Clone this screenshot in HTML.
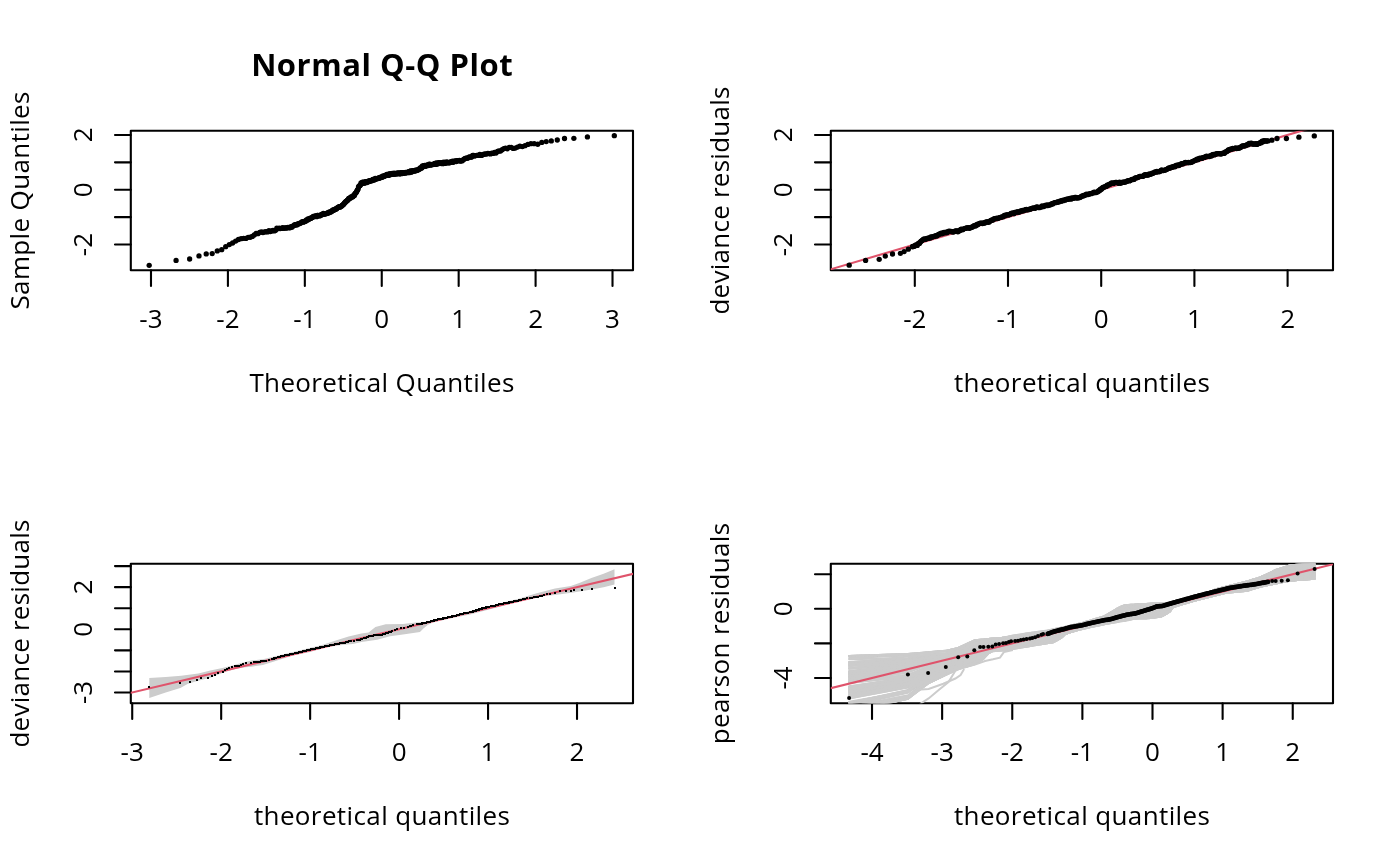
<!DOCTYPE html>
<html><head><meta charset="utf-8"><style>
html,body{margin:0;padding:0;background:#fff;}
svg{display:block;}
</style></head><body>
<svg width="1400" height="866" viewBox="0 0 1400 866" font-family="'Open Sans', 'Liberation Sans', sans-serif" font-size="26" fill="#000">
<rect width="1400" height="866" fill="#fff"/>
<defs><clipPath id="c1"><rect x="130.8" y="130.8" width="502.2" height="139.5"/></clipPath><clipPath id="c2"><rect x="830.8" y="130.8" width="502.2" height="139.5"/></clipPath><clipPath id="c3"><rect x="130.8" y="563.8" width="502.2" height="139.5"/></clipPath><clipPath id="c4"><rect x="830.8" y="563.8" width="502.2" height="139.5"/></clipPath></defs>
<rect x="130.8" y="130.8" width="502.2" height="139.5" fill="none" stroke="#000" stroke-width="2.1" stroke-linejoin="round"/>
<path d="M150.99 270.3V285.9M227.91 270.3V285.9M304.83 270.3V285.9M381.75 270.3V285.9M458.67 270.3V285.9M535.59 270.3V285.9M612.51 270.3V285.9M130.8 244.55H115M130.8 217.15H115M130.8 189.74H115M130.8 162.34H115M130.8 134.93H115" stroke="#000" stroke-width="2.1" stroke-linecap="round" fill="none"/>
<text x="150.99" y="327.5" text-anchor="middle">-3</text>
<text x="227.91" y="327.5" text-anchor="middle">-2</text>
<text x="304.83" y="327.5" text-anchor="middle">-1</text>
<text x="381.75" y="327.5" text-anchor="middle">0</text>
<text x="458.67" y="327.5" text-anchor="middle">1</text>
<text x="535.59" y="327.5" text-anchor="middle">2</text>
<text x="612.51" y="327.5" text-anchor="middle">3</text>
<text transform="translate(92 244.55) rotate(-90)" text-anchor="middle">-2</text>
<text transform="translate(92 189.74) rotate(-90)" text-anchor="middle">0</text>
<text transform="translate(92 134.93) rotate(-90)" text-anchor="middle">2</text>
<text x="381.9" y="391.8" text-anchor="middle" textLength="265" lengthAdjust="spacing">Theoretical Quantiles</text>
<text transform="translate(28.9 200.55) rotate(-90)" text-anchor="middle" textLength="218" lengthAdjust="spacing">Sample Quantiles</text>
<text x="381.9" y="76.4" text-anchor="middle" font-weight="bold" font-size="31" textLength="261.5" lengthAdjust="spacing">Normal Q-Q Plot</text>
<g clip-path="url(#c1)"><circle cx="149.19" cy="265.3" r="2.65"/><circle cx="176.08" cy="260.39" r="2.65"/><circle cx="189.63" cy="259.01" r="2.65"/><circle cx="198.99" cy="255.94" r="2.65"/><circle cx="206.23" cy="253.95" r="2.65"/><circle cx="212.19" cy="253.55" r="2.65"/><circle cx="217.28" cy="250.95" r="2.65"/><circle cx="221.73" cy="249.65" r="2.65"/><circle cx="225.71" cy="246.7" r="2.65"/><circle cx="229.31" cy="244.53" r="2.65"/><circle cx="232.6" cy="242.98" r="2.65"/><circle cx="235.64" cy="241.03" r="2.65"/><circle cx="238.47" cy="239.52" r="2.65"/><circle cx="241.11" cy="238.69" r="2.65"/><circle cx="243.6" cy="238.32" r="2.65"/><circle cx="245.96" cy="238.42" r="2.65"/><circle cx="248.19" cy="237.29" r="2.65"/><circle cx="250.31" cy="237.23" r="2.65"/><circle cx="252.34" cy="236.44" r="2.65"/><circle cx="254.29" cy="234.95" r="2.65"/><circle cx="256.15" cy="233.28" r="2.65"/><circle cx="257.94" cy="233.71" r="2.65"/><circle cx="259.67" cy="232.37" r="2.65"/><circle cx="261.34" cy="232.01" r="2.65"/><circle cx="262.96" cy="232.51" r="2.65"/><circle cx="264.52" cy="231.93" r="2.65"/><circle cx="266.04" cy="231.63" r="2.65"/><circle cx="267.51" cy="231.92" r="2.65"/><circle cx="268.94" cy="230.75" r="2.65"/><circle cx="270.34" cy="231.57" r="2.65"/><circle cx="271.7" cy="230.94" r="2.65"/><circle cx="273.02" cy="230.31" r="2.65"/><circle cx="274.31" cy="230.88" r="2.65"/><circle cx="275.58" cy="230.35" r="2.65"/><circle cx="276.81" cy="228.26" r="2.65"/><circle cx="278.02" cy="228.67" r="2.65"/><circle cx="279.21" cy="228.08" r="2.65"/><circle cx="280.37" cy="228.58" r="2.65"/><circle cx="281.51" cy="228.43" r="2.65"/><circle cx="282.62" cy="227.61" r="2.65"/><circle cx="283.72" cy="228.36" r="2.65"/><circle cx="284.79" cy="228" r="2.65"/><circle cx="285.85" cy="227.93" r="2.65"/><circle cx="286.89" cy="228.01" r="2.65"/><circle cx="287.91" cy="227.36" r="2.65"/><circle cx="288.92" cy="227.72" r="2.65"/><circle cx="289.91" cy="227.78" r="2.65"/><circle cx="290.89" cy="226.6" r="2.65"/><circle cx="291.85" cy="227.32" r="2.65"/><circle cx="292.8" cy="226.1" r="2.65"/><circle cx="293.73" cy="225.66" r="2.65"/><circle cx="294.65" cy="224.74" r="2.65"/><circle cx="295.56" cy="225.19" r="2.65"/><circle cx="296.46" cy="224.29" r="2.65"/><circle cx="297.34" cy="224.78" r="2.65"/><circle cx="298.22" cy="223.63" r="2.65"/><circle cx="299.08" cy="223.72" r="2.65"/><circle cx="299.94" cy="223.18" r="2.65"/><circle cx="300.78" cy="223.1" r="2.65"/><circle cx="301.61" cy="222.12" r="2.65"/><circle cx="302.44" cy="221.72" r="2.65"/><circle cx="303.25" cy="222.13" r="2.65"/><circle cx="304.06" cy="221.76" r="2.65"/><circle cx="304.86" cy="221.13" r="2.65"/><circle cx="305.65" cy="221.26" r="2.65"/><circle cx="306.43" cy="219.83" r="2.65"/><circle cx="307.21" cy="220.3" r="2.65"/><circle cx="307.97" cy="218.92" r="2.65"/><circle cx="308.73" cy="219.6" r="2.65"/><circle cx="309.49" cy="218.7" r="2.65"/><circle cx="310.23" cy="218.26" r="2.65"/><circle cx="310.97" cy="218.35" r="2.65"/><circle cx="311.71" cy="217.75" r="2.65"/><circle cx="312.43" cy="217.58" r="2.65"/><circle cx="313.15" cy="216.38" r="2.65"/><circle cx="313.87" cy="216.65" r="2.65"/><circle cx="314.58" cy="216.08" r="2.65"/><circle cx="315.28" cy="216.06" r="2.65"/><circle cx="315.98" cy="215.92" r="2.65"/><circle cx="316.67" cy="216.65" r="2.65"/><circle cx="317.36" cy="215.46" r="2.65"/><circle cx="318.04" cy="215.49" r="2.65"/><circle cx="318.71" cy="215.55" r="2.65"/><circle cx="319.39" cy="215.84" r="2.65"/><circle cx="320.05" cy="215.8" r="2.65"/><circle cx="320.72" cy="215.23" r="2.65"/><circle cx="321.37" cy="214.33" r="2.65"/><circle cx="322.03" cy="214.6" r="2.65"/><circle cx="322.68" cy="214.62" r="2.65"/><circle cx="323.32" cy="213.52" r="2.65"/><circle cx="323.96" cy="214.24" r="2.65"/><circle cx="324.6" cy="213.65" r="2.65"/><circle cx="325.23" cy="213.81" r="2.65"/><circle cx="325.86" cy="213.77" r="2.65"/><circle cx="326.49" cy="213.62" r="2.65"/><circle cx="327.11" cy="213.26" r="2.65"/><circle cx="327.73" cy="213.16" r="2.65"/><circle cx="328.35" cy="212.51" r="2.65"/><circle cx="328.96" cy="212.76" r="2.65"/><circle cx="329.57" cy="211.9" r="2.65"/><circle cx="330.17" cy="212.06" r="2.65"/><circle cx="330.77" cy="211.8" r="2.65"/><circle cx="331.37" cy="211.8" r="2.65"/><circle cx="331.97" cy="210.93" r="2.65"/><circle cx="332.56" cy="210.07" r="2.65"/><circle cx="333.15" cy="210.45" r="2.65"/><circle cx="333.74" cy="209.67" r="2.65"/><circle cx="334.32" cy="210.09" r="2.65"/><circle cx="334.9" cy="209.28" r="2.65"/><circle cx="335.48" cy="208.95" r="2.65"/><circle cx="336.06" cy="209.37" r="2.65"/><circle cx="336.63" cy="208.33" r="2.65"/><circle cx="337.2" cy="207.95" r="2.65"/><circle cx="337.77" cy="207.64" r="2.65"/><circle cx="338.34" cy="207.51" r="2.65"/><circle cx="338.9" cy="206.66" r="2.65"/><circle cx="339.46" cy="206.98" r="2.65"/><circle cx="340.02" cy="207.2" r="2.65"/><circle cx="340.58" cy="206.34" r="2.65"/><circle cx="341.14" cy="206.15" r="2.65"/><circle cx="341.69" cy="205.99" r="2.65"/><circle cx="342.24" cy="205.4" r="2.65"/><circle cx="342.79" cy="204.82" r="2.65"/><circle cx="343.34" cy="204.48" r="2.65"/><circle cx="343.88" cy="204.05" r="2.65"/><circle cx="344.42" cy="202.82" r="2.65"/><circle cx="344.97" cy="202.7" r="2.65"/><circle cx="345.51" cy="201.97" r="2.65"/><circle cx="346.04" cy="201.32" r="2.65"/><circle cx="346.58" cy="201.22" r="2.65"/><circle cx="347.11" cy="200.33" r="2.65"/><circle cx="347.65" cy="200.22" r="2.65"/><circle cx="348.18" cy="199.64" r="2.65"/><circle cx="348.71" cy="198.44" r="2.65"/><circle cx="349.23" cy="198.49" r="2.65"/><circle cx="349.76" cy="198.12" r="2.65"/><circle cx="350.29" cy="198.27" r="2.65"/><circle cx="350.81" cy="197.11" r="2.65"/><circle cx="351.33" cy="196.93" r="2.65"/><circle cx="351.85" cy="197.12" r="2.65"/><circle cx="352.37" cy="196.68" r="2.65"/><circle cx="352.89" cy="196.75" r="2.65"/><circle cx="353.4" cy="195.8" r="2.65"/><circle cx="353.92" cy="194.99" r="2.65"/><circle cx="354.43" cy="195.4" r="2.65"/><circle cx="354.95" cy="193.81" r="2.65"/><circle cx="355.46" cy="193.06" r="2.65"/><circle cx="355.97" cy="192.63" r="2.65"/><circle cx="356.48" cy="192.1" r="2.65"/><circle cx="356.99" cy="190.74" r="2.65"/><circle cx="357.49" cy="189.95" r="2.65"/><circle cx="358" cy="189.29" r="2.65"/><circle cx="358.5" cy="186.93" r="2.65"/><circle cx="359.01" cy="186.22" r="2.65"/><circle cx="359.51" cy="185.83" r="2.65"/><circle cx="360.01" cy="185.39" r="2.65"/><circle cx="360.52" cy="184.81" r="2.65"/><circle cx="361.02" cy="182.87" r="2.65"/><circle cx="361.51" cy="183.1" r="2.65"/><circle cx="362.01" cy="183.49" r="2.65"/><circle cx="362.51" cy="182.25" r="2.65"/><circle cx="363.01" cy="182.91" r="2.65"/><circle cx="363.5" cy="182.24" r="2.65"/><circle cx="364" cy="182.99" r="2.65"/><circle cx="364.49" cy="183.14" r="2.65"/><circle cx="364.99" cy="182.5" r="2.65"/><circle cx="365.48" cy="181.67" r="2.65"/><circle cx="365.97" cy="181.66" r="2.65"/><circle cx="366.47" cy="182.06" r="2.65"/><circle cx="366.96" cy="182.49" r="2.65"/><circle cx="367.45" cy="181.46" r="2.65"/><circle cx="367.94" cy="181.9" r="2.65"/><circle cx="368.43" cy="181.36" r="2.65"/><circle cx="368.92" cy="180.99" r="2.65"/><circle cx="369.41" cy="181.43" r="2.65"/><circle cx="369.89" cy="180.71" r="2.65"/><circle cx="370.38" cy="180.62" r="2.65"/><circle cx="370.87" cy="181" r="2.65"/><circle cx="371.35" cy="180.45" r="2.65"/><circle cx="371.84" cy="180.69" r="2.65"/><circle cx="372.33" cy="180.14" r="2.65"/><circle cx="372.81" cy="179.45" r="2.65"/><circle cx="373.3" cy="179.66" r="2.65"/><circle cx="373.78" cy="180.07" r="2.65"/><circle cx="374.27" cy="179.45" r="2.65"/><circle cx="374.75" cy="179.83" r="2.65"/><circle cx="375.23" cy="178.29" r="2.65"/><circle cx="375.72" cy="178.58" r="2.65"/><circle cx="376.2" cy="178.99" r="2.65"/><circle cx="376.69" cy="178.71" r="2.65"/><circle cx="377.17" cy="178.42" r="2.65"/><circle cx="377.65" cy="178.44" r="2.65"/><circle cx="378.13" cy="178.62" r="2.65"/><circle cx="378.62" cy="178.23" r="2.65"/><circle cx="379.1" cy="177.92" r="2.65"/><circle cx="379.58" cy="177.82" r="2.65"/><circle cx="380.06" cy="177.84" r="2.65"/><circle cx="380.54" cy="177.24" r="2.65"/><circle cx="381.03" cy="177.52" r="2.65"/><circle cx="381.51" cy="177.25" r="2.65"/><circle cx="381.99" cy="177.29" r="2.65"/><circle cx="382.47" cy="176.67" r="2.65"/><circle cx="382.96" cy="175.84" r="2.65"/><circle cx="383.44" cy="176.36" r="2.65"/><circle cx="383.92" cy="176.61" r="2.65"/><circle cx="384.4" cy="176.11" r="2.65"/><circle cx="384.88" cy="175.92" r="2.65"/><circle cx="385.37" cy="175.37" r="2.65"/><circle cx="385.85" cy="175.12" r="2.65"/><circle cx="386.33" cy="175.43" r="2.65"/><circle cx="386.81" cy="174.43" r="2.65"/><circle cx="387.3" cy="175.44" r="2.65"/><circle cx="387.78" cy="175.36" r="2.65"/><circle cx="388.27" cy="175.39" r="2.65"/><circle cx="388.75" cy="174.14" r="2.65"/><circle cx="389.23" cy="174.01" r="2.65"/><circle cx="389.72" cy="175.01" r="2.65"/><circle cx="390.2" cy="174.23" r="2.65"/><circle cx="390.69" cy="173.95" r="2.65"/><circle cx="391.17" cy="174.01" r="2.65"/><circle cx="391.66" cy="174.31" r="2.65"/><circle cx="392.15" cy="173.52" r="2.65"/><circle cx="392.63" cy="173.93" r="2.65"/><circle cx="393.12" cy="174.12" r="2.65"/><circle cx="393.61" cy="174.15" r="2.65"/><circle cx="394.09" cy="173.11" r="2.65"/><circle cx="394.58" cy="174.18" r="2.65"/><circle cx="395.07" cy="173.6" r="2.65"/><circle cx="395.56" cy="173.55" r="2.65"/><circle cx="396.05" cy="173.68" r="2.65"/><circle cx="396.54" cy="173.23" r="2.65"/><circle cx="397.03" cy="174.03" r="2.65"/><circle cx="397.53" cy="173.04" r="2.65"/><circle cx="398.02" cy="173.45" r="2.65"/><circle cx="398.51" cy="172.88" r="2.65"/><circle cx="399.01" cy="173.47" r="2.65"/><circle cx="399.5" cy="173.82" r="2.65"/><circle cx="400" cy="173.75" r="2.65"/><circle cx="400.49" cy="172.66" r="2.65"/><circle cx="400.99" cy="173.3" r="2.65"/><circle cx="401.49" cy="173.63" r="2.65"/><circle cx="401.99" cy="172.62" r="2.65"/><circle cx="402.48" cy="172.88" r="2.65"/><circle cx="402.98" cy="173.25" r="2.65"/><circle cx="403.49" cy="173.24" r="2.65"/><circle cx="403.99" cy="172.77" r="2.65"/><circle cx="404.49" cy="172.95" r="2.65"/><circle cx="405" cy="172.92" r="2.65"/><circle cx="405.5" cy="172.39" r="2.65"/><circle cx="406.01" cy="172.73" r="2.65"/><circle cx="406.51" cy="172.55" r="2.65"/><circle cx="407.02" cy="172.64" r="2.65"/><circle cx="407.53" cy="172.3" r="2.65"/><circle cx="408.04" cy="171.97" r="2.65"/><circle cx="408.55" cy="172.03" r="2.65"/><circle cx="409.07" cy="172.63" r="2.65"/><circle cx="409.58" cy="171.49" r="2.65"/><circle cx="410.1" cy="171.31" r="2.65"/><circle cx="410.61" cy="170.99" r="2.65"/><circle cx="411.13" cy="172.04" r="2.65"/><circle cx="411.65" cy="172.11" r="2.65"/><circle cx="412.17" cy="170.93" r="2.65"/><circle cx="412.69" cy="170.84" r="2.65"/><circle cx="413.21" cy="170.62" r="2.65"/><circle cx="413.74" cy="171.05" r="2.65"/><circle cx="414.27" cy="170.76" r="2.65"/><circle cx="414.79" cy="171.1" r="2.65"/><circle cx="415.32" cy="170.07" r="2.65"/><circle cx="415.85" cy="170.81" r="2.65"/><circle cx="416.39" cy="170.04" r="2.65"/><circle cx="416.92" cy="170.32" r="2.65"/><circle cx="417.46" cy="170.11" r="2.65"/><circle cx="417.99" cy="170.07" r="2.65"/><circle cx="418.53" cy="169.29" r="2.65"/><circle cx="419.08" cy="169.25" r="2.65"/><circle cx="419.62" cy="168.97" r="2.65"/><circle cx="420.16" cy="168" r="2.65"/><circle cx="420.71" cy="167.99" r="2.65"/><circle cx="421.26" cy="168.13" r="2.65"/><circle cx="421.81" cy="167.66" r="2.65"/><circle cx="422.36" cy="165.96" r="2.65"/><circle cx="422.92" cy="166.67" r="2.65"/><circle cx="423.48" cy="166.03" r="2.65"/><circle cx="424.04" cy="165.6" r="2.65"/><circle cx="424.6" cy="165.44" r="2.65"/><circle cx="425.16" cy="166.18" r="2.65"/><circle cx="425.73" cy="166.24" r="2.65"/><circle cx="426.3" cy="165.46" r="2.65"/><circle cx="426.87" cy="165.15" r="2.65"/><circle cx="427.44" cy="165.21" r="2.65"/><circle cx="428.02" cy="165.55" r="2.65"/><circle cx="428.6" cy="165.32" r="2.65"/><circle cx="429.18" cy="164.25" r="2.65"/><circle cx="429.76" cy="164.35" r="2.65"/><circle cx="430.35" cy="165.15" r="2.65"/><circle cx="430.94" cy="164.51" r="2.65"/><circle cx="431.53" cy="164.63" r="2.65"/><circle cx="432.13" cy="164.68" r="2.65"/><circle cx="432.73" cy="164.39" r="2.65"/><circle cx="433.33" cy="164.44" r="2.65"/><circle cx="433.93" cy="164.08" r="2.65"/><circle cx="434.54" cy="163.54" r="2.65"/><circle cx="435.15" cy="163.39" r="2.65"/><circle cx="435.77" cy="164.42" r="2.65"/><circle cx="436.39" cy="162.95" r="2.65"/><circle cx="437.01" cy="163.81" r="2.65"/><circle cx="437.64" cy="163.97" r="2.65"/><circle cx="438.27" cy="162.99" r="2.65"/><circle cx="438.9" cy="162.68" r="2.65"/><circle cx="439.54" cy="163.12" r="2.65"/><circle cx="440.18" cy="162.96" r="2.65"/><circle cx="440.82" cy="163.09" r="2.65"/><circle cx="441.47" cy="162.99" r="2.65"/><circle cx="442.13" cy="163.65" r="2.65"/><circle cx="442.78" cy="162.44" r="2.65"/><circle cx="443.45" cy="163.54" r="2.65"/><circle cx="444.11" cy="162.22" r="2.65"/><circle cx="444.79" cy="163.41" r="2.65"/><circle cx="445.46" cy="162.51" r="2.65"/><circle cx="446.14" cy="163.01" r="2.65"/><circle cx="446.83" cy="161.94" r="2.65"/><circle cx="447.52" cy="162.5" r="2.65"/><circle cx="448.22" cy="162.76" r="2.65"/><circle cx="448.92" cy="162.64" r="2.65"/><circle cx="449.63" cy="162.82" r="2.65"/><circle cx="450.35" cy="161.79" r="2.65"/><circle cx="451.07" cy="162.01" r="2.65"/><circle cx="451.79" cy="162.18" r="2.65"/><circle cx="452.53" cy="161.24" r="2.65"/><circle cx="453.27" cy="162.24" r="2.65"/><circle cx="454.01" cy="161.52" r="2.65"/><circle cx="454.77" cy="161.15" r="2.65"/><circle cx="455.53" cy="160.99" r="2.65"/><circle cx="456.29" cy="161.49" r="2.65"/><circle cx="457.07" cy="160.54" r="2.65"/><circle cx="457.85" cy="160.72" r="2.65"/><circle cx="458.64" cy="160.69" r="2.65"/><circle cx="459.44" cy="160.52" r="2.65"/><circle cx="460.25" cy="161.08" r="2.65"/><circle cx="461.06" cy="160.77" r="2.65"/><circle cx="461.89" cy="160.94" r="2.65"/><circle cx="462.72" cy="160.28" r="2.65"/><circle cx="463.56" cy="159.33" r="2.65"/><circle cx="464.42" cy="158.98" r="2.65"/><circle cx="465.28" cy="158.3" r="2.65"/><circle cx="466.16" cy="158.07" r="2.65"/><circle cx="467.04" cy="158.17" r="2.65"/><circle cx="467.94" cy="158.03" r="2.65"/><circle cx="468.85" cy="157.11" r="2.65"/><circle cx="469.77" cy="156.86" r="2.65"/><circle cx="470.7" cy="157.18" r="2.65"/><circle cx="471.65" cy="157.07" r="2.65"/><circle cx="472.61" cy="155.52" r="2.65"/><circle cx="473.59" cy="155.29" r="2.65"/><circle cx="474.58" cy="156.1" r="2.65"/><circle cx="475.59" cy="155.57" r="2.65"/><circle cx="476.61" cy="155.31" r="2.65"/><circle cx="477.65" cy="155.44" r="2.65"/><circle cx="478.71" cy="155.45" r="2.65"/><circle cx="479.78" cy="154.33" r="2.65"/><circle cx="480.88" cy="155.43" r="2.65"/><circle cx="481.99" cy="155.26" r="2.65"/><circle cx="483.13" cy="154.35" r="2.65"/><circle cx="484.29" cy="154.26" r="2.65"/><circle cx="485.48" cy="153.8" r="2.65"/><circle cx="486.69" cy="154.05" r="2.65"/><circle cx="487.92" cy="153.32" r="2.65"/><circle cx="489.19" cy="153.58" r="2.65"/><circle cx="490.48" cy="153.9" r="2.65"/><circle cx="491.8" cy="153.16" r="2.65"/><circle cx="493.16" cy="153.41" r="2.65"/><circle cx="494.56" cy="152.31" r="2.65"/><circle cx="495.99" cy="153.03" r="2.65"/><circle cx="497.46" cy="151.42" r="2.65"/><circle cx="498.98" cy="150.99" r="2.65"/><circle cx="500.54" cy="151.09" r="2.65"/><circle cx="502.16" cy="149.69" r="2.65"/><circle cx="503.83" cy="148.6" r="2.65"/><circle cx="505.56" cy="148.12" r="2.65"/><circle cx="507.35" cy="148.83" r="2.65"/><circle cx="509.21" cy="147.45" r="2.65"/><circle cx="511.16" cy="147.32" r="2.65"/><circle cx="513.19" cy="148.46" r="2.65"/><circle cx="515.31" cy="148.12" r="2.65"/><circle cx="517.54" cy="147.05" r="2.65"/><circle cx="519.9" cy="146.2" r="2.65"/><circle cx="522.39" cy="146.55" r="2.65"/><circle cx="525.03" cy="145.69" r="2.65"/><circle cx="527.86" cy="144.42" r="2.65"/><circle cx="530.9" cy="143.64" r="2.65"/><circle cx="534.19" cy="143.64" r="2.65"/><circle cx="537.79" cy="144.27" r="2.65"/><circle cx="541.77" cy="142.44" r="2.65"/><circle cx="546.22" cy="141.54" r="2.65"/><circle cx="551.31" cy="140.92" r="2.65"/><circle cx="557.27" cy="140.01" r="2.65"/><circle cx="564.51" cy="138.52" r="2.65"/><circle cx="573.87" cy="138.3" r="2.65"/><circle cx="587.42" cy="136.9" r="2.65"/><circle cx="614.31" cy="135.7" r="2.65"/></g>
<rect x="830.8" y="130.8" width="502.2" height="139.5" fill="none" stroke="#000" stroke-width="2.1" stroke-linejoin="round"/>
<path d="M914.8 270.3V285.9M1008 270.3V285.9M1101.2 270.3V285.9M1194.4 270.3V285.9M1287.6 270.3V285.9M830.8 244.55H815M830.8 217.15H815M830.8 189.74H815M830.8 162.34H815M830.8 134.93H815" stroke="#000" stroke-width="2.1" stroke-linecap="round" fill="none"/>
<text x="914.8" y="327.5" text-anchor="middle">-2</text>
<text x="1008" y="327.5" text-anchor="middle">-1</text>
<text x="1101.2" y="327.5" text-anchor="middle">0</text>
<text x="1194.4" y="327.5" text-anchor="middle">1</text>
<text x="1287.6" y="327.5" text-anchor="middle">2</text>
<text transform="translate(792 244.55) rotate(-90)" text-anchor="middle">-2</text>
<text transform="translate(792 189.74) rotate(-90)" text-anchor="middle">0</text>
<text transform="translate(792 134.93) rotate(-90)" text-anchor="middle">2</text>
<text x="1081.9" y="391.8" text-anchor="middle" textLength="256" lengthAdjust="spacing">theoretical quantiles</text>
<text transform="translate(728.9 200.55) rotate(-90)" text-anchor="middle" textLength="228" lengthAdjust="spacing">deviance residuals</text>
<g clip-path="url(#c2)"><line x1="728.4" y1="299.36" x2="1474" y2="80.12" stroke="#DF536B" stroke-width="2.1"/><circle cx="849.2" cy="265.2" r="2.65"/><circle cx="865.6" cy="260.4" r="2.65"/><circle cx="879.2" cy="259.3" r="2.65"/><circle cx="885.3" cy="256.1" r="2.65"/><circle cx="892.5" cy="254" r="2.65"/><circle cx="900.4" cy="253.4" r="2.65"/><circle cx="904.1" cy="251.6" r="2.65"/><circle cx="908.3" cy="249.2" r="2.65"/><circle cx="912.6" cy="246.8" r="2.65"/><circle cx="1271.9" cy="140.2" r="2.65"/><circle cx="1277" cy="138.5" r="2.65"/><circle cx="1286.4" cy="138.5" r="2.65"/><circle cx="1298.9" cy="137.2" r="2.65"/><circle cx="1314.3" cy="135.9" r="2.65"/><circle cx="912.6" cy="246.35" r="2.65"/><circle cx="913.53" cy="246.43" r="2.65"/><circle cx="914.46" cy="246.19" r="2.65"/><circle cx="915.39" cy="245.13" r="2.65"/><circle cx="916.32" cy="244.91" r="2.65"/><circle cx="917.25" cy="245.47" r="2.65"/><circle cx="918" cy="243.8" r="2.65"/><circle cx="918.71" cy="243.17" r="2.65"/><circle cx="919.43" cy="243.45" r="2.65"/><circle cx="920.14" cy="242.36" r="2.65"/><circle cx="920.86" cy="241.36" r="2.65"/><circle cx="921.57" cy="240.83" r="2.65"/><circle cx="922.28" cy="240.31" r="2.65"/><circle cx="923.22" cy="239.49" r="2.65"/><circle cx="924.15" cy="238.97" r="2.65"/><circle cx="925.09" cy="239.4" r="2.65"/><circle cx="926.03" cy="238.91" r="2.65"/><circle cx="926.96" cy="238.37" r="2.65"/><circle cx="927.92" cy="238.47" r="2.65"/><circle cx="928.89" cy="237.89" r="2.65"/><circle cx="929.86" cy="238.16" r="2.65"/><circle cx="930.83" cy="236.98" r="2.65"/><circle cx="931.8" cy="237.14" r="2.65"/><circle cx="932.76" cy="236.81" r="2.65"/><circle cx="933.73" cy="236.4" r="2.65"/><circle cx="934.69" cy="236.39" r="2.65"/><circle cx="935.61" cy="235.58" r="2.65"/><circle cx="936.54" cy="235.89" r="2.65"/><circle cx="937.46" cy="235.58" r="2.65"/><circle cx="938.39" cy="234.32" r="2.65"/><circle cx="939.31" cy="234.34" r="2.65"/><circle cx="940.24" cy="233.73" r="2.65"/><circle cx="941.16" cy="233.12" r="2.65"/><circle cx="942.11" cy="233.79" r="2.65"/><circle cx="943.08" cy="233.01" r="2.65"/><circle cx="944.06" cy="232.46" r="2.65"/><circle cx="945.04" cy="232.88" r="2.65"/><circle cx="946.01" cy="232.1" r="2.65"/><circle cx="946.99" cy="232.72" r="2.65"/><circle cx="947.97" cy="231.69" r="2.65"/><circle cx="948.94" cy="231.25" r="2.65"/><circle cx="949.94" cy="231.39" r="2.65"/><circle cx="950.94" cy="231.5" r="2.65"/><circle cx="951.94" cy="231.59" r="2.65"/><circle cx="952.94" cy="232.06" r="2.65"/><circle cx="953.93" cy="231.75" r="2.65"/><circle cx="954.93" cy="231.26" r="2.65"/><circle cx="955.93" cy="230.81" r="2.65"/><circle cx="956.93" cy="230.93" r="2.65"/><circle cx="957.9" cy="231.74" r="2.65"/><circle cx="958.83" cy="230.73" r="2.65"/><circle cx="959.76" cy="230.64" r="2.65"/><circle cx="960.69" cy="229.51" r="2.65"/><circle cx="961.62" cy="229.12" r="2.65"/><circle cx="962.55" cy="229.73" r="2.65"/><circle cx="963.48" cy="229.05" r="2.65"/><circle cx="964.46" cy="228.53" r="2.65"/><circle cx="965.45" cy="228.38" r="2.65"/><circle cx="966.44" cy="227.94" r="2.65"/><circle cx="967.42" cy="227.88" r="2.65"/><circle cx="968.41" cy="227.54" r="2.65"/><circle cx="969.4" cy="228.35" r="2.65"/><circle cx="970.38" cy="227.74" r="2.65"/><circle cx="971.33" cy="227.05" r="2.65"/><circle cx="972.23" cy="227.36" r="2.65"/><circle cx="973.14" cy="226.28" r="2.65"/><circle cx="974.04" cy="225.69" r="2.65"/><circle cx="974.95" cy="225.91" r="2.65"/><circle cx="975.85" cy="225.84" r="2.65"/><circle cx="976.76" cy="224.37" r="2.65"/><circle cx="977.66" cy="224.87" r="2.65"/><circle cx="978.6" cy="223.81" r="2.65"/><circle cx="979.57" cy="223.45" r="2.65"/><circle cx="980.54" cy="223.12" r="2.65"/><circle cx="981.51" cy="223.22" r="2.65"/><circle cx="982.48" cy="223.5" r="2.65"/><circle cx="983.45" cy="222.98" r="2.65"/><circle cx="984.43" cy="223.17" r="2.65"/><circle cx="985.4" cy="222.17" r="2.65"/><circle cx="986.37" cy="222.05" r="2.65"/><circle cx="987.34" cy="221.75" r="2.65"/><circle cx="988.29" cy="222.31" r="2.65"/><circle cx="989.21" cy="221.88" r="2.65"/><circle cx="990.14" cy="220.78" r="2.65"/><circle cx="991.06" cy="220.51" r="2.65"/><circle cx="991.98" cy="219.98" r="2.65"/><circle cx="992.91" cy="220.11" r="2.65"/><circle cx="993.83" cy="218.88" r="2.65"/><circle cx="994.77" cy="218.58" r="2.65"/><circle cx="995.72" cy="218.66" r="2.65"/><circle cx="996.67" cy="218.15" r="2.65"/><circle cx="997.61" cy="218.54" r="2.65"/><circle cx="998.56" cy="218.09" r="2.65"/><circle cx="999.5" cy="217.53" r="2.65"/><circle cx="1000.45" cy="217.35" r="2.65"/><circle cx="1001.39" cy="217.06" r="2.65"/><circle cx="1002.34" cy="216.84" r="2.65"/><circle cx="1003.29" cy="216.69" r="2.65"/><circle cx="1004.23" cy="215.44" r="2.65"/><circle cx="1005.18" cy="215.68" r="2.65"/><circle cx="1006.12" cy="214.78" r="2.65"/><circle cx="1007.07" cy="214.82" r="2.65"/><circle cx="1008.02" cy="214.91" r="2.65"/><circle cx="1008.99" cy="214.8" r="2.65"/><circle cx="1009.96" cy="214.4" r="2.65"/><circle cx="1010.93" cy="213.28" r="2.65"/><circle cx="1011.9" cy="213.43" r="2.65"/><circle cx="1012.87" cy="212.95" r="2.65"/><circle cx="1013.84" cy="213.71" r="2.65"/><circle cx="1014.81" cy="212.45" r="2.65"/><circle cx="1015.78" cy="212.32" r="2.65"/><circle cx="1016.75" cy="212.22" r="2.65"/><circle cx="1017.72" cy="211.62" r="2.65"/><circle cx="1018.69" cy="212.35" r="2.65"/><circle cx="1019.66" cy="211.82" r="2.65"/><circle cx="1020.63" cy="211.01" r="2.65"/><circle cx="1021.6" cy="211.17" r="2.65"/><circle cx="1022.57" cy="210.43" r="2.65"/><circle cx="1023.54" cy="210.83" r="2.65"/><circle cx="1024.51" cy="210.13" r="2.65"/><circle cx="1025.48" cy="209.66" r="2.65"/><circle cx="1026.45" cy="209.51" r="2.65"/><circle cx="1027.43" cy="209.8" r="2.65"/><circle cx="1028.4" cy="209.66" r="2.65"/><circle cx="1029.37" cy="209.04" r="2.65"/><circle cx="1030.34" cy="209.18" r="2.65"/><circle cx="1031.31" cy="208.59" r="2.65"/><circle cx="1032.28" cy="208.08" r="2.65"/><circle cx="1033.25" cy="208.07" r="2.65"/><circle cx="1034.23" cy="207.95" r="2.65"/><circle cx="1035.21" cy="208.37" r="2.65"/><circle cx="1036.19" cy="207.21" r="2.65"/><circle cx="1037.17" cy="206.98" r="2.65"/><circle cx="1038.15" cy="207.35" r="2.65"/><circle cx="1039.13" cy="207.63" r="2.65"/><circle cx="1040.11" cy="207.37" r="2.65"/><circle cx="1041.09" cy="206.92" r="2.65"/><circle cx="1042.07" cy="205.96" r="2.65"/><circle cx="1043.05" cy="206.65" r="2.65"/><circle cx="1044.03" cy="206.3" r="2.65"/><circle cx="1045.01" cy="205.46" r="2.65"/><circle cx="1045.99" cy="205.64" r="2.65"/><circle cx="1046.95" cy="204.89" r="2.65"/><circle cx="1047.91" cy="205.49" r="2.65"/><circle cx="1048.86" cy="205.1" r="2.65"/><circle cx="1049.82" cy="204.9" r="2.65"/><circle cx="1050.77" cy="204.55" r="2.65"/><circle cx="1051.73" cy="203.67" r="2.65"/><circle cx="1052.68" cy="204" r="2.65"/><circle cx="1053.64" cy="203.05" r="2.65"/><circle cx="1054.59" cy="202.62" r="2.65"/><circle cx="1055.55" cy="202.63" r="2.65"/><circle cx="1056.5" cy="202.46" r="2.65"/><circle cx="1057.46" cy="201.91" r="2.65"/><circle cx="1058.41" cy="202" r="2.65"/><circle cx="1059.37" cy="201.69" r="2.65"/><circle cx="1060.32" cy="200.96" r="2.65"/><circle cx="1061.28" cy="201.13" r="2.65"/><circle cx="1062.23" cy="200.51" r="2.65"/><circle cx="1063.19" cy="200.67" r="2.65"/><circle cx="1064.14" cy="199.84" r="2.65"/><circle cx="1065.1" cy="200.15" r="2.65"/><circle cx="1066.05" cy="199.39" r="2.65"/><circle cx="1067.01" cy="199.26" r="2.65"/><circle cx="1067.99" cy="199.26" r="2.65"/><circle cx="1068.98" cy="198.93" r="2.65"/><circle cx="1069.97" cy="198.47" r="2.65"/><circle cx="1070.96" cy="199.19" r="2.65"/><circle cx="1071.95" cy="197.99" r="2.65"/><circle cx="1072.94" cy="198.12" r="2.65"/><circle cx="1073.93" cy="198.24" r="2.65"/><circle cx="1074.92" cy="197.47" r="2.65"/><circle cx="1075.91" cy="197.48" r="2.65"/><circle cx="1076.9" cy="198.11" r="2.65"/><circle cx="1077.89" cy="197.94" r="2.65"/><circle cx="1078.86" cy="197.56" r="2.65"/><circle cx="1079.8" cy="197.53" r="2.65"/><circle cx="1080.73" cy="197" r="2.65"/><circle cx="1081.67" cy="196.1" r="2.65"/><circle cx="1082.61" cy="196.16" r="2.65"/><circle cx="1083.54" cy="195.44" r="2.65"/><circle cx="1084.48" cy="195.58" r="2.65"/><circle cx="1085.41" cy="194.79" r="2.65"/><circle cx="1086.35" cy="194.16" r="2.65"/><circle cx="1087.28" cy="194.67" r="2.65"/><circle cx="1088.25" cy="194.19" r="2.65"/><circle cx="1089.22" cy="194.03" r="2.65"/><circle cx="1090.2" cy="193.59" r="2.65"/><circle cx="1091.17" cy="193.65" r="2.65"/><circle cx="1092.15" cy="193.03" r="2.65"/><circle cx="1093.13" cy="192.95" r="2.65"/><circle cx="1094.1" cy="192.13" r="2.65"/><circle cx="1095.08" cy="192.5" r="2.65"/><circle cx="1096.05" cy="192.6" r="2.65"/><circle cx="1096.97" cy="192.1" r="2.65"/><circle cx="1097.8" cy="191.67" r="2.65"/><circle cx="1098.64" cy="190.75" r="2.65"/><circle cx="1099.47" cy="190.66" r="2.65"/><circle cx="1100.3" cy="189.18" r="2.65"/><circle cx="1101.14" cy="189.55" r="2.65"/><circle cx="1101.97" cy="188.39" r="2.65"/><circle cx="1102.8" cy="187.5" r="2.65"/><circle cx="1103.64" cy="187.58" r="2.65"/><circle cx="1104.48" cy="186.85" r="2.65"/><circle cx="1105.38" cy="186.37" r="2.65"/><circle cx="1106.27" cy="186.43" r="2.65"/><circle cx="1107.16" cy="185.12" r="2.65"/><circle cx="1108.05" cy="185.24" r="2.65"/><circle cx="1108.94" cy="184.54" r="2.65"/><circle cx="1109.84" cy="184.23" r="2.65"/><circle cx="1110.73" cy="183.74" r="2.65"/><circle cx="1111.62" cy="182.85" r="2.65"/><circle cx="1112.57" cy="183.08" r="2.65"/><circle cx="1113.57" cy="183.45" r="2.65"/><circle cx="1114.57" cy="182.57" r="2.65"/><circle cx="1115.57" cy="182.33" r="2.65"/><circle cx="1116.57" cy="182.34" r="2.65"/><circle cx="1117.57" cy="182.76" r="2.65"/><circle cx="1118.57" cy="183.33" r="2.65"/><circle cx="1119.56" cy="182.16" r="2.65"/><circle cx="1120.56" cy="183.25" r="2.65"/><circle cx="1121.56" cy="182.65" r="2.65"/><circle cx="1122.56" cy="182.1" r="2.65"/><circle cx="1123.56" cy="182.4" r="2.65"/><circle cx="1124.5" cy="181.83" r="2.65"/><circle cx="1125.45" cy="182.11" r="2.65"/><circle cx="1126.39" cy="181.57" r="2.65"/><circle cx="1127.33" cy="180.93" r="2.65"/><circle cx="1128.28" cy="180.56" r="2.65"/><circle cx="1129.22" cy="180.96" r="2.65"/><circle cx="1130.16" cy="180.51" r="2.65"/><circle cx="1131.11" cy="179.78" r="2.65"/><circle cx="1132.05" cy="179.42" r="2.65"/><circle cx="1133" cy="179.48" r="2.65"/><circle cx="1133.94" cy="179.43" r="2.65"/><circle cx="1134.88" cy="178.03" r="2.65"/><circle cx="1135.83" cy="177.79" r="2.65"/><circle cx="1136.77" cy="177.72" r="2.65"/><circle cx="1137.73" cy="177.61" r="2.65"/><circle cx="1138.69" cy="176.79" r="2.65"/><circle cx="1139.65" cy="176.48" r="2.65"/><circle cx="1140.6" cy="176.39" r="2.65"/><circle cx="1141.56" cy="176.3" r="2.65"/><circle cx="1142.52" cy="176.44" r="2.65"/><circle cx="1143.47" cy="175.99" r="2.65"/><circle cx="1144.43" cy="175.01" r="2.65"/><circle cx="1145.39" cy="174.74" r="2.65"/><circle cx="1146.35" cy="174.94" r="2.65"/><circle cx="1147.3" cy="175.15" r="2.65"/><circle cx="1148.26" cy="174.91" r="2.65"/><circle cx="1149.22" cy="173.96" r="2.65"/><circle cx="1150.18" cy="174.3" r="2.65"/><circle cx="1151.13" cy="174.07" r="2.65"/><circle cx="1152.09" cy="173.16" r="2.65"/><circle cx="1153.05" cy="173.28" r="2.65"/><circle cx="1154.01" cy="172.54" r="2.65"/><circle cx="1154.97" cy="172" r="2.65"/><circle cx="1155.93" cy="172.22" r="2.65"/><circle cx="1156.89" cy="171.35" r="2.65"/><circle cx="1157.85" cy="171.76" r="2.65"/><circle cx="1158.8" cy="171.65" r="2.65"/><circle cx="1159.76" cy="171.49" r="2.65"/><circle cx="1160.72" cy="170.65" r="2.65"/><circle cx="1161.68" cy="169.97" r="2.65"/><circle cx="1162.65" cy="170.67" r="2.65"/><circle cx="1163.63" cy="170.42" r="2.65"/><circle cx="1164.61" cy="170.34" r="2.65"/><circle cx="1165.59" cy="169.68" r="2.65"/><circle cx="1166.56" cy="169.55" r="2.65"/><circle cx="1167.49" cy="168.81" r="2.65"/><circle cx="1168.41" cy="168.21" r="2.65"/><circle cx="1169.34" cy="167.97" r="2.65"/><circle cx="1170.27" cy="168.12" r="2.65"/><circle cx="1171.2" cy="167.27" r="2.65"/><circle cx="1172.13" cy="167.34" r="2.65"/><circle cx="1173.06" cy="166.75" r="2.65"/><circle cx="1174.02" cy="166.41" r="2.65"/><circle cx="1174.98" cy="166.74" r="2.65"/><circle cx="1175.94" cy="165.5" r="2.65"/><circle cx="1176.9" cy="165.6" r="2.65"/><circle cx="1177.85" cy="164.92" r="2.65"/><circle cx="1178.81" cy="165.57" r="2.65"/><circle cx="1179.77" cy="164.74" r="2.65"/><circle cx="1180.72" cy="164.25" r="2.65"/><circle cx="1181.68" cy="163.76" r="2.65"/><circle cx="1182.63" cy="163.97" r="2.65"/><circle cx="1183.59" cy="163.44" r="2.65"/><circle cx="1184.54" cy="162.81" r="2.65"/><circle cx="1185.5" cy="162.4" r="2.65"/><circle cx="1186.47" cy="162.61" r="2.65"/><circle cx="1187.45" cy="162.64" r="2.65"/><circle cx="1188.43" cy="162.37" r="2.65"/><circle cx="1189.41" cy="162.63" r="2.65"/><circle cx="1190.39" cy="162.44" r="2.65"/><circle cx="1191.37" cy="162.27" r="2.65"/><circle cx="1192.34" cy="161.87" r="2.65"/><circle cx="1193.27" cy="161.12" r="2.65"/><circle cx="1194.21" cy="160.82" r="2.65"/><circle cx="1195.14" cy="160.31" r="2.65"/><circle cx="1196.07" cy="159.95" r="2.65"/><circle cx="1197.01" cy="159.16" r="2.65"/><circle cx="1197.94" cy="159.71" r="2.65"/><circle cx="1198.88" cy="158.71" r="2.65"/><circle cx="1199.83" cy="158.15" r="2.65"/><circle cx="1200.79" cy="158.38" r="2.65"/><circle cx="1201.74" cy="158.38" r="2.65"/><circle cx="1202.7" cy="157.74" r="2.65"/><circle cx="1203.65" cy="157.36" r="2.65"/><circle cx="1204.61" cy="157.41" r="2.65"/><circle cx="1205.57" cy="156.56" r="2.65"/><circle cx="1206.54" cy="156.15" r="2.65"/><circle cx="1207.52" cy="156.62" r="2.65"/><circle cx="1208.49" cy="156.32" r="2.65"/><circle cx="1209.47" cy="156.49" r="2.65"/><circle cx="1210.44" cy="155.72" r="2.65"/><circle cx="1211.41" cy="155.94" r="2.65"/><circle cx="1212.38" cy="154.77" r="2.65"/><circle cx="1213.35" cy="154.52" r="2.65"/><circle cx="1214.32" cy="154.96" r="2.65"/><circle cx="1215.28" cy="154.26" r="2.65"/><circle cx="1216.25" cy="153.81" r="2.65"/><circle cx="1217.22" cy="153.63" r="2.65"/><circle cx="1218.19" cy="153.72" r="2.65"/><circle cx="1219.19" cy="153.58" r="2.65"/><circle cx="1220.18" cy="153.76" r="2.65"/><circle cx="1221.18" cy="154.06" r="2.65"/><circle cx="1222.18" cy="153.34" r="2.65"/><circle cx="1223.17" cy="153.03" r="2.65"/><circle cx="1224.17" cy="153.41" r="2.65"/><circle cx="1225.01" cy="152.2" r="2.65"/><circle cx="1225.83" cy="152.09" r="2.65"/><circle cx="1226.64" cy="151.43" r="2.65"/><circle cx="1227.46" cy="150.94" r="2.65"/><circle cx="1228.28" cy="149.96" r="2.65"/><circle cx="1229.1" cy="149.99" r="2.65"/><circle cx="1229.92" cy="149.5" r="2.65"/><circle cx="1230.74" cy="149.09" r="2.65"/><circle cx="1231.74" cy="149.24" r="2.65"/><circle cx="1232.73" cy="148.4" r="2.65"/><circle cx="1233.72" cy="148.66" r="2.65"/><circle cx="1234.72" cy="148.29" r="2.65"/><circle cx="1235.71" cy="147.91" r="2.65"/><circle cx="1236.71" cy="148.61" r="2.65"/><circle cx="1237.68" cy="148.23" r="2.65"/><circle cx="1238.64" cy="148.18" r="2.65"/><circle cx="1239.6" cy="147.76" r="2.65"/><circle cx="1240.56" cy="147.59" r="2.65"/><circle cx="1241.52" cy="146.36" r="2.65"/><circle cx="1242.48" cy="145.95" r="2.65"/><circle cx="1243.44" cy="145.89" r="2.65"/><circle cx="1244.37" cy="145.78" r="2.65"/><circle cx="1245.3" cy="145.74" r="2.65"/><circle cx="1246.22" cy="145.06" r="2.65"/><circle cx="1247.15" cy="144.77" r="2.65"/><circle cx="1248.08" cy="144.69" r="2.65"/><circle cx="1249" cy="143.49" r="2.65"/><circle cx="1249.93" cy="143.84" r="2.65"/><circle cx="1250.92" cy="143.14" r="2.65"/><circle cx="1251.92" cy="143.47" r="2.65"/><circle cx="1252.91" cy="144.13" r="2.65"/><circle cx="1253.91" cy="144.17" r="2.65"/><circle cx="1254.91" cy="143.89" r="2.65"/><circle cx="1255.91" cy="143.75" r="2.65"/><circle cx="1256.91" cy="144.39" r="2.65"/><circle cx="1257.91" cy="143.73" r="2.65"/><circle cx="1258.91" cy="143.44" r="2.65"/><circle cx="1259.73" cy="143.16" r="2.65"/><circle cx="1260.53" cy="142.29" r="2.65"/><circle cx="1261.33" cy="142.64" r="2.65"/><circle cx="1262.14" cy="141.22" r="2.65"/><circle cx="1262.95" cy="141.67" r="2.65"/><circle cx="1263.95" cy="140.76" r="2.65"/><circle cx="1264.95" cy="140.87" r="2.65"/><circle cx="1265.95" cy="141.2" r="2.65"/><circle cx="1266.95" cy="140.87" r="2.65"/><circle cx="1267.95" cy="140.96" r="2.65"/></g>
<rect x="130.8" y="563.8" width="502.2" height="139.5" fill="none" stroke="#000" stroke-width="2.1" stroke-linejoin="round"/>
<path d="M132.22 703.3V718.9M221.18 703.3V718.9M310.14 703.3V718.9M399.1 703.3V718.9M488.06 703.3V718.9M577.02 703.3V718.9M130.8 692.51H115M130.8 671.44H115M130.8 650.37H115M130.8 629.3H115M130.8 608.23H115M130.8 587.16H115M130.8 566.09H115" stroke="#000" stroke-width="2.1" stroke-linecap="round" fill="none"/>
<text x="132.22" y="760.5" text-anchor="middle">-3</text>
<text x="221.18" y="760.5" text-anchor="middle">-2</text>
<text x="310.14" y="760.5" text-anchor="middle">-1</text>
<text x="399.1" y="760.5" text-anchor="middle">0</text>
<text x="488.06" y="760.5" text-anchor="middle">1</text>
<text x="577.02" y="760.5" text-anchor="middle">2</text>
<text transform="translate(92 692.51) rotate(-90)" text-anchor="middle">-3</text>
<text transform="translate(92 629.3) rotate(-90)" text-anchor="middle">0</text>
<text transform="translate(92 587.16) rotate(-90)" text-anchor="middle">2</text>
<text x="381.9" y="824.8" text-anchor="middle" textLength="256" lengthAdjust="spacing">theoretical quantiles</text>
<text transform="translate(28.9 633.55) rotate(-90)" text-anchor="middle" textLength="228" lengthAdjust="spacing">deviance residuals</text>
<g clip-path="url(#c3)"><polygon points="149.3,678 165.7,677 181.1,675.8 198.3,673.6 210.3,670.4 222.3,667.9 234.3,664.9 242.9,662.5 251.4,660.4 262.9,659.3 292.9,652 322.9,644.7 335.7,640.4 348.6,636.6 361.4,633.6 368.6,632.4 375.4,626.9 385.7,624.3 402.9,623.9 415.7,622.4 424.3,622.1 430,621 450,616.5 470,610.9 518.6,598.7 536.8,593.3 555,588.4 570.8,586 579.3,582.9 591.4,578.1 603.6,573.8 614.5,569.3 614.5,584.4 603.6,587.2 591.4,589.6 573.2,592.6 555,595.1 542.9,596.3 518.6,601.8 470,614.5 450,618.5 432.9,622.6 427.7,625.1 423.4,628.6 420,632 402.9,634.6 390,636.3 377.1,639.7 361.4,642.1 352.9,643.9 344.3,644.7 327.1,646.9 310,652 292.9,655.4 262.9,665 251.4,666.7 242.9,667.4 234.3,669.2 225.7,671.7 217.1,675.1 210.3,677.7 200,680.3 188,683.7 180.3,688 165.7,692.5 149.3,697.9" fill="#CCCCCC"/><line x1="43.26" y1="713.58" x2="754.94" y2="545.02" stroke="#DF536B" stroke-width="2.1"/><rect x="148" y="686" width="2" height="2"/><rect x="179" y="682" width="2" height="2"/><rect x="189" y="681" width="2" height="2"/><rect x="196" y="679" width="2" height="2"/><rect x="200" y="677" width="2" height="2"/><rect x="207" y="677" width="2" height="2"/><rect x="211" y="675" width="2" height="2"/><rect x="214" y="674" width="2" height="2"/><rect x="217" y="672" width="2" height="2"/><rect x="222" y="671" width="2" height="2"/><rect x="224" y="669" width="2" height="2"/><rect x="226" y="668" width="2" height="2"/><rect x="228" y="667" width="2" height="2"/><rect x="231" y="666" width="2" height="2"/><rect x="234" y="665" width="2" height="2"/><rect x="235" y="665" width="2" height="2"/><rect x="236" y="665" width="2" height="2"/><rect x="238" y="665" width="2" height="2"/><rect x="240" y="664" width="2" height="2"/><rect x="242" y="663" width="2" height="2"/><rect x="245" y="662" width="2" height="2"/><rect x="250" y="662" width="2" height="2"/><rect x="253" y="661" width="2" height="2"/><rect x="255" y="661" width="2" height="2"/><rect x="257" y="661" width="2" height="2"/><rect x="258" y="661" width="2" height="2"/><rect x="259" y="661" width="2" height="2"/><rect x="260" y="660" width="2" height="2"/><rect x="261" y="660" width="2" height="2"/><rect x="262" y="660" width="2" height="2"/><rect x="264" y="660" width="2" height="2"/><rect x="265" y="660" width="2" height="2"/><rect x="268" y="659" width="2" height="2"/><rect x="271" y="658" width="2" height="2"/><rect x="272" y="658" width="2" height="2"/><rect x="273" y="658" width="2" height="2"/><rect x="273" y="657" width="2" height="2"/><rect x="274" y="657" width="2" height="2"/><rect x="275" y="657" width="2" height="2"/><rect x="277" y="656" width="2" height="2"/><rect x="278" y="656" width="2" height="2"/><rect x="279" y="656" width="2" height="2"/><rect x="280" y="655" width="2" height="2"/><rect x="281" y="655" width="2" height="2"/><rect x="282" y="655" width="2" height="2"/><rect x="283" y="655" width="2" height="2"/><rect x="284" y="654" width="2" height="2"/><rect x="285" y="654" width="2" height="2"/><rect x="286" y="654" width="2" height="2"/><rect x="288" y="654" width="2" height="2"/><rect x="289" y="653" width="2" height="2"/><rect x="291" y="653" width="2" height="2"/><rect x="292" y="653" width="2" height="2"/><rect x="294" y="652" width="2" height="2"/><rect x="295" y="652" width="2" height="2"/><rect x="297" y="652" width="2" height="2"/><rect x="298" y="651" width="2" height="2"/><rect x="299" y="651" width="2" height="2"/><rect x="301" y="651" width="2" height="2"/><rect x="302" y="650" width="2" height="2"/><rect x="303" y="650" width="2" height="2"/><rect x="304" y="650" width="2" height="2"/><rect x="305" y="650" width="2" height="2"/><rect x="306" y="649" width="2" height="2"/><rect x="307" y="649" width="2" height="2"/><rect x="308" y="649" width="2" height="2"/><rect x="309" y="649" width="2" height="2"/><rect x="310" y="648" width="2" height="2"/><rect x="311" y="648" width="2" height="2"/><rect x="312" y="648" width="2" height="2"/><rect x="313" y="648" width="2" height="2"/><rect x="314" y="648" width="2" height="2"/><rect x="315" y="647" width="2" height="2"/><rect x="316" y="647" width="2" height="2"/><rect x="317" y="647" width="2" height="2"/><rect x="318" y="647" width="2" height="2"/><rect x="319" y="647" width="2" height="2"/><rect x="319" y="646" width="2" height="2"/><rect x="320" y="646" width="2" height="2"/><rect x="321" y="646" width="2" height="2"/><rect x="323" y="646" width="2" height="2"/><rect x="324" y="645" width="2" height="2"/><rect x="325" y="645" width="2" height="2"/><rect x="327" y="645" width="2" height="2"/><rect x="328" y="645" width="2" height="2"/><rect x="329" y="644" width="2" height="2"/><rect x="330" y="644" width="2" height="2"/><rect x="332" y="644" width="2" height="2"/><rect x="333" y="644" width="2" height="2"/><rect x="334" y="643" width="2" height="2"/><rect x="335" y="643" width="2" height="2"/><rect x="336" y="643" width="2" height="2"/><rect x="338" y="643" width="2" height="2"/><rect x="339" y="642" width="2" height="2"/><rect x="340" y="642" width="2" height="2"/><rect x="341" y="642" width="2" height="2"/><rect x="343" y="642" width="2" height="2"/><rect x="344" y="642" width="2" height="2"/><rect x="345" y="641" width="2" height="2"/><rect x="346" y="641" width="2" height="2"/><rect x="347" y="641" width="2" height="2"/><rect x="348" y="640" width="2" height="2"/><rect x="350" y="640" width="2" height="2"/><rect x="353" y="640" width="2" height="2"/><rect x="356" y="639" width="2" height="2"/><rect x="358" y="639" width="2" height="2"/><rect x="359" y="639" width="2" height="2"/><rect x="360" y="638" width="2" height="2"/><rect x="361" y="638" width="2" height="2"/><rect x="363" y="637" width="2" height="2"/><rect x="364" y="637" width="2" height="2"/><rect x="365" y="637" width="2" height="2"/><rect x="366" y="636" width="2" height="2"/><rect x="367" y="636" width="2" height="2"/><rect x="368" y="635" width="2" height="2"/><rect x="369" y="635" width="2" height="2"/><rect x="370" y="635" width="2" height="2"/><rect x="372" y="635" width="2" height="2"/><rect x="373" y="634" width="2" height="2"/><rect x="375" y="634" width="2" height="2"/><rect x="377" y="634" width="2" height="2"/><rect x="379" y="634" width="2" height="2"/><rect x="381" y="634" width="2" height="2"/><rect x="382" y="633" width="2" height="2"/><rect x="384" y="633" width="2" height="2"/><rect x="385" y="632" width="2" height="2"/><rect x="387" y="632" width="2" height="2"/><rect x="388" y="631" width="2" height="2"/><rect x="390" y="631" width="2" height="2"/><rect x="391" y="630" width="2" height="2"/><rect x="394" y="629" width="2" height="2"/><rect x="396" y="628" width="2" height="2"/><rect x="400" y="627" width="2" height="2"/><rect x="403" y="627" width="2" height="2"/><rect x="407" y="626" width="2" height="2"/><rect x="409" y="625" width="2" height="2"/><rect x="410" y="625" width="2" height="2"/><rect x="412" y="624" width="2" height="2"/><rect x="416" y="623" width="2" height="2"/><rect x="417" y="623" width="2" height="2"/><rect x="418" y="623" width="2" height="2"/><rect x="419" y="623" width="2" height="2"/><rect x="420" y="623" width="2" height="2"/><rect x="421" y="623" width="2" height="2"/><rect x="421" y="622" width="2" height="2"/><rect x="422" y="622" width="2" height="2"/><rect x="423" y="622" width="2" height="2"/><rect x="424" y="622" width="2" height="2"/><rect x="425" y="622" width="2" height="2"/><rect x="426" y="621" width="2" height="2"/><rect x="427" y="621" width="2" height="2"/><rect x="428" y="621" width="2" height="2"/><rect x="429" y="621" width="2" height="2"/><rect x="430" y="620" width="2" height="2"/><rect x="431" y="620" width="2" height="2"/><rect x="432" y="620" width="2" height="2"/><rect x="433" y="620" width="2" height="2"/><rect x="433" y="619" width="2" height="2"/><rect x="434" y="619" width="2" height="2"/><rect x="435" y="619" width="2" height="2"/><rect x="436" y="619" width="2" height="2"/><rect x="437" y="618" width="2" height="2"/><rect x="438" y="618" width="2" height="2"/><rect x="439" y="618" width="2" height="2"/><rect x="440" y="618" width="2" height="2"/><rect x="441" y="618" width="2" height="2"/><rect x="442" y="618" width="2" height="2"/><rect x="442" y="617" width="2" height="2"/><rect x="443" y="617" width="2" height="2"/><rect x="444" y="617" width="2" height="2"/><rect x="445" y="617" width="2" height="2"/><rect x="446" y="617" width="2" height="2"/><rect x="447" y="616" width="2" height="2"/><rect x="448" y="616" width="2" height="2"/><rect x="449" y="616" width="2" height="2"/><rect x="450" y="616" width="2" height="2"/><rect x="451" y="616" width="2" height="2"/><rect x="451" y="615" width="2" height="2"/><rect x="452" y="615" width="2" height="2"/><rect x="453" y="615" width="2" height="2"/><rect x="454" y="615" width="2" height="2"/><rect x="455" y="615" width="2" height="2"/><rect x="456" y="614" width="2" height="2"/><rect x="457" y="614" width="2" height="2"/><rect x="458" y="614" width="2" height="2"/><rect x="459" y="613" width="2" height="2"/><rect x="460" y="613" width="2" height="2"/><rect x="461" y="613" width="2" height="2"/><rect x="462" y="613" width="2" height="2"/><rect x="463" y="612" width="2" height="2"/><rect x="464" y="612" width="2" height="2"/><rect x="465" y="612" width="2" height="2"/><rect x="467" y="612" width="2" height="2"/><rect x="469" y="611" width="2" height="2"/><rect x="470" y="611" width="2" height="2"/><rect x="472" y="611" width="2" height="2"/><rect x="472" y="610" width="2" height="2"/><rect x="473" y="610" width="2" height="2"/><rect x="474" y="610" width="2" height="2"/><rect x="475" y="610" width="2" height="2"/><rect x="475" y="609" width="2" height="2"/><rect x="476" y="609" width="2" height="2"/><rect x="477" y="609" width="2" height="2"/><rect x="478" y="609" width="2" height="2"/><rect x="478" y="608" width="2" height="2"/><rect x="479" y="608" width="2" height="2"/><rect x="480" y="608" width="2" height="2"/><rect x="481" y="608" width="2" height="2"/><rect x="481" y="607" width="2" height="2"/><rect x="482" y="607" width="2" height="2"/><rect x="483" y="607" width="2" height="2"/><rect x="484" y="607" width="2" height="2"/><rect x="485" y="607" width="2" height="2"/><rect x="485" y="606" width="2" height="2"/><rect x="486" y="606" width="2" height="2"/><rect x="487" y="606" width="2" height="2"/><rect x="488" y="606" width="2" height="2"/><rect x="490" y="605" width="2" height="2"/><rect x="491" y="605" width="2" height="2"/><rect x="492" y="605" width="2" height="2"/><rect x="494" y="605" width="2" height="2"/><rect x="495" y="604" width="2" height="2"/><rect x="496" y="604" width="2" height="2"/><rect x="497" y="604" width="2" height="2"/><rect x="498" y="603" width="2" height="2"/><rect x="499" y="603" width="2" height="2"/><rect x="501" y="603" width="2" height="2"/><rect x="502" y="603" width="2" height="2"/><rect x="503" y="602" width="2" height="2"/><rect x="504" y="602" width="2" height="2"/><rect x="505" y="602" width="2" height="2"/><rect x="506" y="602" width="2" height="2"/><rect x="507" y="602" width="2" height="2"/><rect x="508" y="602" width="2" height="2"/><rect x="508" y="601" width="2" height="2"/><rect x="509" y="601" width="2" height="2"/><rect x="510" y="601" width="2" height="2"/><rect x="511" y="601" width="2" height="2"/><rect x="512" y="601" width="2" height="2"/><rect x="513" y="600" width="2" height="2"/><rect x="514" y="600" width="2" height="2"/><rect x="515" y="600" width="2" height="2"/><rect x="516" y="600" width="2" height="2"/><rect x="517" y="600" width="2" height="2"/><rect x="518" y="599" width="2" height="2"/><rect x="520" y="599" width="2" height="2"/><rect x="522" y="598" width="2" height="2"/><rect x="524" y="598" width="2" height="2"/><rect x="526" y="597" width="2" height="2"/><rect x="529" y="597" width="2" height="2"/><rect x="531" y="597" width="2" height="2"/><rect x="533" y="596" width="2" height="2"/><rect x="534" y="596" width="2" height="2"/><rect x="535" y="596" width="2" height="2"/><rect x="537" y="596" width="2" height="2"/><rect x="539" y="595" width="2" height="2"/><rect x="541" y="595" width="2" height="2"/><rect x="543" y="594" width="2" height="2"/><rect x="546" y="593" width="2" height="2"/><rect x="549" y="593" width="2" height="2"/><rect x="554" y="592" width="2" height="2"/><rect x="559" y="590" width="2" height="2"/><rect x="565" y="590" width="2" height="2"/><rect x="570" y="590" width="2" height="2"/><rect x="573" y="589" width="2" height="2"/><rect x="581" y="589" width="2" height="2"/><rect x="591" y="588" width="2" height="2"/><rect x="614" y="587" width="2" height="2"/></g>
<rect x="830.8" y="563.8" width="502.2" height="139.5" fill="none" stroke="#000" stroke-width="2.1" stroke-linejoin="round"/>
<path d="M872.02 703.3V718.9M942.14 703.3V718.9M1012.26 703.3V718.9M1082.38 703.3V718.9M1152.5 703.3V718.9M1222.62 703.3V718.9M1292.74 703.3V718.9M830.8 677.99H815M830.8 643.39H815M830.8 608.79H815M830.8 574.19H815" stroke="#000" stroke-width="2.1" stroke-linecap="round" fill="none"/>
<text x="872.02" y="760.5" text-anchor="middle">-4</text>
<text x="942.14" y="760.5" text-anchor="middle">-3</text>
<text x="1012.26" y="760.5" text-anchor="middle">-2</text>
<text x="1082.38" y="760.5" text-anchor="middle">-1</text>
<text x="1152.5" y="760.5" text-anchor="middle">0</text>
<text x="1222.62" y="760.5" text-anchor="middle">1</text>
<text x="1292.74" y="760.5" text-anchor="middle">2</text>
<text transform="translate(792 677.99) rotate(-90)" text-anchor="middle">-4</text>
<text transform="translate(792 608.79) rotate(-90)" text-anchor="middle">0</text>
<text x="1081.9" y="824.8" text-anchor="middle" textLength="256" lengthAdjust="spacing">theoretical quantiles</text>
<text transform="translate(728.9 633.55) rotate(-90)" text-anchor="middle" textLength="221.4" lengthAdjust="spacing">pearson residuals</text>
<g clip-path="url(#c4)"><polyline points="849.1,673.97 907.9,668.07 928.1,661.29 945.8,657.58 958.2,653.39 967.3,649.49 974.3,647.28 980.1,645.72 983.5,644.49 988.3,642.95 992.5,642.23 995.7,642.05 998.7,641.56 1002,641.12 1005,640.84 1008,639.88 1011,639.17 1014,638 1017,637.08 1020,635.98 1023,635.41 1026,634.5 1029,634.1 1032,633.71 1035,633.24 1038,632.02 1041,631.44 1044,631.02 1047,630.65 1050,630.01 1053,629.4 1056,628.79 1059,628.18 1062,627.57 1065,626.94 1068,626.23 1071,625.53 1074,624.83 1077,624.13 1080,623.43 1083,622.62 1086,621.73 1089,620.84 1092,619.95 1095,619.06 1098,618.17 1101,617.28 1104,616.39 1107,614.67 1110,612.85 1113,611.03 1116,609.25 1119,607.75 1122,606.25 1125,605.3 1128,605.08 1131,604.86 1134,604.86 1137,604.42 1140,604.29 1143,604.06 1146,603.89 1149,603.73 1152,603.56 1155,603.4 1158,603.23 1161,603.23 1164,603.23 1167,603 1170,602.25 1173,601.5 1176,600.77 1179,600.1 1182,599.42 1185,598.74 1188,598.06 1191,597.38 1194,596.7 1197,596.02 1200,594.99 1203,593.94 1206,592.9 1209,591.85 1212,590.83 1215,589.81 1218,588.8 1221,588 1224,587.24 1227,586.49 1230,585.73 1233,584.97 1236,584.21 1239,583.45 1242,582.69 1245,581.93 1248,581.13 1251,580.23 1254,579.33 1257,578.42 1260,577.52 1265.7,574.97 1272.1,571.79 1275.7,570 1281.7,568.09 1287.9,566.11 1297.6,564.46 1314.6,563" fill="none" stroke="#CCCCCC" stroke-width="2" stroke-linejoin="round" stroke-linecap="round"/><polyline points="849.1,668.67 907.9,664.93 928.1,660.2 945.8,656.39 958.2,652.82 967.3,648.87 974.3,645.2 980.1,644.26 983.5,643.07 988.3,642.05 992.5,641.39 995.7,641.21 998.7,640.83 1002,640.36 1005,639.2 1008,638.28 1011,637.82 1014,636.58 1017,636.37 1020,635.3 1023,635.05 1026,634.28 1029,634.05 1032,633.65 1035,632.74 1038,632.74 1041,632.74 1044,632.35 1047,631.86 1050,631.22 1053,630.31 1056,629.96 1059,629.1 1062,628.36 1065,627.39 1068,626.56 1071,625.63 1074,625.13 1077,624.39 1080,623.84 1083,623.05 1086,622.06 1089,621.12 1092,620.14 1095,619.26 1098,618.31 1101,617.37 1104,616.39 1107,614.67 1110,612.85 1113,611.03 1116,609.25 1119,607.75 1122,606.25 1125,605.3 1128,605.08 1131,604.86 1134,604.64 1137,604.42 1140,604.22 1143,604.06 1146,603.89 1149,603.73 1152,603.56 1155,603.4 1158,603.23 1161,603.23 1164,603.23 1167,603 1170,602.25 1173,601.5 1176,600.77 1179,600.1 1182,599.42 1185,598.74 1188,598.06 1191,597.38 1194,596.7 1197,596.02 1200,594.99 1203,593.94 1206,592.9 1209,591.85 1212,590.83 1215,589.81 1218,588.8 1221,588 1224,587.24 1227,586.49 1230,585.73 1233,584.97 1236,584.21 1239,583.45 1242,582.69 1245,582.13 1248,581.77 1251,581.21 1254,580.05 1257,578.75 1260,578.04 1265.7,575.29 1272.1,572.16 1275.7,570.69 1281.7,568.23 1287.9,566.11 1297.6,564.46 1314.6,563" fill="none" stroke="#CCCCCC" stroke-width="2" stroke-linejoin="round" stroke-linecap="round"/><polyline points="849.1,672.63 907.9,666.34 928.1,659.6 945.8,656.45 958.2,652.4 967.3,647.45 974.3,644.66 980.1,643.6 983.5,643.08 988.3,641.35 992.5,640.5 995.7,639.99 998.7,639.53 1002,639.15 1005,638.35 1008,637.9 1011,637.44 1014,637.44 1017,636.61 1020,636.41 1023,635.89 1026,635.39 1029,634.42 1032,633.83 1035,633.66 1038,633.21 1041,632.83 1044,632.32 1047,632.28 1050,631.69 1053,630.39 1056,629.5 1059,628.29 1062,627.57 1065,626.94 1068,626.23 1071,625.53 1074,624.83 1077,624.13 1080,623.43 1083,622.62 1086,621.73 1089,620.84 1092,619.95 1095,619.06 1098,618.17 1101,617.28 1104,616.39 1107,614.67 1110,612.85 1113,611.03 1116,609.25 1119,607.75 1122,606.25 1125,605.3 1128,605.08 1131,604.86 1134,604.64 1137,604.42 1140,604.22 1143,604.06 1146,603.89 1149,603.73 1152,603.56 1155,603.4 1158,603.23 1161,603.23 1164,603.23 1167,603 1170,602.25 1173,601.5 1176,600.77 1179,600.1 1182,599.42 1185,598.74 1188,598.06 1191,597.38 1194,596.73 1197,596.07 1200,595.06 1203,593.99 1206,592.92 1209,591.88 1212,591.07 1215,590.15 1218,589.14 1221,588.25 1224,587.4 1227,586.9 1230,586.26 1233,585.55 1236,584.76 1239,583.81 1242,583.05 1245,582.51 1248,581.63 1251,580.68 1254,579.73 1257,578.85 1260,577.58 1265.7,574.97 1272.1,571.79 1275.7,570.01 1281.7,568.09 1287.9,566.11 1297.6,565 1314.6,563.41" fill="none" stroke="#CCCCCC" stroke-width="2" stroke-linejoin="round" stroke-linecap="round"/><polyline points="849.1,657.89 907.9,655.54 928.1,652.44 945.8,651.35 958.2,649.45 967.3,645.08 974.3,641.76 980.1,640.48 983.5,640.23 988.3,639.11 992.5,638.61 995.7,638.61 998.7,638.27 1002,638.05 1005,637.97 1008,637.48 1011,637.09 1014,637.09 1017,636.63 1020,635.94 1023,635 1026,634.53 1029,634.52 1032,634.39 1035,633.67 1038,632.98 1041,632.4 1044,632.09 1047,631.62 1050,631.1 1053,630.59 1056,629.8 1059,629.1 1062,628.42 1065,627.56 1068,626.92 1071,626.5 1074,625.85 1077,625.13 1080,624.17 1083,623.44 1086,622.26 1089,621.15 1092,620.41 1095,619.67 1098,618.77 1101,617.58 1104,616.62 1107,614.78 1110,613.14 1113,612.03 1116,610.43 1119,608.74 1122,606.87 1125,605.92 1128,605.62 1131,604.96 1134,604.78 1137,604.42 1140,604.35 1143,604.35 1146,604.35 1149,604.35 1152,604.35 1155,604.24 1158,603.92 1161,603.87 1164,603.56 1167,603 1170,602.25 1173,601.5 1176,600.77 1179,600.19 1182,599.42 1185,598.74 1188,598.06 1191,597.38 1194,596.7 1197,596.02 1200,594.99 1203,593.94 1206,592.9 1209,591.85 1212,590.83 1215,589.81 1218,588.8 1221,588 1224,587.27 1227,586.49 1230,585.73 1233,584.97 1236,584.39 1239,583.6 1242,583.19 1245,582.31 1248,581.56 1251,580.27 1254,579.33 1257,578.6 1260,577.52 1265.7,575.12 1272.1,572.08 1275.7,570 1281.7,568.09 1287.9,566.11 1297.6,564.46 1314.6,563" fill="none" stroke="#CCCCCC" stroke-width="2" stroke-linejoin="round" stroke-linecap="round"/><polyline points="849.1,680.51 907.9,672.45 928.1,664.04 945.8,659.93 958.2,656.47 967.3,651.9 974.3,649 980.1,647.18 983.5,645.63 988.3,643.93 992.5,642.82 995.7,642.82 998.7,642.61 1002,642.32 1005,641.77 1008,641.02 1011,640.66 1014,640.07 1017,639.77 1020,639.26 1023,638.41 1026,637.88 1029,637.4 1032,637.25 1035,636.52 1038,636.07 1041,635.08 1044,634.87 1047,634.11 1050,632.97 1053,632.37 1056,631.87 1059,630.59 1062,629.41 1065,628.19 1068,627.24 1071,626.56 1074,625.68 1077,624.85 1080,624.24 1083,623.33 1086,622.53 1089,621.5 1092,620.42 1095,619.22 1098,618.68 1101,617.75 1104,616.92 1107,615.27 1110,613.59 1113,611.88 1116,610.81 1119,609.06 1122,607.07 1125,605.76 1128,605.08 1131,605.08 1134,605.08 1137,604.58 1140,604.22 1143,604.06 1146,603.92 1149,603.73 1152,603.56 1155,603.4 1158,603.23 1161,603.23 1164,603.23 1167,603 1170,602.25 1173,601.5 1176,600.77 1179,600.1 1182,599.42 1185,598.74 1188,598.06 1191,597.38 1194,596.7 1197,596.02 1200,594.99 1203,593.94 1206,592.9 1209,591.85 1212,590.83 1215,589.81 1218,588.8 1221,588 1224,587.24 1227,586.49 1230,585.73 1233,584.97 1236,584.21 1239,583.45 1242,582.69 1245,581.93 1248,581.13 1251,580.23 1254,579.33 1257,578.42 1260,577.52 1265.7,574.97 1272.1,571.79 1275.7,570 1281.7,568.09 1287.9,566.11 1297.6,564.46 1314.6,563" fill="none" stroke="#CCCCCC" stroke-width="2" stroke-linejoin="round" stroke-linecap="round"/><polyline points="849.1,665.77 907.9,661.65 928.1,657.16 945.8,654.46 958.2,650.63 967.3,646.34 974.3,642.86 980.1,642.08 983.5,640.93 988.3,640.17 992.5,639.73 995.7,639.49 998.7,639.18 1002,638.91 1005,637.81 1008,637.39 1011,636.9 1014,636.44 1017,636.08 1020,635.37 1023,634.79 1026,634.51 1029,634.16 1032,633.79 1035,632.88 1038,632.65 1041,632.61 1044,632.52 1047,632.19 1050,631.11 1053,630.81 1056,630.05 1059,628.64 1062,628.06 1065,627.04 1068,626.23 1071,625.53 1074,624.83 1077,624.13 1080,623.43 1083,622.87 1086,622.24 1089,621.35 1092,620.43 1095,619.34 1098,618.33 1101,617.52 1104,616.72 1107,615.07 1110,613.58 1113,611.62 1116,609.89 1119,608.69 1122,607.48 1125,606.98 1128,606.89 1131,606.52 1134,606.4 1137,605.78 1140,605 1143,605 1146,604.88 1149,604.81 1152,604.02 1155,603.72 1158,603.34 1161,603.31 1164,603.31 1167,603 1170,602.25 1173,601.5 1176,600.77 1179,600.1 1182,599.42 1185,598.74 1188,598.06 1191,597.38 1194,596.7 1197,596.02 1200,594.99 1203,593.94 1206,592.9 1209,591.96 1212,590.87 1215,589.85 1218,588.98 1221,588.47 1224,587.69 1227,586.95 1230,586.26 1233,585.78 1236,585.06 1239,584.65 1242,583.75 1245,583 1248,582.19 1251,581.47 1254,580.81 1257,579.56 1260,578.44 1265.7,576.11 1272.1,572.93 1275.7,570.72 1281.7,569.22 1287.9,567.49 1297.6,566.08 1314.6,564.44" fill="none" stroke="#CCCCCC" stroke-width="2" stroke-linejoin="round" stroke-linecap="round"/><polyline points="849.1,655.98 907.9,655.13 928.1,652.22 945.8,650.85 958.2,647.94 967.3,643.6 974.3,640.33 980.1,639.76 983.5,639.43 988.3,638.96 992.5,638.61 995.7,638.44 998.7,638.27 1002,637.81 1005,637.23 1008,637.23 1011,637.23 1014,636.79 1017,636.37 1020,636.37 1023,635.84 1026,635.03 1029,634.58 1032,634.28 1035,633.6 1038,632.65 1041,631.78 1044,631.59 1047,630.94 1050,630.3 1053,629.76 1056,629.31 1059,628.56 1062,628.02 1065,627.12 1068,626.35 1071,625.53 1074,624.95 1077,624.24 1080,623.43 1083,622.62 1086,621.73 1089,620.86 1092,619.95 1095,619.06 1098,618.17 1101,617.28 1104,616.51 1107,614.78 1110,613.16 1113,611.99 1116,610.24 1119,608.68 1122,607.7 1125,606.99 1128,606.99 1131,606.55 1134,606.55 1137,606.55 1140,606.55 1143,606.55 1146,606.55 1149,606.55 1152,606.35 1155,606.29 1158,606.29 1161,606.16 1164,605.48 1167,604.87 1170,603.74 1173,602.36 1176,601.53 1179,600.78 1182,599.78 1185,599.23 1188,598.56 1191,597.98 1194,597.47 1197,596.78 1200,595.6 1203,594.5 1206,593.34 1209,592.26 1212,591.26 1215,589.99 1218,589.03 1221,588 1224,587.29 1227,586.52 1230,585.73 1233,584.97 1236,584.21 1239,583.45 1242,582.69 1245,581.93 1248,581.13 1251,580.41 1254,579.82 1257,579.08 1260,578.02 1265.7,575.92 1272.1,572.89 1275.7,571.18 1281.7,569.22 1287.9,567.34 1297.6,565.57 1314.6,564.07" fill="none" stroke="#CCCCCC" stroke-width="2" stroke-linejoin="round" stroke-linecap="round"/><polyline points="849.1,667.96 907.9,666.13 928.1,660.57 945.8,657.16 958.2,653.83 967.3,650.33 974.3,646.7 980.1,645.35 983.5,644.9 988.3,643.17 992.5,642.36 995.7,642.36 998.7,642.21 1002,641.82 1005,641.16 1008,641.13 1011,639.93 1014,639.18 1017,638.51 1020,638.23 1023,637.93 1026,637.9 1029,636.88 1032,636.67 1035,636.14 1038,635.49 1041,635.23 1044,634.52 1047,633.45 1050,632.76 1053,631.7 1056,630.72 1059,630.05 1062,629.28 1065,628.51 1068,627.71 1071,626.69 1074,625.82 1077,624.95 1080,624.06 1083,623.34 1086,622.36 1089,621.16 1092,620.4 1095,619.5 1098,618.7 1101,617.85 1104,617.1 1107,615.5 1110,614.12 1113,612.59 1116,611.1 1119,609.89 1122,607.99 1125,607.03 1128,606.68 1131,606.51 1134,605.76 1137,605.76 1140,605.76 1143,605.38 1146,604.58 1149,604.3 1152,604.1 1155,603.67 1158,603.53 1161,603.39 1164,603.39 1167,603.02 1170,602.25 1173,601.64 1176,601.26 1179,600.43 1182,599.68 1185,598.89 1188,598.29 1191,597.48 1194,596.74 1197,596.06 1200,594.99 1203,593.94 1206,592.9 1209,591.85 1212,590.83 1215,589.81 1218,588.8 1221,588 1224,587.24 1227,586.49 1230,585.73 1233,584.97 1236,584.21 1239,583.45 1242,582.69 1245,581.93 1248,581.13 1251,580.23 1254,579.33 1257,578.42 1260,577.52 1265.7,574.97 1272.1,571.79 1275.7,570 1281.7,568.09 1287.9,566.11 1297.6,564.46 1314.6,563" fill="none" stroke="#CCCCCC" stroke-width="2" stroke-linejoin="round" stroke-linecap="round"/><polyline points="849.1,655.98 907.9,654.01 928.1,652.15 945.8,650.85 958.2,647.94 967.3,643.6 974.3,640.33 980.1,639.76 983.5,639.43 988.3,638.96 992.5,638.61 995.7,638.44 998.7,638.27 1002,637.81 1005,637.23 1008,636.65 1011,636.07 1014,635.52 1017,635.03 1020,634.54 1023,634.05 1026,633.55 1029,633.06 1032,632.63 1035,632.23 1038,631.82 1041,631.42 1044,631.02 1047,630.61 1050,630.01 1053,629.4 1056,628.79 1059,628.18 1062,627.57 1065,626.94 1068,626.23 1071,625.53 1074,625.15 1077,624.4 1080,623.82 1083,623.04 1086,622.18 1089,621.56 1092,620.46 1095,619.78 1098,618.91 1101,618.32 1104,617.5 1107,615.79 1110,614.21 1113,612.78 1116,611.2 1119,610.01 1122,608.48 1125,606.77 1128,606.77 1131,606.77 1134,606.68 1137,606.44 1140,606.44 1143,606.34 1146,605.92 1149,605.65 1152,605.65 1155,605.18 1158,605.18 1161,605.18 1164,604.79 1167,604.49 1170,603.56 1173,602.11 1176,601.32 1179,600.74 1182,600.18 1185,599.42 1188,598.75 1191,598.12 1194,597.34 1197,596.68 1200,595.69 1203,594.63 1206,593.57 1209,592.57 1212,591.59 1215,590.54 1218,589.5 1221,588.87 1224,588.14 1227,587.56 1230,587.08 1233,586.52 1236,586.29 1239,585.49 1242,585.01 1245,584.3 1248,584.02 1251,583.51 1254,582.15 1257,581.03 1260,580.28 1265.7,578.31 1272.1,575.98 1275.7,574.53 1281.7,573.01 1287.9,571.53 1297.6,570.06 1314.6,569.03" fill="none" stroke="#CCCCCC" stroke-width="2" stroke-linejoin="round" stroke-linecap="round"/><polyline points="849.1,667.93 907.9,662.39 928.1,658.77 945.8,655.78 958.2,651.84 967.3,648.01 974.3,644.4 980.1,642.91 983.5,641.51 988.3,640.51 992.5,640.14 995.7,640.14 998.7,640.04 1002,639.93 1005,639.4 1008,638.83 1011,638.45 1014,638.26 1017,637.65 1020,637.07 1023,636.53 1026,636.06 1029,635.27 1032,635.16 1035,634.61 1038,634.33 1041,633.64 1044,633.35 1047,633.06 1050,632.35 1053,632.35 1056,631.69 1059,631.33 1062,630.56 1065,629.06 1068,628.21 1071,627.49 1074,626.71 1077,625.97 1080,625.23 1083,624.17 1086,623.29 1089,622.08 1092,621.28 1095,620.32 1098,619.34 1101,618.45 1104,617.66 1107,615.8 1110,613.69 1113,611.66 1116,609.28 1119,607.75 1122,606.52 1125,605.3 1128,605.2 1131,604.86 1134,604.64 1137,604.42 1140,604.22 1143,604.06 1146,604.06 1149,604.06 1152,604.06 1155,603.58 1158,603.58 1161,603.58 1164,603.58 1167,603.43 1170,603.03 1173,601.7 1176,600.93 1179,600.35 1182,599.62 1185,598.84 1188,598.13 1191,597.38 1194,596.7 1197,596.2 1200,595.3 1203,594.15 1206,593.01 1209,591.92 1212,591.04 1215,589.92 1218,588.81 1221,588.13 1224,587.51 1227,586.71 1230,585.78 1233,584.97 1236,584.21 1239,583.45 1242,582.69 1245,581.93 1248,581.13 1251,580.23 1254,579.33 1257,578.42 1260,577.52 1265.7,575.05 1272.1,571.79 1275.7,570 1281.7,568.09 1287.9,566.11 1297.6,564.46 1314.6,563" fill="none" stroke="#CCCCCC" stroke-width="2" stroke-linejoin="round" stroke-linecap="round"/><polyline points="849.1,662.11 907.9,658.65 928.1,655.53 945.8,653.6 958.2,650.27 967.3,646.75 974.3,642.35 980.1,641.57 983.5,640.71 988.3,639.97 992.5,639.57 995.7,639.1 998.7,638.73 1002,638.52 1005,638.07 1008,637.28 1011,637.28 1014,637.28 1017,636.62 1020,636.22 1023,636.22 1026,636.22 1029,635.9 1032,635.38 1035,634.78 1038,634.29 1041,633.69 1044,633.51 1047,632.97 1050,632.26 1053,631.28 1056,630.51 1059,629.52 1062,628.69 1065,627.97 1068,627.29 1071,626.63 1074,625.93 1077,625.21 1080,624.49 1083,623.66 1086,622.92 1089,621.89 1092,621.26 1095,620.42 1098,619.44 1101,618.51 1104,617.53 1107,616.01 1110,614.2 1113,612.89 1116,611.05 1119,608.89 1122,607.2 1125,605.5 1128,605.26 1131,605.26 1134,605.26 1137,604.72 1140,604.25 1143,604.25 1146,604.25 1149,604.25 1152,604.25 1155,604.25 1158,604.25 1161,604.25 1164,604.25 1167,604.25 1170,603.96 1173,602.39 1176,601.65 1179,600.81 1182,600.09 1185,599.4 1188,598.95 1191,598.14 1194,597.41 1197,596.7 1200,595.76 1203,594.89 1206,593.85 1209,592.75 1212,591.55 1215,590.44 1218,589.54 1221,588.75 1224,587.84 1227,587.05 1230,586.34 1233,585.71 1236,584.88 1239,584.11 1242,583 1245,582 1248,581.57 1251,580.23 1254,579.33 1257,578.42 1260,577.52 1265.7,574.97 1272.1,571.79 1275.7,570 1281.7,568.09 1287.9,566.11 1297.6,564.46 1314.6,563" fill="none" stroke="#CCCCCC" stroke-width="2" stroke-linejoin="round" stroke-linecap="round"/><polyline points="849.1,655.98 907.9,654.01 928.1,652.51 945.8,650.85 958.2,648.41 967.3,644.78 974.3,642.25 980.1,642.22 983.5,641.57 988.3,640.5 992.5,640.24 995.7,639.61 998.7,639.5 1002,638.89 1005,638.21 1008,637.08 1011,636.2 1014,635.65 1017,635.45 1020,635.29 1023,634.77 1026,634.21 1029,633.45 1032,633.14 1035,632.66 1038,632.44 1041,632.44 1044,632.18 1047,631.29 1050,630.42 1053,629.4 1056,628.79 1059,628.18 1062,627.61 1065,626.94 1068,626.23 1071,625.63 1074,624.86 1077,624.13 1080,623.43 1083,622.62 1086,621.75 1089,621.06 1092,620.38 1095,619.72 1098,619.11 1101,618.38 1104,617.22 1107,615.6 1110,613.99 1113,612.21 1116,610.85 1119,609.34 1122,607.61 1125,607.26 1128,607.26 1131,607.08 1134,607.08 1137,607.08 1140,607.08 1143,606.2 1146,605.79 1149,605.43 1152,604.88 1155,604.76 1158,604.76 1161,604.76 1164,604.47 1167,604.41 1170,603.4 1173,602.03 1176,601.32 1179,600.67 1182,599.88 1185,599.28 1188,598.52 1191,597.72 1194,597.04 1197,596.43 1200,595.36 1203,594.38 1206,593.35 1209,592.7 1212,591.62 1215,590.85 1218,589.88 1221,589.06 1224,588.42 1227,587.84 1230,587.4 1233,586.81 1236,586.05 1239,585.29 1242,584.74 1245,584.22 1248,583.82 1251,583.02 1254,582.36 1257,581.81 1260,580.95 1265.7,578.48 1272.1,575.57 1275.7,573.62 1281.7,572.46 1287.9,570.39 1297.6,569.39 1314.6,568.18" fill="none" stroke="#CCCCCC" stroke-width="2" stroke-linejoin="round" stroke-linecap="round"/><polyline points="849.1,665.73 907.9,661.68 928.1,657.36 945.8,654.89 958.2,651.62 967.3,647.25 974.3,644.13 980.1,644.02 983.5,642.44 988.3,641.32 992.5,640.4 995.7,640.26 998.7,640.26 1002,639.89 1005,639.6 1008,638.54 1011,638.33 1014,637.59 1017,637.3 1020,636.87 1023,635.52 1026,634.78 1029,634.36 1032,634.36 1035,634.1 1038,633.77 1041,632.9 1044,632.9 1047,632.9 1050,632.54 1053,631.89 1056,630.6 1059,630.09 1062,629.89 1065,628.81 1068,628.25 1071,627.55 1074,626.6 1077,626.06 1080,625.17 1083,624.36 1086,623.57 1089,622.88 1092,622.12 1095,621.38 1098,620.44 1101,619.39 1104,618.59 1107,617.04 1110,615.22 1113,613.33 1116,611.63 1119,609.66 1122,607.79 1125,606.25 1128,606.09 1131,606 1134,606 1137,605.7 1140,605.26 1143,605.26 1146,605.21 1149,604.9 1152,604.9 1155,604.9 1158,604.42 1161,604.02 1164,604.02 1167,603.71 1170,602.57 1173,601.56 1176,600.9 1179,600.29 1182,599.53 1185,598.92 1188,598.29 1191,597.41 1194,596.7 1197,596.06 1200,594.99 1203,593.94 1206,592.9 1209,591.85 1212,590.83 1215,589.81 1218,588.83 1221,588 1224,587.24 1227,586.68 1230,586.1 1233,585.4 1236,584.44 1239,583.82 1242,582.93 1245,581.93 1248,581.46 1251,580.72 1254,580.24 1257,579.13 1260,578.57 1265.7,576.58 1272.1,574.18 1275.7,572.59 1281.7,570.38 1287.9,568.46 1297.6,566.04 1314.6,563.91" fill="none" stroke="#CCCCCC" stroke-width="2" stroke-linejoin="round" stroke-linecap="round"/><polyline points="849.1,662.22 907.9,658.81 928.1,655.42 945.8,654.51 958.2,651.88 967.3,647.81 974.3,645.46 980.1,643.93 983.5,643.02 988.3,641.99 992.5,640.88 995.7,640.59 998.7,639.99 1002,639.59 1005,639.57 1008,638.79 1011,638.29 1014,637.45 1017,636.58 1020,635.68 1023,635.67 1026,635.67 1029,635.62 1032,634.93 1035,634.74 1038,634.21 1041,634.04 1044,633.72 1047,633.4 1050,633.02 1053,632.26 1056,631.31 1059,630.02 1062,629.07 1065,627.81 1068,627.05 1071,626.15 1074,625.44 1077,624.79 1080,623.87 1083,622.95 1086,621.91 1089,621.15 1092,620.56 1095,619.85 1098,618.92 1101,618.34 1104,617.19 1107,615.93 1110,614.12 1113,611.65 1116,610.8 1119,609.97 1122,608.24 1125,607.42 1128,607.08 1131,606.86 1134,606.06 1137,605.56 1140,605.54 1143,605.48 1146,605.48 1149,605.48 1152,605.48 1155,605.48 1158,605.48 1161,605.01 1164,604.59 1167,604.34 1170,603.22 1173,602.17 1176,601.41 1179,600.57 1182,599.83 1185,599.07 1188,598.32 1191,597.71 1194,597.08 1197,596.34 1200,595.23 1203,594.23 1206,593.19 1209,592.3 1212,591.66 1215,590.81 1218,589.84 1221,589.02 1224,588.14 1227,587.27 1230,586.4 1233,585.62 1236,584.82 1239,584.24 1242,583.44 1245,582.67 1248,581.61 1251,581.09 1254,580.31 1257,579.82 1260,579.11 1265.7,577.17 1272.1,574.31 1275.7,572.99 1281.7,572.19 1287.9,569.97 1297.6,568.93 1314.6,568.15" fill="none" stroke="#CCCCCC" stroke-width="2" stroke-linejoin="round" stroke-linecap="round"/><polyline points="849.1,659.3 907.9,658.09 928.1,654.48 945.8,652.88 958.2,649.27 967.3,644.64 974.3,641.04 980.1,640.32 983.5,640 988.3,639.55 992.5,638.68 995.7,638.68 998.7,638.68 1002,638.68 1005,638.45 1008,637.86 1011,637.47 1014,637.07 1017,636.01 1020,635.76 1023,635.76 1026,635.14 1029,634.98 1032,634.66 1035,634.2 1038,634.2 1041,633.43 1044,633.07 1047,633.07 1050,632.5 1053,631.77 1056,631.02 1059,630.1 1062,629.63 1065,628.32 1068,627.72 1071,626.74 1074,626.09 1077,625.34 1080,624.23 1083,623.44 1086,622.39 1089,621.45 1092,620.84 1095,619.78 1098,618.72 1101,618.13 1104,617.3 1107,616.08 1110,614.55 1113,612.68 1116,611.05 1119,610.13 1122,609.16 1125,608.31 1128,608.05 1131,607.73 1134,607.24 1137,607.24 1140,607.24 1143,606.98 1146,606.63 1149,606.63 1152,606.63 1155,606.44 1158,605.98 1161,605.97 1164,605.3 1167,604.28 1170,603.57 1173,602.24 1176,601.54 1179,600.99 1182,600.36 1185,599.64 1188,599.17 1191,598.51 1194,597.74 1197,597.11 1200,596.2 1203,595.14 1206,594.18 1209,593.19 1212,591.96 1215,590.98 1218,589.98 1221,589.12 1224,588.11 1227,587.32 1230,586.62 1233,585.94 1236,585.02 1239,584.44 1242,583.47 1245,582.7 1248,582.23 1251,581.16 1254,580.14 1257,579.49 1260,578.5 1265.7,576 1272.1,573.08 1275.7,571.77 1281.7,569.14 1287.9,566.9 1297.6,564.88 1314.6,563" fill="none" stroke="#CCCCCC" stroke-width="2" stroke-linejoin="round" stroke-linecap="round"/><polyline points="849.1,672.34 907.9,667.42 928.1,660.82 945.8,657.57 958.2,654.12 967.3,649.82 974.3,646.91 980.1,646.55 983.5,645.69 988.3,643.44 992.5,642.53 995.7,642.01 998.7,641.9 1002,641.75 1005,640.99 1008,640.4 1011,640.22 1014,639.52 1017,639.08 1020,638.24 1023,637.47 1026,636.8 1029,636.8 1032,636.43 1035,635.83 1038,635.21 1041,634.73 1044,634.52 1047,634.17 1050,634.17 1053,633.77 1056,633.26 1059,632.36 1062,631.37 1065,629.54 1068,628.71 1071,627.89 1074,627.04 1077,625.95 1080,625.38 1083,624.55 1086,623.65 1089,622.78 1092,621.9 1095,621.16 1098,620.11 1101,619.12 1104,618.36 1107,616.96 1110,615.38 1113,613.7 1116,611.94 1119,610.62 1122,609.77 1125,608.52 1128,608.52 1131,608.52 1134,608.39 1137,608.39 1140,607.66 1143,606.94 1146,606.29 1149,605.94 1152,605.62 1155,605.24 1158,605.07 1161,604.38 1164,604.38 1167,603.59 1170,602.62 1173,601.67 1176,600.78 1179,600.1 1182,599.42 1185,598.74 1188,598.06 1191,597.38 1194,596.7 1197,596.02 1200,594.99 1203,593.94 1206,592.9 1209,591.85 1212,590.83 1215,589.81 1218,588.8 1221,588 1224,587.24 1227,586.49 1230,585.73 1233,584.97 1236,584.21 1239,583.45 1242,582.95 1245,582.24 1248,581.47 1251,580.35 1254,579.39 1257,578.66 1260,577.52 1265.7,575.06 1272.1,572.01 1275.7,570.34 1281.7,568.09 1287.9,566.11 1297.6,564.46 1314.6,563" fill="none" stroke="#CCCCCC" stroke-width="2" stroke-linejoin="round" stroke-linecap="round"/><polyline points="849.1,664.61 907.9,661.65 928.1,656.98 945.8,655.07 958.2,650.71 967.3,646.97 974.3,643.71 980.1,643.22 983.5,642.1 988.3,640.74 992.5,640.74 995.7,640.43 998.7,640.03 1002,639.5 1005,638.62 1008,638.46 1011,638.45 1014,637.68 1017,636.62 1020,636.51 1023,636.38 1026,636.16 1029,636.04 1032,635.31 1035,634.83 1038,633.96 1041,633.09 1044,632.99 1047,632.37 1050,632.37 1053,631.96 1056,630.96 1059,630.39 1062,629.94 1065,628.81 1068,627.82 1071,627.11 1074,626.55 1077,625.73 1080,624.91 1083,624.29 1086,623.47 1089,622.45 1092,621.54 1095,620.58 1098,619.8 1101,619 1104,618.4 1107,617.14 1110,615.27 1113,613.87 1116,612.69 1119,611.61 1122,610.77 1125,609.75 1128,609.09 1131,609.09 1134,608.46 1137,607.39 1140,607.39 1143,607.21 1146,606.93 1149,606.2 1152,605.52 1155,604.92 1158,604.6 1161,604.6 1164,604.05 1167,603.72 1170,602.62 1173,601.58 1176,600.94 1179,600.24 1182,599.42 1185,598.91 1188,598.13 1191,597.47 1194,596.81 1197,596.27 1200,595.2 1203,594.29 1206,593.17 1209,592.29 1212,591.19 1215,590.14 1218,589.43 1221,588.68 1224,587.94 1227,587.56 1230,586.94 1233,586.12 1236,585.57 1239,584.65 1242,584.2 1245,583.79 1248,582.92 1251,581.87 1254,581.01 1257,580.11 1260,578.98 1265.7,576.78 1272.1,573.29 1275.7,571.49 1281.7,569.51 1287.9,567.5 1297.6,566.03 1314.6,564.08" fill="none" stroke="#CCCCCC" stroke-width="2" stroke-linejoin="round" stroke-linecap="round"/><polyline points="849.1,655.98 907.9,654.01 928.1,652.15 945.8,650.85 958.2,647.94 967.3,643.6 974.3,640.33 980.1,639.76 983.5,639.43 988.3,638.96 992.5,638.61 995.7,638.44 998.7,638.27 1002,637.81 1005,637.23 1008,636.65 1011,636.07 1014,635.52 1017,635.03 1020,634.67 1023,634.31 1026,633.89 1029,633.48 1032,633.36 1035,632.79 1038,632.79 1041,632.49 1044,632.4 1047,631.96 1050,631.3 1053,631.3 1056,630.5 1059,629.4 1062,628.47 1065,627.56 1068,627.2 1071,626.49 1074,625.9 1077,625.01 1080,624.36 1083,623.68 1086,623.12 1089,622.15 1092,621.4 1095,620.62 1098,619.6 1101,618.76 1104,617.87 1107,615.84 1110,614.35 1113,612.88 1116,611.15 1119,609.33 1122,608.5 1125,607.72 1128,607.72 1131,607.72 1134,607.63 1137,607.63 1140,607.37 1143,607.25 1146,607.05 1149,606.83 1152,606.83 1155,606.83 1158,606.55 1161,606.41 1164,606.3 1167,605.27 1170,604.15 1173,602.65 1176,601.81 1179,601.08 1182,600.28 1185,599.8 1188,599.22 1191,598.54 1194,597.79 1197,597.31 1200,596.41 1203,595.45 1206,594.54 1209,593.63 1212,592.9 1215,591.99 1218,591.39 1221,590.48 1224,589.83 1227,589 1230,588.73 1233,588.12 1236,587.54 1239,587.17 1242,586.88 1245,586.09 1248,585.36 1251,584.13 1254,583.26 1257,582.33 1260,581.35 1265.7,579.15 1272.1,576.61 1275.7,574.98 1281.7,573.52 1287.9,572.38 1297.6,570.23 1314.6,568.75" fill="none" stroke="#CCCCCC" stroke-width="2" stroke-linejoin="round" stroke-linecap="round"/><polyline points="849.1,672.48 907.9,666.12 928.1,660.51 945.8,656.63 958.2,653.44 967.3,649.57 974.3,646.47 980.1,645.46 983.5,644.44 988.3,642.16 992.5,641.62 995.7,641.5 998.7,641.26 1002,641.14 1005,641.03 1008,640.15 1011,639.33 1014,639.31 1017,639.28 1020,638.54 1023,637.66 1026,636.95 1029,636.29 1032,635.32 1035,634.91 1038,634.07 1041,633.26 1044,633.14 1047,632.52 1050,631.91 1053,631.53 1056,631 1059,630.12 1062,629.27 1065,628.07 1068,627.62 1071,626.97 1074,626.03 1077,625.3 1080,624.7 1083,624 1086,623.45 1089,622.84 1092,621.91 1095,621.08 1098,620.03 1101,619.26 1104,618.47 1107,617.68 1110,616.32 1113,614.32 1116,612.67 1119,611.47 1122,609.77 1125,608.59 1128,608.17 1131,608.02 1134,607.69 1137,607.09 1140,607.09 1143,606.88 1146,606.53 1149,605.82 1152,605.34 1155,605.34 1158,604.61 1161,604.61 1164,604.61 1167,604.1 1170,603.28 1173,601.97 1176,601.41 1179,600.85 1182,600.17 1185,599.25 1188,598.43 1191,597.84 1194,597.31 1197,596.65 1200,595.79 1203,594.73 1206,593.71 1209,592.72 1212,591.8 1215,590.62 1218,589.78 1221,589.19 1224,588.26 1227,587.32 1230,586.69 1233,585.88 1236,584.72 1239,584.16 1242,583.47 1245,582.64 1248,582.35 1251,581.48 1254,580.41 1257,579.53 1260,578.38 1265.7,575.75 1272.1,572.83 1275.7,570.95 1281.7,568.92 1287.9,567.62 1297.6,566.36 1314.6,565.22" fill="none" stroke="#CCCCCC" stroke-width="2" stroke-linejoin="round" stroke-linecap="round"/><polyline points="849.1,662.64 907.9,660.96 928.1,657 945.8,655.67 958.2,651.72 967.3,647.51 974.3,643.6 980.1,642.5 983.5,642.14 988.3,641.53 992.5,640.66 995.7,640.46 998.7,640.16 1002,639.49 1005,638.57 1008,638.03 1011,636.88 1014,636.37 1017,635.89 1020,635.18 1023,634.36 1026,633.55 1029,633.53 1032,632.66 1035,632.66 1038,632.54 1041,632.02 1044,631.25 1047,631.17 1050,631.13 1053,630.23 1056,629.47 1059,629.09 1062,628.44 1065,627.96 1068,627.11 1071,626.46 1074,625.52 1077,625.13 1080,624.31 1083,623.18 1086,622.28 1089,621.39 1092,620.84 1095,619.92 1098,619.06 1101,618.32 1104,617.79 1107,616.26 1110,614.94 1113,613.54 1116,611.93 1119,610.66 1122,609.38 1125,608.17 1128,608.17 1131,607.56 1134,607.56 1137,607.56 1140,607.56 1143,607.19 1146,606.94 1149,606.9 1152,606.9 1155,606.82 1158,606.82 1161,606.69 1164,606.52 1167,605.28 1170,604.45 1173,602.86 1176,602.04 1179,601.46 1182,600.81 1185,599.73 1188,599.01 1191,598.13 1194,597.52 1197,597.08 1200,596.07 1203,595.1 1206,594.1 1209,593.17 1212,592.31 1215,591.56 1218,590.48 1221,589.93 1224,589.03 1227,588.38 1230,587.95 1233,587.47 1236,586.69 1239,585.94 1242,585.22 1245,584.58 1248,584.13 1251,582.93 1254,582.14 1257,581.38 1260,580.61 1265.7,578.6 1272.1,576.56 1275.7,575.35 1281.7,574.02 1287.9,572.56 1297.6,571.86 1314.6,569.69" fill="none" stroke="#CCCCCC" stroke-width="2" stroke-linejoin="round" stroke-linecap="round"/><polyline points="849.1,683.28 907.9,675.49 928.1,666.43 945.8,660.67 958.2,656.45 967.3,652.36 974.3,649.77 980.1,647.43 983.5,647.02 988.3,644.77 992.5,643.64 995.7,643.18 998.7,642.72 1002,641.96 1005,641.29 1008,640.78 1011,640.17 1014,639.16 1017,638.58 1020,637.79 1023,637.35 1026,637.35 1029,637.18 1032,636.62 1035,635.66 1038,634.77 1041,633.8 1044,633.62 1047,632.97 1050,632.41 1053,631.63 1056,630.88 1059,630.48 1062,629.42 1065,628.26 1068,627.37 1071,626.76 1074,625.84 1077,624.94 1080,624.02 1083,623.01 1086,622.21 1089,621.76 1092,620.73 1095,620.03 1098,619.23 1101,618.17 1104,617.25 1107,615.61 1110,613.74 1113,612.61 1116,610.37 1119,609.09 1122,607.81 1125,606.69 1128,606.5 1131,606.5 1134,606.38 1137,606.28 1140,606.28 1143,605.47 1146,605.47 1149,605.47 1152,605.47 1155,605.47 1158,605.47 1161,605.47 1164,605.47 1167,604.71 1170,603.99 1173,602.45 1176,601.68 1179,600.71 1182,599.99 1185,599.3 1188,598.51 1191,597.73 1194,597.23 1197,596.42 1200,595.3 1203,594.18 1206,593.3 1209,592.55 1212,591.61 1215,590.53 1218,589.49 1221,588.85 1224,587.96 1227,587.46 1230,587.01 1233,586.35 1236,585.8 1239,585.29 1242,584.96 1245,584.08 1248,583.63 1251,582.64 1254,581.56 1257,580.68 1260,579.73 1265.7,577.22 1272.1,573.95 1275.7,572.03 1281.7,570.74 1287.9,569.64 1297.6,568.38 1314.6,567.4" fill="none" stroke="#CCCCCC" stroke-width="2" stroke-linejoin="round" stroke-linecap="round"/><polyline points="849.1,674.59 907.9,669.19 928.1,661.92 945.8,657.74 958.2,654.11 967.3,650.05 974.3,646.43 980.1,645.43 983.5,644.41 988.3,643.07 992.5,642.23 995.7,641.92 998.7,641.76 1002,641.28 1005,640.56 1008,639.9 1011,639.59 1014,639.27 1017,639.19 1020,638.14 1023,637.52 1026,636.88 1029,636.44 1032,635.84 1035,635.25 1038,635.07 1041,634.7 1044,633.91 1047,633.91 1050,633.68 1053,632.92 1056,632.29 1059,631.19 1062,630.47 1065,629.08 1068,628.15 1071,627.31 1074,626.41 1077,625.69 1080,625.02 1083,624.25 1086,623.32 1089,621.86 1092,621.02 1095,619.83 1098,619.02 1101,618.37 1104,617.58 1107,615.95 1110,614.27 1113,612.59 1116,610.79 1119,609.2 1122,607.46 1125,607.01 1128,606.75 1131,606.75 1134,606.51 1137,606.28 1140,606.03 1143,606.03 1146,606.03 1149,606.03 1152,605.65 1155,605.17 1158,605.17 1161,605.17 1164,605.17 1167,604.96 1170,604.24 1173,602.79 1176,601.97 1179,601.55 1182,600.85 1185,600.18 1188,599.41 1191,598.52 1194,597.64 1197,596.99 1200,596.06 1203,595.07 1206,593.95 1209,592.78 1212,591.76 1215,590.59 1218,589.75 1221,589.12 1224,588.8 1227,588.23 1230,587.5 1233,586.71 1236,585.4 1239,584.59 1242,583.86 1245,583.37 1248,582.76 1251,582 1254,581.15 1257,580.4 1260,579.83 1265.7,577.32 1272.1,574.42 1275.7,572.39 1281.7,571.18 1287.9,569.85 1297.6,568.64 1314.6,566.72" fill="none" stroke="#CCCCCC" stroke-width="2" stroke-linejoin="round" stroke-linecap="round"/><polyline points="849.1,672.72 907.9,667.47 928.1,661.42 945.8,658.26 958.2,654.31 967.3,650.94 974.3,648.14 980.1,646.6 983.5,645.53 988.3,643.39 992.5,642.76 995.7,642.46 998.7,642.34 1002,641.8 1005,640.83 1008,640.61 1011,639.7 1014,639.39 1017,639.03 1020,637.99 1023,637.18 1026,636.52 1029,635.76 1032,634.92 1035,634.74 1038,634.24 1041,633.94 1044,633.39 1047,633.07 1050,632.26 1053,631.66 1056,631.06 1059,630.27 1062,629.29 1065,628.04 1068,627.32 1071,626.63 1074,625.83 1077,624.99 1080,624.37 1083,623.97 1086,623.07 1089,622.28 1092,621.5 1095,620.21 1098,619.38 1101,618.4 1104,617.83 1107,616.27 1110,614.48 1113,612.8 1116,611.26 1119,609.72 1122,608.34 1125,606.93 1128,606.59 1131,606.59 1134,606.59 1137,606.59 1140,606.59 1143,606.59 1146,606.59 1149,606.59 1152,606.59 1155,606.59 1158,606.59 1161,606.59 1164,606.59 1167,606.46 1170,605.15 1173,602.97 1176,602.11 1179,601.11 1182,600.4 1185,599.68 1188,598.77 1191,598.13 1194,597.5 1197,596.82 1200,596.02 1203,595.26 1206,594.15 1209,593.32 1212,592.43 1215,591.56 1218,590.77 1221,589.87 1224,589.03 1227,588.2 1230,587.44 1233,586.78 1236,585.86 1239,584.99 1242,584.44 1245,583.75 1248,583.1 1251,581.76 1254,580.68 1257,579.65 1260,578.75 1265.7,576.21 1272.1,573.55 1275.7,571.9 1281.7,570.09 1287.9,568.22 1297.6,566.93 1314.6,565.29" fill="none" stroke="#CCCCCC" stroke-width="2" stroke-linejoin="round" stroke-linecap="round"/><polyline points="849.1,662.53 907.9,660.49 928.1,657.05 945.8,654.69 958.2,651.37 967.3,647.59 974.3,645.11 980.1,644.54 983.5,643.91 988.3,642.65 992.5,641.89 995.7,641.89 998.7,641.87 1002,640.79 1005,640.71 1008,640.22 1011,639.27 1014,638.67 1017,637.88 1020,637.88 1023,637.75 1026,636.74 1029,636.42 1032,635.84 1035,635.84 1038,635.26 1041,634.11 1044,633.72 1047,633.2 1050,632.49 1053,631.21 1056,630.59 1059,630.3 1062,628.96 1065,628.2 1068,627.34 1071,626.98 1074,626.29 1077,625.52 1080,624.99 1083,624.29 1086,623.36 1089,622.63 1092,621.71 1095,620.56 1098,620.11 1101,619.23 1104,618.29 1107,616.93 1110,615.02 1113,613.08 1116,611.35 1119,609.83 1122,608.51 1125,608.06 1128,607.61 1131,607.53 1134,607.49 1137,606.82 1140,606.71 1143,606.25 1146,606.25 1149,606.25 1152,606.23 1155,605.55 1158,605.38 1161,605.13 1164,605.13 1167,604.56 1170,603.45 1173,602.36 1176,601.71 1179,600.91 1182,600.34 1185,599.59 1188,598.84 1191,598.13 1194,597.34 1197,596.6 1200,595.59 1203,594.77 1206,593.96 1209,592.94 1212,592.2 1215,591.25 1218,590.36 1221,589.7 1224,588.99 1227,588.68 1230,588.12 1233,587.31 1236,586.94 1239,586.26 1242,585.59 1245,584.31 1248,583.82 1251,583.11 1254,582.4 1257,581.72 1260,581.21 1265.7,579.16 1272.1,577.04 1275.7,575.45 1281.7,573.69 1287.9,572.39 1297.6,571.15 1314.6,569.19" fill="none" stroke="#CCCCCC" stroke-width="2" stroke-linejoin="round" stroke-linecap="round"/><polyline points="849.1,665.05 907.9,660.33 928.1,656.91 945.8,654.26 958.2,650.13 967.3,645.32 974.3,643.18 980.1,641.51 983.5,641.1 988.3,640.44 992.5,640.12 995.7,639.54 998.7,639.26 1002,638.86 1005,638.56 1008,637.79 1011,636.83 1014,636.62 1017,636.49 1020,636.12 1023,635.42 1026,635.07 1029,634.61 1032,634.44 1035,633.62 1038,633.24 1041,632.77 1044,632.01 1047,631.67 1050,631.1 1053,630.36 1056,629.8 1059,628.72 1062,628.02 1065,627.36 1068,626.69 1071,626.15 1074,625.23 1077,624.28 1080,623.62 1083,622.89 1086,622.35 1089,621.58 1092,620.56 1095,619.83 1098,618.82 1101,617.67 1104,617.31 1107,615.8 1110,614.33 1113,612.87 1116,611.88 1119,610.68 1122,609.84 1125,608.61 1128,607.8 1131,607.8 1134,607.8 1137,607.8 1140,607.8 1143,607.8 1146,607.67 1149,607.67 1152,607.67 1155,607.67 1158,607.67 1161,607.67 1164,607.67 1167,607.02 1170,605.56 1173,603.58 1176,603.09 1179,602.25 1182,601.46 1185,600.8 1188,600.13 1191,599.42 1194,598.48 1197,597.81 1200,596.78 1203,595.76 1206,594.9 1209,593.94 1212,593.14 1215,592.69 1218,591.93 1221,591.27 1224,590.38 1227,589.63 1230,588.92 1233,588.28 1236,587.52 1239,586.82 1242,586.2 1245,585.41 1248,584.39 1251,583.18 1254,582.38 1257,581.49 1260,580.83 1265.7,579.01 1272.1,576.46 1275.7,575.3 1281.7,573.15 1287.9,572.28 1297.6,571.35 1314.6,569.83" fill="none" stroke="#CCCCCC" stroke-width="2" stroke-linejoin="round" stroke-linecap="round"/><polyline points="849.1,681.74 907.9,672.49 928.1,664.47 945.8,660.74 958.2,656.76 967.3,652.8 974.3,650.51 980.1,648.32 983.5,647.27 988.3,644.68 992.5,643.37 995.7,643.28 998.7,642.76 1002,642.76 1005,642.29 1008,642.29 1011,641.54 1014,641.21 1017,640.32 1020,639.38 1023,638.93 1026,638.66 1029,637.74 1032,637.67 1035,636.97 1038,636.57 1041,636.25 1044,636.01 1047,635.02 1050,635 1053,634.62 1056,633.49 1059,632.21 1062,630.68 1065,629.04 1068,628.34 1071,627.49 1074,626.52 1077,625.7 1080,625.24 1083,624.41 1086,623.48 1089,622.87 1092,622.12 1095,621.31 1098,620.4 1101,619.3 1104,618.25 1107,616.7 1110,615.11 1113,613.68 1116,612.37 1119,611.18 1122,610.01 1125,608.79 1128,607.68 1131,607.22 1134,606.61 1137,606.11 1140,605.82 1143,605.23 1146,604.66 1149,604.44 1152,604.31 1155,603.9 1158,603.89 1161,603.88 1164,603.65 1167,603.19 1170,602.85 1173,601.77 1176,601.19 1179,600.67 1182,600.16 1185,599.35 1188,598.87 1191,598.16 1194,597.42 1197,596.7 1200,595.78 1203,594.8 1206,593.79 1209,592.96 1212,591.9 1215,590.79 1218,589.94 1221,589.25 1224,588.67 1227,587.79 1230,587.31 1233,586.75 1236,586.43 1239,585.55 1242,584.96 1245,584.25 1248,583.16 1251,582.09 1254,581.45 1257,580.44 1260,579.37 1265.7,577.3 1272.1,574.86 1275.7,573.67 1281.7,571.67 1287.9,569.85 1297.6,568.75 1314.6,567.05" fill="none" stroke="#CCCCCC" stroke-width="2" stroke-linejoin="round" stroke-linecap="round"/><polyline points="849.1,682.63 907.9,677.03 928.1,667.36 945.8,660.94 958.2,656.13 967.3,651.82 974.3,648.84 980.1,647.71 983.5,646.51 988.3,644.03 992.5,643.12 995.7,642.59 998.7,642.37 1002,641.75 1005,641.75 1008,641.75 1011,641.07 1014,640.2 1017,639.56 1020,638.52 1023,637.79 1026,637.05 1029,636.84 1032,636.25 1035,635.56 1038,634.7 1041,633.9 1044,633.46 1047,632.98 1050,632.77 1053,631.99 1056,631.5 1059,630.74 1062,629.8 1065,628.26 1068,627.28 1071,626.65 1074,626.12 1077,625.42 1080,624.83 1083,623.99 1086,623.08 1089,622.12 1092,621.44 1095,620.66 1098,619.79 1101,618.9 1104,618.18 1107,616.8 1110,615.07 1113,614.04 1116,612.66 1119,611.43 1122,610.74 1125,610.33 1128,609.99 1131,609.88 1134,609.18 1137,608.64 1140,607.63 1143,607.63 1146,607.13 1149,607.13 1152,606.63 1155,606.07 1158,605.79 1161,605.79 1164,605.79 1167,605.6 1170,604.64 1173,603.08 1176,602.22 1179,601.58 1182,600.86 1185,600.06 1188,599.31 1191,598.56 1194,597.84 1197,597.18 1200,596.18 1203,595.13 1206,594.25 1209,593.07 1212,592.02 1215,591.29 1218,589.94 1221,589.04 1224,588.4 1227,587.42 1230,587.17 1233,586.04 1236,585.62 1239,585.26 1242,584.8 1245,584.1 1248,583.45 1251,582.34 1254,581.63 1257,580.47 1260,579.5 1265.7,577.48 1272.1,574.42 1275.7,572.73 1281.7,571.02 1287.9,568.69 1297.6,567.6 1314.6,566.28" fill="none" stroke="#CCCCCC" stroke-width="2" stroke-linejoin="round" stroke-linecap="round"/><polyline points="849.1,672 907.9,665.94 928.1,659.98 945.8,656.89 958.2,652.93 967.3,649.51 974.3,646.09 980.1,645.44 983.5,644.52 988.3,643.1 992.5,642.08 995.7,641.71 998.7,641.15 1002,640.9 1005,640.69 1008,640.69 1011,640.69 1014,640.28 1017,639.71 1020,639.35 1023,638.84 1026,638.82 1029,638.64 1032,637.9 1035,637.23 1038,637.22 1041,636.87 1044,636.38 1047,636.33 1050,635.68 1053,635.03 1056,633.86 1059,632.29 1062,631.37 1065,629.58 1068,628.67 1071,627.74 1074,627.06 1077,626.29 1080,625.59 1083,624.56 1086,623.71 1089,622.63 1092,621.85 1095,621.09 1098,620.28 1101,619.86 1104,619.17 1107,618.01 1110,616.71 1113,615.32 1116,614.31 1119,613.58 1122,612 1125,611.64 1128,611.51 1131,611.51 1134,611.36 1137,610.57 1140,609.96 1143,609.96 1146,609.96 1149,609.72 1152,609.58 1155,609.18 1158,608.27 1161,607.41 1164,606.62 1167,605.85 1170,604.77 1173,603 1176,602.26 1179,601.6 1182,600.6 1185,599.83 1188,599.01 1191,598.15 1194,597.38 1197,596.67 1200,595.66 1203,594.49 1206,593.42 1209,592.67 1212,591.55 1215,590.33 1218,589.38 1221,588.67 1224,587.99 1227,587.08 1230,586.54 1233,585.69 1236,584.76 1239,583.91 1242,583.15 1245,582.58 1248,581.94 1251,581.03 1254,580.35 1257,579.46 1260,578.77 1265.7,576.02 1272.1,572.54 1275.7,571.08 1281.7,568.73 1287.9,566.67 1297.6,565 1314.6,563.35" fill="none" stroke="#CCCCCC" stroke-width="2" stroke-linejoin="round" stroke-linecap="round"/><polyline points="849.1,662.55 907.9,656.43 928.1,654.53 945.8,654.05 958.2,650.79 967.3,646.66 974.3,643.96 980.1,643.96 983.5,642.66 988.3,641.42 992.5,640.72 995.7,640.7 998.7,640.56 1002,640.33 1005,639.67 1008,639.14 1011,638.36 1014,637.6 1017,637.06 1020,636.52 1023,635.64 1026,635.64 1029,635.12 1032,634.22 1035,634.17 1038,633.51 1041,633.25 1044,632.83 1047,632.5 1050,631.98 1053,631.2 1056,630.47 1059,630.28 1062,628.87 1065,627.93 1068,627.26 1071,626.34 1074,625.38 1077,625 1080,624.24 1083,623.78 1086,623.01 1089,622.17 1092,621.4 1095,620.68 1098,620.07 1101,619.33 1104,618.55 1107,617.19 1110,616.09 1113,614.92 1116,613.23 1119,611.81 1122,610.72 1125,609.67 1128,609.23 1131,608.57 1134,608.19 1137,608.06 1140,608.06 1143,608.06 1146,608.06 1149,608.06 1152,608.06 1155,608.06 1158,608.06 1161,608.06 1164,607.7 1167,606.68 1170,605.56 1173,603.78 1176,602.8 1179,602.29 1182,601.48 1185,600.8 1188,599.74 1191,598.99 1194,598.2 1197,597.56 1200,596.64 1203,595.58 1206,594.76 1209,593.92 1212,593.09 1215,592.33 1218,591.6 1221,590.82 1224,589.86 1227,588.98 1230,588.63 1233,588.19 1236,587.65 1239,587.01 1242,586.45 1245,585.9 1248,585.15 1251,584.09 1254,583.69 1257,582.84 1260,581.8 1265.7,579.49 1272.1,576.91 1275.7,575.81 1281.7,574.47 1287.9,572.73 1297.6,571.37 1314.6,569.81" fill="none" stroke="#CCCCCC" stroke-width="2" stroke-linejoin="round" stroke-linecap="round"/><polyline points="849.1,655.98 907.9,654.01 928.1,652.93 945.8,650.99 958.2,647.99 967.3,644.16 974.3,640.78 980.1,639.76 983.5,639.43 988.3,638.96 992.5,638.61 995.7,638.44 998.7,638.27 1002,638.05 1005,637.58 1008,637.01 1011,636.35 1014,635.98 1017,635.79 1020,635.32 1023,634.98 1026,634.38 1029,633.42 1032,632.66 1035,632.51 1038,632.24 1041,632.24 1044,631.95 1047,631.82 1050,631.66 1053,631.39 1056,630.44 1059,629.65 1062,628.88 1065,627.75 1068,627.09 1071,626.53 1074,625.7 1077,625.28 1080,624.54 1083,623.72 1086,622.83 1089,621.85 1092,621.06 1095,620.21 1098,619.68 1101,618.96 1104,618.24 1107,616.74 1110,614.85 1113,613.26 1116,611.44 1119,610.44 1122,609.12 1125,608.91 1128,608.9 1131,608.9 1134,608.72 1137,608.5 1140,608.5 1143,608.5 1146,608.39 1149,608.32 1152,608.32 1155,608.32 1158,608.32 1161,608.03 1164,607.21 1167,606.6 1170,605.46 1173,603.5 1176,602.96 1179,602.52 1182,601.63 1185,600.97 1188,600.26 1191,599.52 1194,598.78 1197,598.06 1200,597.34 1203,596.53 1206,595.7 1209,594.99 1212,594.26 1215,593.48 1218,592.69 1221,592.19 1224,591.51 1227,590.89 1230,590.3 1233,589.79 1236,589.13 1239,588.68 1242,588.27 1245,587.35 1248,586.74 1251,585.99 1254,585.13 1257,584 1260,583.4 1265.7,581.47 1272.1,579.09 1275.7,577.57 1281.7,576.04 1287.9,574.84 1297.6,573.99 1314.6,572.66" fill="none" stroke="#CCCCCC" stroke-width="2" stroke-linejoin="round" stroke-linecap="round"/><polyline points="849.1,678.94 907.9,671.34 928.1,664.14 945.8,658.97 958.2,655.21 967.3,651.79 974.3,648.79 980.1,647.59 983.5,646.02 988.3,643.39 992.5,642.31 995.7,642.31 998.7,642.31 1002,642.01 1005,641.91 1008,641.3 1011,641.25 1014,640.88 1017,640.23 1020,639.99 1023,639.24 1026,638.44 1029,637.46 1032,637.09 1035,636.63 1038,636.17 1041,635.6 1044,635.6 1047,635.08 1050,634.31 1053,634.14 1056,633.6 1059,632.69 1062,631.09 1065,629.48 1068,628.78 1071,627.97 1074,627.41 1077,626.42 1080,625.83 1083,624.97 1086,624.36 1089,623.54 1092,622.9 1095,622.01 1098,620.98 1101,619.98 1104,619.07 1107,617.51 1110,616.42 1113,615.44 1116,614.22 1119,612.74 1122,611.55 1125,610.5 1128,610.5 1131,610.5 1134,610.4 1137,609.92 1140,609.01 1143,608.66 1146,608.08 1149,607.98 1152,607.78 1155,607.25 1158,606.88 1161,606.88 1164,606.75 1167,605.66 1170,604.56 1173,602.81 1176,601.98 1179,601.32 1182,600.81 1185,599.86 1188,599.13 1191,598.4 1194,597.66 1197,596.94 1200,595.94 1203,595.08 1206,594.05 1209,593.05 1212,592.09 1215,591.16 1218,590.19 1221,589.54 1224,588.79 1227,588.11 1230,587.47 1233,586.65 1236,585.83 1239,584.96 1242,584.32 1245,583.49 1248,582.49 1251,581.64 1254,580.86 1257,579.55 1260,579.04 1265.7,576.71 1272.1,573.81 1275.7,572.56 1281.7,570.81 1287.9,568.74 1297.6,568.06 1314.6,566.18" fill="none" stroke="#CCCCCC" stroke-width="2" stroke-linejoin="round" stroke-linecap="round"/><polyline points="849.1,668.86 907.9,663.1 928.1,658.43 945.8,655.89 958.2,653.69 967.3,649.27 974.3,646.23 980.1,645.4 983.5,644.54 988.3,642.37 992.5,641.74 995.7,641.56 998.7,641.5 1002,641.43 1005,641.26 1008,640.88 1011,640.43 1014,639.53 1017,638.99 1020,638.57 1023,637.94 1026,637.47 1029,636.71 1032,636.71 1035,636.71 1038,636.45 1041,636.13 1044,635.64 1047,635.62 1050,635.22 1053,634.69 1056,633.61 1059,632.64 1062,631.23 1065,629.81 1068,628.87 1071,628.14 1074,627.34 1077,626.74 1080,626.04 1083,625.44 1086,624.49 1089,623.78 1092,622.94 1095,622.2 1098,621.44 1101,620.86 1104,619.7 1107,618.55 1110,616.89 1113,615.94 1116,614.04 1119,612.55 1122,610.76 1125,610.59 1128,609.79 1131,609.52 1134,609.02 1137,608.07 1140,607.76 1143,607.76 1146,607.68 1149,607.68 1152,607.43 1155,607.19 1158,606.83 1161,606.83 1164,606.83 1167,606.36 1170,605.28 1173,603.26 1176,602.38 1179,601.82 1182,600.93 1185,600.08 1188,599.33 1191,598.54 1194,598.01 1197,597.06 1200,596.14 1203,595.26 1206,594.16 1209,593.11 1212,592.21 1215,591.5 1218,590.43 1221,589.4 1224,588.8 1227,588.33 1230,587.65 1233,586.63 1236,586.25 1239,585.57 1242,585.16 1245,584.52 1248,583.73 1251,582.72 1254,582.16 1257,581.59 1260,580.19 1265.7,577.76 1272.1,575.64 1275.7,574.07 1281.7,571.88 1287.9,570.09 1297.6,568.56 1314.6,567.07" fill="none" stroke="#CCCCCC" stroke-width="2" stroke-linejoin="round" stroke-linecap="round"/><polyline points="849.1,676.96 907.9,670.25 928.1,663.78 945.8,659.27 958.2,655.26 967.3,651.39 974.3,649.25 980.1,647.94 983.5,646.74 988.3,644.65 992.5,643.75 995.7,643.75 998.7,643.75 1002,643.75 1005,643.75 1008,643.47 1011,642.79 1014,642.55 1017,642.22 1020,641.69 1023,640.71 1026,639.61 1029,639.22 1032,639.01 1035,638.81 1038,637.94 1041,637.82 1044,637.22 1047,636.92 1050,636.53 1053,635.72 1056,634.46 1059,632.82 1062,631.4 1065,629.5 1068,628.76 1071,627.96 1074,627.3 1077,626.59 1080,625.79 1083,625.08 1086,624.2 1089,623.48 1092,622.72 1095,621.76 1098,620.98 1101,620.21 1104,619.36 1107,618.3 1110,617.45 1113,616.1 1116,614.74 1119,612.87 1122,611.69 1125,610.74 1128,609.6 1131,609.4 1134,609.32 1137,608.75 1140,608.42 1143,607.99 1146,607.99 1149,607.32 1152,606.98 1155,606.98 1158,606.98 1161,606.98 1164,606.95 1167,605.76 1170,604.7 1173,603.05 1176,602.14 1179,601.45 1182,600.86 1185,600.25 1188,599.32 1191,598.48 1194,597.58 1197,596.99 1200,596.09 1203,595.2 1206,594.13 1209,593.01 1212,592.06 1215,591.12 1218,590.04 1221,589.27 1224,588.61 1227,587.94 1230,587.11 1233,586.07 1236,585.33 1239,584.67 1242,583.92 1245,583.13 1248,582.2 1251,581.47 1254,580.55 1257,579.68 1260,578.55 1265.7,575.98 1272.1,573.03 1275.7,571.01 1281.7,568.7 1287.9,566.63 1297.6,565.47 1314.6,564.09" fill="none" stroke="#CCCCCC" stroke-width="2" stroke-linejoin="round" stroke-linecap="round"/><polyline points="849.1,676.65 907.9,670.16 928.1,662.36 945.8,658.33 958.2,655.34 967.3,651.75 974.3,649.28 980.1,648.15 983.5,646.97 988.3,644.56 992.5,643.58 995.7,643.56 998.7,643.48 1002,643.23 1005,642.82 1008,642.08 1011,641.45 1014,640.6 1017,640.44 1020,639.25 1023,638.68 1026,638.68 1029,638.36 1032,637.52 1035,637.08 1038,637.05 1041,636.55 1044,636.32 1047,635.93 1050,635.28 1053,635.28 1056,634.67 1059,633.43 1062,632.04 1065,630.37 1068,629.6 1071,628.88 1074,628.05 1077,627.04 1080,626.43 1083,625.63 1086,624.78 1089,623.73 1092,622.83 1095,621.92 1098,621.13 1101,620.08 1104,619.3 1107,618.05 1110,616.42 1113,614.86 1116,613.21 1119,612.33 1122,610.21 1125,609.25 1128,608.33 1131,607.89 1134,607.89 1137,607.41 1140,607.27 1143,606.86 1146,606.86 1149,606.86 1152,606.86 1155,606.86 1158,606.37 1161,606.37 1164,606.37 1167,605.52 1170,604.56 1173,602.73 1176,602.07 1179,601.34 1182,600.67 1185,599.86 1188,599.19 1191,598.38 1194,597.74 1197,597.16 1200,596.3 1203,595.41 1206,594.54 1209,593.24 1212,592.4 1215,591.43 1218,590.51 1221,589.68 1224,588.71 1227,587.92 1230,587.38 1233,586.99 1236,586.23 1239,585.41 1242,585.07 1245,584.24 1248,584 1251,583.11 1254,582 1257,581.32 1260,580.82 1265.7,578.34 1272.1,576.26 1275.7,574.77 1281.7,573.63 1287.9,571.79 1297.6,569.75 1314.6,568.51" fill="none" stroke="#CCCCCC" stroke-width="2" stroke-linejoin="round" stroke-linecap="round"/><polyline points="849.1,673.16 907.9,669.66 928.1,663.64 945.8,659.51 958.2,655.35 967.3,651.4 974.3,647.98 980.1,646.47 983.5,644.24 988.3,642.64 992.5,641.84 995.7,641.84 998.7,641.84 1002,641.84 1005,641.59 1008,640.68 1011,639.93 1014,638.77 1017,638.75 1020,638.45 1023,637.57 1026,637.06 1029,636.87 1032,636.58 1035,636.27 1038,635.56 1041,634.92 1044,634.53 1047,634.41 1050,633.59 1053,632.65 1056,632.14 1059,631 1062,630.29 1065,629.03 1068,628.39 1071,627.89 1074,627.19 1077,626.54 1080,625.7 1083,624.83 1086,624.11 1089,623.55 1092,622.97 1095,622.61 1098,621.92 1101,621.21 1104,620.67 1107,619.59 1110,618.46 1113,617.04 1116,616.23 1119,614.88 1122,614.08 1125,612.82 1128,612.82 1131,612.14 1134,612.1 1137,611.17 1140,610.82 1143,610.82 1146,610.77 1149,610.51 1152,610.06 1155,608.97 1158,608.81 1161,608.81 1164,608.02 1167,607.15 1170,605.76 1173,603.49 1176,602.71 1179,601.86 1182,601.39 1185,600.44 1188,599.77 1191,599.11 1194,598.15 1197,597.26 1200,596.38 1203,595.38 1206,594.47 1209,593.67 1212,592.69 1215,591.62 1218,590.28 1221,589.52 1224,588.63 1227,587.97 1230,587.35 1233,586.46 1236,586.12 1239,585.69 1242,585.24 1245,584.35 1248,583.53 1251,582.5 1254,581.51 1257,580.34 1260,579.54 1265.7,577.33 1272.1,574.69 1275.7,572.98 1281.7,571.69 1287.9,569.96 1297.6,567.4 1314.6,565.69" fill="none" stroke="#CCCCCC" stroke-width="2" stroke-linejoin="round" stroke-linecap="round"/><polyline points="849.1,674.29 907.9,668.29 928.1,661.95 945.8,657.96 958.2,654.6 967.3,650.51 974.3,647.19 980.1,645.5 983.5,644.86 988.3,642.85 992.5,641.5 995.7,641.49 998.7,641.08 1002,640.76 1005,640.36 1008,640.23 1011,640.01 1014,639.29 1017,638.74 1020,637.82 1023,637.82 1026,637.52 1029,637.49 1032,636.92 1035,635.82 1038,635.82 1041,635.47 1044,635.1 1047,634.7 1050,634.35 1053,633.96 1056,632.53 1059,631.91 1062,630.7 1065,629.21 1068,628.72 1071,628.06 1074,627.19 1077,626.14 1080,625.46 1083,624.78 1086,623.94 1089,622.91 1092,621.94 1095,620.91 1098,620.13 1101,619.47 1104,618.87 1107,617.35 1110,615.98 1113,614.71 1116,613.16 1119,611.91 1122,611.5 1125,610.79 1128,610.79 1131,610.33 1134,610.02 1137,609.09 1140,608.89 1143,608.89 1146,608.89 1149,608.89 1152,608.89 1155,608.89 1158,608.89 1161,608.89 1164,608.73 1167,607.43 1170,606.4 1173,603.89 1176,602.85 1179,601.95 1182,600.99 1185,600.08 1188,599.47 1191,598.7 1194,597.98 1197,597.39 1200,596.59 1203,595.59 1206,594.82 1209,593.94 1212,593.03 1215,592.19 1218,591.07 1221,590.17 1224,589.4 1227,588.81 1230,588.16 1233,587.55 1236,587.13 1239,586.83 1242,586.42 1245,586.14 1248,585.39 1251,584.42 1254,583.59 1257,582.62 1260,581.6 1265.7,580.05 1272.1,577.73 1275.7,576.13 1281.7,574.71 1287.9,573.75 1297.6,572.44 1314.6,571.5" fill="none" stroke="#CCCCCC" stroke-width="2" stroke-linejoin="round" stroke-linecap="round"/><polyline points="849.1,677.99 907.9,670.81 928.1,663.79 945.8,660.87 958.2,656.22 967.3,653.44 974.3,650.01 980.1,648.3 983.5,647.51 988.3,645.27 992.5,644.25 995.7,643.49 998.7,643.39 1002,642.66 1005,642.66 1008,642.46 1011,641.98 1014,641.07 1017,640.41 1020,639.49 1023,639.32 1026,638.73 1029,638.42 1032,637.73 1035,637.13 1038,637.1 1041,636.34 1044,635.35 1047,635.06 1050,634.14 1053,633.43 1056,632.79 1059,631.63 1062,630.79 1065,629.24 1068,628.7 1071,628.11 1074,627.22 1077,626.42 1080,625.6 1083,624.86 1086,624.23 1089,623.17 1092,622.5 1095,621.47 1098,620.52 1101,619.37 1104,618.98 1107,617.66 1110,616.34 1113,614.76 1116,613.72 1119,611.82 1122,610.62 1125,610.62 1128,610.21 1131,609.9 1134,609.84 1137,609.23 1140,609.04 1143,609.04 1146,609.04 1149,609.04 1152,608.74 1155,608.59 1158,608.35 1161,608.35 1164,608.35 1167,607.33 1170,605.54 1173,603.6 1176,602.91 1179,602.03 1182,601.02 1185,600.14 1188,599.5 1191,598.64 1194,597.85 1197,597.17 1200,596.35 1203,595.39 1206,594.43 1209,593.41 1212,592.69 1215,591.92 1218,590.99 1221,590 1224,589.12 1227,588.52 1230,587.79 1233,587.33 1236,586.79 1239,586.24 1242,585.77 1245,585.29 1248,584.41 1251,583.43 1254,583.07 1257,581.89 1260,580.87 1265.7,579.07 1272.1,576.59 1275.7,574.94 1281.7,572.8 1287.9,571.27 1297.6,570.22 1314.6,569.33" fill="none" stroke="#CCCCCC" stroke-width="2" stroke-linejoin="round" stroke-linecap="round"/><polyline points="849.1,679.37 907.9,671.53 928.1,664.54 945.8,659.94 958.2,656.1 967.3,652.8 974.3,650.58 980.1,648.41 983.5,647.82 988.3,645.1 992.5,643.69 995.7,643.4 998.7,642.73 1002,642.32 1005,641.93 1008,641.36 1011,640.98 1014,640.35 1017,639.85 1020,638.88 1023,638.4 1026,637.62 1029,636.98 1032,636.49 1035,636.12 1038,635.16 1041,634.23 1044,633.72 1047,633.45 1050,633 1053,632.71 1056,632.24 1059,631.48 1062,630.45 1065,628.92 1068,627.97 1071,627.12 1074,626.39 1077,625.68 1080,624.98 1083,624.18 1086,623.44 1089,622.63 1092,621.84 1095,621.08 1098,620.17 1101,619.16 1104,618.43 1107,617.12 1110,615.59 1113,613.99 1116,613.27 1119,611.81 1122,610.52 1125,609.81 1128,609.07 1131,608.82 1134,608.82 1137,608.82 1140,608.82 1143,608.82 1146,608.82 1149,608.82 1152,608.82 1155,608.66 1158,608.43 1161,608.43 1164,608.26 1167,607.39 1170,605.68 1173,603.76 1176,603.28 1179,602.67 1182,601.84 1185,600.96 1188,600.21 1191,599.32 1194,598.62 1197,597.85 1200,597.05 1203,596.3 1206,595.16 1209,594.29 1212,593.3 1215,592.21 1218,591.22 1221,590.4 1224,589.81 1227,588.9 1230,588.49 1233,588.28 1236,587.84 1239,587.41 1242,586.86 1245,586.06 1248,585.53 1251,584.71 1254,583.98 1257,583.68 1260,582.94 1265.7,581.25 1272.1,579.71 1275.7,578.15 1281.7,576.25 1287.9,574.54 1297.6,572.97 1314.6,571.82" fill="none" stroke="#CCCCCC" stroke-width="2" stroke-linejoin="round" stroke-linecap="round"/><polyline points="849.1,663.94 907.9,662.07 928.1,658.39 945.8,655.4 958.2,652.31 967.3,648.76 974.3,645.08 980.1,644.2 983.5,643.77 988.3,642.3 992.5,642.05 995.7,642.05 998.7,641.76 1002,641.37 1005,640.6 1008,640.27 1011,639.42 1014,639.19 1017,638.82 1020,638.65 1023,638.1 1026,637.13 1029,637.13 1032,636.7 1035,636.7 1038,636.41 1041,636.18 1044,636.18 1047,636.03 1050,635.94 1053,634.91 1056,634.14 1059,633.03 1062,631.78 1065,630.1 1068,629.33 1071,628.77 1074,627.63 1077,626.86 1080,626.05 1083,625.48 1086,624.61 1089,623.88 1092,623.01 1095,622.35 1098,621.78 1101,620.95 1104,620.2 1107,618.73 1110,617.58 1113,616.6 1116,615.24 1119,614.59 1122,612.79 1125,611.32 1128,610.47 1131,609.97 1134,609.67 1137,609.33 1140,609.11 1143,609.11 1146,608.98 1149,608.27 1152,607.58 1155,607.58 1158,607.02 1161,606.91 1164,606.91 1167,606.29 1170,604.99 1173,603.17 1176,602.51 1179,601.91 1182,601.05 1185,600.39 1188,599.66 1191,599.02 1194,598.4 1197,597.66 1200,596.58 1203,595.69 1206,594.98 1209,594.15 1212,593.28 1215,592.74 1218,591.7 1221,591.06 1224,590.23 1227,589.58 1230,589.06 1233,588.79 1236,588.1 1239,587.46 1242,586.58 1245,586.14 1248,585.37 1251,584.57 1254,583.42 1257,582.43 1260,581.77 1265.7,579.76 1272.1,577.65 1275.7,576.55 1281.7,574.85 1287.9,572.63 1297.6,571.62 1314.6,570.26" fill="none" stroke="#CCCCCC" stroke-width="2" stroke-linejoin="round" stroke-linecap="round"/><polyline points="849.1,703.54 907.9,690.12 928.1,675.75 945.8,668.4 958.2,664.08 967.3,661.27 974.3,658.77 980.1,656.34 983.5,654.72 988.3,650.35 992.5,648.75 995.7,648.51 998.7,647.56 1002,647.07 1005,647.07 1008,646.6 1011,646.02 1014,645.31 1017,644.65 1020,644.51 1023,643.92 1026,643.08 1029,641.56 1032,640.89 1035,639.78 1038,638.73 1041,638.52 1044,638.32 1047,637.29 1050,637.04 1053,636.65 1056,635.26 1059,634.32 1062,632.54 1065,630.46 1068,629.37 1071,628.35 1074,627.66 1077,626.68 1080,625.8 1083,624.89 1086,624.1 1089,623.22 1092,622.55 1095,621.63 1098,620.6 1101,619.7 1104,618.91 1107,617.35 1110,615.99 1113,615.1 1116,613.57 1119,612.41 1122,611.74 1125,610.71 1128,610.07 1131,609.34 1134,609.18 1137,609.06 1140,608.81 1143,608.76 1146,608.76 1149,608.76 1152,608.34 1155,608.08 1158,607.86 1161,607.86 1164,607.54 1167,606.41 1170,605.17 1173,603.03 1176,602.25 1179,601.43 1182,600.75 1185,599.88 1188,599.1 1191,598.26 1194,597.43 1197,596.8 1200,595.77 1203,594.82 1206,593.69 1209,592.7 1212,591.49 1215,590.44 1218,589.37 1221,588.66 1224,587.92 1227,587.16 1230,586.58 1233,585.91 1236,585.3 1239,584.75 1242,584.04 1245,583.28 1248,582.59 1251,581.58 1254,580.76 1257,580.1 1260,579.39 1265.7,576.98 1272.1,573.75 1275.7,572.1 1281.7,570.23 1287.9,568.77 1297.6,567.05 1314.6,565.5" fill="none" stroke="#CCCCCC" stroke-width="2" stroke-linejoin="round" stroke-linecap="round"/><polyline points="849.1,682.24 907.9,674.75 928.1,667.97 945.8,663.83 958.2,659.77 967.3,656.45 974.3,653.14 980.1,651.51 983.5,650 988.3,646.98 992.5,645.48 995.7,645.21 998.7,644.9 1002,644.6 1005,644.6 1008,644.26 1011,643.16 1014,642.3 1017,641.26 1020,640.49 1023,640.16 1026,639.78 1029,639.07 1032,638.67 1035,637.96 1038,637.04 1041,636.13 1044,635.42 1047,635.42 1050,634.45 1053,634.27 1056,633.67 1059,632.6 1062,631.41 1065,629.71 1068,628.88 1071,628.16 1074,627.34 1077,626.71 1080,626.19 1083,625.48 1086,624.72 1089,623.9 1092,623.15 1095,622.17 1098,621.47 1101,620.74 1104,619.79 1107,619.07 1110,617.61 1113,616.11 1116,614.95 1119,613.19 1122,611.76 1125,610.37 1128,609.67 1131,609.3 1134,609.1 1137,609.1 1140,609.1 1143,609.1 1146,609.1 1149,609.1 1152,609.1 1155,608.85 1158,608.36 1161,608.36 1164,608.36 1167,607.45 1170,606.36 1173,604.12 1176,603.12 1179,602.33 1182,601.4 1185,600.64 1188,599.8 1191,599.17 1194,598.45 1197,597.65 1200,596.73 1203,595.66 1206,594.72 1209,593.85 1212,592.96 1215,591.77 1218,590.79 1221,590.07 1224,589.36 1227,588.84 1230,588.03 1233,587.51 1236,586.78 1239,586.2 1242,585.66 1245,585.2 1248,584.37 1251,583.5 1254,582.31 1257,581.07 1260,580.28 1265.7,578.08 1272.1,574.94 1275.7,573.12 1281.7,571.35 1287.9,570.1 1297.6,569 1314.6,567.84" fill="none" stroke="#CCCCCC" stroke-width="2" stroke-linejoin="round" stroke-linecap="round"/><polyline points="849.1,676.22 907.9,670.64 928.1,664.05 945.8,660.18 958.2,656.07 967.3,653.31 974.3,651.32 980.1,649.52 983.5,647.71 988.3,645.91 992.5,644.53 995.7,644.53 998.7,644.53 1002,644.29 1005,643.93 1008,643.33 1011,642.94 1014,642.5 1017,642.5 1020,642.3 1023,641.77 1026,641.62 1029,641.01 1032,640.4 1035,640.4 1038,639.88 1041,639.24 1044,638.8 1047,638.02 1050,636.82 1053,636.6 1056,635.19 1059,633.89 1062,632.46 1065,630.43 1068,629.39 1071,628.57 1074,628.1 1077,627.41 1080,626.82 1083,625.83 1086,625.03 1089,624.03 1092,623.35 1095,622.54 1098,621.78 1101,621 1104,620.12 1107,618.6 1110,617.48 1113,615.81 1116,614.14 1119,612.89 1122,611.46 1125,610.76 1128,610.76 1131,610.55 1134,610.28 1137,609.94 1140,609.94 1143,609.3 1146,609.25 1149,608.63 1152,607.92 1155,607.66 1158,607.26 1161,607.26 1164,607.26 1167,605.81 1170,604.71 1173,603.26 1176,602.59 1179,602.02 1182,601.27 1185,600.33 1188,599.44 1191,598.77 1194,598.11 1197,597.32 1200,596.35 1203,595.42 1206,594.25 1209,593.23 1212,592.5 1215,591.87 1218,590.93 1221,590.42 1224,589.58 1227,588.76 1230,587.78 1233,587.32 1236,586.63 1239,586.47 1242,585.94 1245,585.38 1248,584.26 1251,583.7 1254,582.7 1257,581.74 1260,580.31 1265.7,578.38 1272.1,576.11 1275.7,574.47 1281.7,572.8 1287.9,571.19 1297.6,570.1 1314.6,568.67" fill="none" stroke="#CCCCCC" stroke-width="2" stroke-linejoin="round" stroke-linecap="round"/><polyline points="849.1,691.4 907.9,681.55 928.1,671.02 945.8,663.75 958.2,658.93 967.3,655.96 974.3,653.36 980.1,650.96 983.5,649.65 988.3,645.9 992.5,644.6 995.7,644.51 998.7,644.48 1002,643.83 1005,643.66 1008,643.66 1011,643.08 1014,642.78 1017,641.75 1020,640.59 1023,640.27 1026,639.77 1029,639.32 1032,638.64 1035,638.08 1038,637.87 1041,637.87 1044,637.44 1047,636.47 1050,636.33 1053,635.97 1056,635.05 1059,633.96 1062,633.17 1065,631.16 1068,630.36 1071,629.17 1074,628.2 1077,627.3 1080,626.58 1083,625.88 1086,624.96 1089,624.45 1092,623.47 1095,622.62 1098,621.91 1101,620.91 1104,620.26 1107,619.25 1110,618 1113,617.37 1116,616.29 1119,615.4 1122,614.06 1125,612.68 1128,612.07 1131,611.59 1134,611.06 1137,610.98 1140,609.91 1143,609.44 1146,608.58 1149,608.58 1152,608.32 1155,607.88 1158,607.23 1161,607.23 1164,606.98 1167,606.14 1170,604.56 1173,603.06 1176,602.34 1179,601.66 1182,601.06 1185,600.28 1188,599.51 1191,598.83 1194,598.12 1197,597.38 1200,596.44 1203,595.44 1206,594.57 1209,593.74 1212,592.81 1215,592.16 1218,591.02 1221,590.19 1224,589.69 1227,588.94 1230,588.09 1233,587.73 1236,587.24 1239,586.4 1242,585.96 1245,585.14 1248,584.12 1251,583.17 1254,582.15 1257,580.98 1260,579.98 1265.7,577.49 1272.1,574.77 1275.7,573.22 1281.7,571.72 1287.9,569.74 1297.6,567.7 1314.6,565.71" fill="none" stroke="#CCCCCC" stroke-width="2" stroke-linejoin="round" stroke-linecap="round"/><polyline points="849.1,681.3 907.9,675.13 928.1,666.39 945.8,662.29 958.2,657.46 967.3,654.38 974.3,651.34 980.1,650 983.5,648.93 988.3,645.99 992.5,644.88 995.7,644.28 998.7,644.02 1002,643.95 1005,643.95 1008,643.95 1011,643.95 1014,643.18 1017,643.01 1020,641.95 1023,641.17 1026,640.77 1029,639.86 1032,639.86 1035,639.76 1038,639.09 1041,638.44 1044,637.57 1047,636.69 1050,636.29 1053,635.93 1056,634.92 1059,633.87 1062,632.4 1065,630.63 1068,629.51 1071,628.66 1074,628.04 1077,627.45 1080,626.68 1083,625.87 1086,625.29 1089,624.8 1092,623.76 1095,622.93 1098,622.23 1101,621.72 1104,620.82 1107,619.9 1110,618.74 1113,618.35 1116,617.48 1119,616.54 1122,615.52 1125,615.25 1128,615.1 1131,614.28 1134,613.95 1137,613.06 1140,612.58 1143,612.1 1146,611.43 1149,610.86 1152,610.21 1155,610.09 1158,610.06 1161,609.8 1164,608.86 1167,607.94 1170,606.16 1173,603.61 1176,602.91 1179,602.22 1182,601.57 1185,600.77 1188,599.85 1191,599.02 1194,598.31 1197,597.52 1200,596.51 1203,595.41 1206,594.31 1209,593.45 1212,592.57 1215,591.47 1218,590.37 1221,589.48 1224,588.81 1227,587.91 1230,587.22 1233,586.17 1236,585.24 1239,584.61 1242,584.1 1245,583.14 1248,582.19 1251,581.47 1254,580.46 1257,579.42 1260,578.63 1265.7,576.27 1272.1,573.67 1275.7,572.3 1281.7,570.28 1287.9,568.36 1297.6,566.75 1314.6,564.75" fill="none" stroke="#CCCCCC" stroke-width="2" stroke-linejoin="round" stroke-linecap="round"/><polyline points="849.1,671.1 907.9,664.25 928.1,660.07 945.8,657.06 958.2,653.35 967.3,649.71 974.3,646.97 980.1,646.33 983.5,645.13 988.3,643.15 992.5,642.2 995.7,642.2 998.7,642.2 1002,641.92 1005,641.31 1008,640.56 1011,639.99 1014,639.51 1017,639.51 1020,638.65 1023,638.48 1026,638.11 1029,637.37 1032,636.85 1035,636.24 1038,635.81 1041,635.68 1044,634.76 1047,634.75 1050,634.07 1053,633.97 1056,633.13 1059,632.49 1062,631.47 1065,630.06 1068,629.23 1071,628.26 1074,627.54 1077,626.87 1080,626.49 1083,625.41 1086,624.57 1089,623.94 1092,622.91 1095,622.09 1098,621.71 1101,621.22 1104,620.29 1107,619.48 1110,618.65 1113,617.78 1116,616.84 1119,615.98 1122,614.73 1125,613.82 1128,613.72 1131,613.39 1134,613.39 1137,613.17 1140,612.1 1143,611.98 1146,611.9 1149,611.73 1152,611.43 1155,610.83 1158,610.83 1161,610.6 1164,610.12 1167,608.76 1170,607.09 1173,604.64 1176,603.47 1179,602.57 1182,601.84 1185,601.01 1188,600.31 1191,599.51 1194,598.67 1197,598.17 1200,597.26 1203,596.35 1206,595.33 1209,594.33 1212,593.53 1215,592.72 1218,591.84 1221,590.96 1224,590.31 1227,589.38 1230,588.77 1233,588.17 1236,587.45 1239,586.91 1242,586.19 1245,585.43 1248,585.17 1251,584.43 1254,583.81 1257,582.91 1260,582.23 1265.7,580.53 1272.1,578.74 1275.7,578.36 1281.7,576.79 1287.9,575.34 1297.6,574.04 1314.6,571.24" fill="none" stroke="#CCCCCC" stroke-width="2" stroke-linejoin="round" stroke-linecap="round"/><polyline points="849.1,666.1 907.9,662.79 928.1,657.83 945.8,655.88 958.2,653.08 967.3,648.89 974.3,646.7 980.1,646.4 983.5,645.63 988.3,643.26 992.5,642.86 995.7,642.59 998.7,642.26 1002,641.88 1005,641.21 1008,641.05 1011,640.75 1014,640.62 1017,640.32 1020,639.56 1023,639.01 1026,638.8 1029,638.17 1032,638.17 1035,638.13 1038,637.49 1041,637.4 1044,637.21 1047,636.78 1050,636.18 1053,635.77 1056,634.93 1059,634.03 1062,632.61 1065,630.81 1068,630.09 1071,629.35 1074,627.99 1077,627.07 1080,626.25 1083,625.46 1086,624.68 1089,624.03 1092,623.34 1095,622.55 1098,621.81 1101,621.4 1104,620.54 1107,619.51 1110,618.79 1113,617.82 1116,616.1 1119,615.25 1122,614.14 1125,613.39 1128,613.39 1131,613.24 1134,612.77 1137,612.72 1140,612.69 1143,612.69 1146,612.69 1149,612.47 1152,612.03 1155,611.55 1158,611.25 1161,610.72 1164,609.65 1167,608.77 1170,607.32 1173,604.58 1176,603.74 1179,602.95 1182,602.15 1185,601.36 1188,600.47 1191,599.78 1194,598.9 1197,598.29 1200,597.21 1203,596.2 1206,595.42 1209,594.51 1212,593.53 1215,592.71 1218,591.67 1221,590.91 1224,589.82 1227,589.08 1230,588.4 1233,587.92 1236,587.51 1239,586.77 1242,586.54 1245,585.85 1248,584.71 1251,583.25 1254,582.71 1257,581.79 1260,580.73 1265.7,578.43 1272.1,575.54 1275.7,574.53 1281.7,572.82 1287.9,571.76 1297.6,570.26 1314.6,567.89" fill="none" stroke="#CCCCCC" stroke-width="2" stroke-linejoin="round" stroke-linecap="round"/><polyline points="849.1,671.44 907.9,666.08 928.1,661.83 945.8,658.1 958.2,655 967.3,651.19 974.3,647.8 980.1,646.73 983.5,645.41 988.3,643.9 992.5,643.26 995.7,643.06 998.7,643.03 1002,642.8 1005,642.24 1008,642.04 1011,641.41 1014,641.09 1017,640.28 1020,639.81 1023,639.45 1026,638.7 1029,638.06 1032,637.43 1035,637.22 1038,636.55 1041,636.25 1044,636.25 1047,636 1050,634.95 1053,634.43 1056,633.76 1059,632.66 1062,631.76 1065,630.2 1068,629.44 1071,628.56 1074,627.64 1077,626.83 1080,626.14 1083,625.46 1086,624.73 1089,623.88 1092,623.09 1095,622.39 1098,621.33 1101,620.42 1104,619.49 1107,618.19 1110,616.8 1113,615.41 1116,613.82 1119,612.9 1122,611.88 1125,610.47 1128,610.17 1131,609.44 1134,609.44 1137,609.3 1140,608.97 1143,608.95 1146,608.71 1149,608.45 1152,608.45 1155,608.45 1158,608.45 1161,608.45 1164,608.11 1167,607.52 1170,606.43 1173,604.18 1176,603.26 1179,602.59 1182,601.86 1185,601.01 1188,600.48 1191,599.75 1194,598.93 1197,598.23 1200,597.45 1203,596.71 1206,595.92 1209,595.22 1212,594.58 1215,593.58 1218,592.67 1221,591.76 1224,591.03 1227,590.63 1230,590.28 1233,589.65 1236,589.13 1239,588.87 1242,588.3 1245,587.82 1248,587.3 1251,585.98 1254,585.27 1257,584.45 1260,583.68 1265.7,581.73 1272.1,579.55 1275.7,578.24 1281.7,576.84 1287.9,575.34 1297.6,574.12 1314.6,573.41" fill="none" stroke="#CCCCCC" stroke-width="2" stroke-linejoin="round" stroke-linecap="round"/><polyline points="849.1,686.3 907.9,677.51 928.1,669.96 945.8,664.31 958.2,660.63 967.3,658.17 974.3,655.24 980.1,652.98 983.5,651.37 988.3,647.64 992.5,645.94 995.7,645.56 998.7,645.56 1002,645.08 1005,644.6 1008,644 1011,643.01 1014,642.99 1017,641.72 1020,641.01 1023,640.7 1026,639.75 1029,639.46 1032,639.4 1035,638.67 1038,638.29 1041,637.49 1044,637.23 1047,636.84 1050,636.39 1053,636.29 1056,635.31 1059,634.54 1062,633.29 1065,631.03 1068,630.2 1071,629.42 1074,628.31 1077,627.73 1080,627.04 1083,626.36 1086,625.44 1089,624.68 1092,623.95 1095,623.16 1098,622.45 1101,621.32 1104,620.86 1107,619.56 1110,617.87 1113,616.4 1116,614.94 1119,614.06 1122,612.67 1125,612.04 1128,611.35 1131,611.35 1134,611.35 1137,611.35 1140,611.35 1143,611.35 1146,611.26 1149,611.18 1152,611.13 1155,610.28 1158,609.6 1161,609.07 1164,608.12 1167,606.91 1170,605.51 1173,603.28 1176,602.52 1179,601.84 1182,600.93 1185,600.12 1188,599.38 1191,598.61 1194,597.8 1197,597.18 1200,596.33 1203,595.45 1206,594.48 1209,593.79 1212,593.11 1215,592.16 1218,591.24 1221,590.64 1224,589.77 1227,589.16 1230,588.6 1233,587.91 1236,587.3 1239,586.4 1242,585.69 1245,584.65 1248,584.47 1251,583.92 1254,583.31 1257,582.48 1260,581.81 1265.7,580.19 1272.1,578.28 1275.7,577.37 1281.7,575.51 1287.9,574.07 1297.6,572.54 1314.6,570.65" fill="none" stroke="#CCCCCC" stroke-width="2" stroke-linejoin="round" stroke-linecap="round"/><polyline points="849.1,676.34 907.9,671.45 928.1,663.29 945.8,660.43 958.2,657.23 967.3,653.37 974.3,650.27 980.1,648.62 983.5,647.88 988.3,645.18 992.5,643.73 995.7,643.6 998.7,642.74 1002,642.37 1005,642.27 1008,641.87 1011,641.58 1014,641.21 1017,640.96 1020,640.51 1023,639.74 1026,639.16 1029,638.64 1032,638.59 1035,638.59 1038,638.34 1041,637.64 1044,636.99 1047,636.5 1050,636.42 1053,635.98 1056,634.86 1059,633.54 1062,632.47 1065,630.68 1068,629.81 1071,628.97 1074,628.38 1077,627.56 1080,627.12 1083,626.58 1086,625.82 1089,625.2 1092,624.41 1095,623.54 1098,622.78 1101,621.89 1104,621.28 1107,620.29 1110,619.43 1113,618.68 1116,616.7 1119,615.87 1122,614.27 1125,613.63 1128,612.94 1131,612.62 1134,612.62 1137,611.77 1140,611.65 1143,611.62 1146,610.76 1149,610.71 1152,610.43 1155,609.96 1158,609.43 1161,609.43 1164,609.43 1167,607.91 1170,606.4 1173,603.97 1176,603.12 1179,602.34 1182,601.43 1185,600.73 1188,599.9 1191,598.99 1194,598.15 1197,597.4 1200,596.56 1203,595.68 1206,594.7 1209,593.77 1212,592.88 1215,592.26 1218,591.27 1221,590.56 1224,589.92 1227,589.1 1230,588.56 1233,588.02 1236,587.36 1239,586.91 1242,586.56 1245,586.26 1248,585.56 1251,584.7 1254,584.35 1257,583.19 1260,582.34 1265.7,580.69 1272.1,578.6 1275.7,577.62 1281.7,576.16 1287.9,574.87 1297.6,574.08 1314.6,572.57" fill="none" stroke="#CCCCCC" stroke-width="2" stroke-linejoin="round" stroke-linecap="round"/><polyline points="849.1,689.72 907.9,680.49 928.1,670.67 945.8,664.36 958.2,660.33 967.3,657.89 974.3,656.28 980.1,654.72 983.5,652.43 988.3,649.29 992.5,647.47 995.7,647.18 998.7,647.18 1002,646.79 1005,646.69 1008,646.36 1011,645.78 1014,644.98 1017,644.61 1020,643.96 1023,643.8 1026,643.7 1029,642.74 1032,642.09 1035,641.51 1038,640.65 1041,639.82 1044,639.41 1047,638.91 1050,637.89 1053,637.18 1056,636.14 1059,634.59 1062,632.95 1065,631.28 1068,630.62 1071,629.46 1074,628.37 1077,627.64 1080,626.75 1083,625.97 1086,625.11 1089,624.41 1092,623.19 1095,622.03 1098,621.03 1101,620.44 1104,619.64 1107,618.01 1110,616.8 1113,615.69 1116,614.33 1119,613.1 1122,612.14 1125,611.84 1128,611.57 1131,611.43 1134,611.08 1137,610.6 1140,610.08 1143,610.08 1146,609.86 1149,609.5 1152,609.5 1155,609.47 1158,609.47 1161,608.82 1164,608.5 1167,607.27 1170,605.86 1173,603.58 1176,602.95 1179,602.29 1182,601.43 1185,600.53 1188,599.77 1191,598.96 1194,598.37 1197,597.51 1200,596.39 1203,595.41 1206,594.46 1209,593.53 1212,592.7 1215,592.08 1218,591.12 1221,590.25 1224,589.23 1227,588.58 1230,588.12 1233,587.48 1236,587.1 1239,586.52 1242,586.25 1245,585.75 1248,584.84 1251,583.79 1254,582.53 1257,581.22 1260,580.38 1265.7,578.46 1272.1,576.52 1275.7,575.13 1281.7,573.39 1287.9,571.27 1297.6,570.21 1314.6,568.92" fill="none" stroke="#CCCCCC" stroke-width="2" stroke-linejoin="round" stroke-linecap="round"/><polyline points="849.1,691.01 907.9,682.61 928.1,670.7 945.8,665.51 958.2,661.02 967.3,657.44 974.3,654.54 980.1,653.42 983.5,652.46 988.3,649.43 992.5,647.45 995.7,646.97 998.7,646.97 1002,646.25 1005,645.62 1008,644.59 1011,644.59 1014,644.5 1017,644.15 1020,643.72 1023,643.08 1026,642.45 1029,642.15 1032,641.43 1035,641.35 1038,640.72 1041,639.96 1044,639.94 1047,639.46 1050,639.15 1053,638.49 1056,636.52 1059,635.43 1062,633.58 1065,631.66 1068,630.49 1071,629.3 1074,628.48 1077,627.74 1080,627.06 1083,626.13 1086,625.49 1089,624.47 1092,623.6 1095,622.71 1098,621.9 1101,621.31 1104,620.44 1107,619.46 1110,618.51 1113,616.9 1116,615.37 1119,614.2 1122,612.93 1125,612.31 1128,611.23 1131,611.17 1134,611.11 1137,610.71 1140,610.02 1143,609.99 1146,609.62 1149,609.56 1152,609.26 1155,609.25 1158,608.83 1161,608.83 1164,607.98 1167,606.71 1170,605.66 1173,603.36 1176,602.68 1179,601.77 1182,601.03 1185,600.17 1188,599.38 1191,598.65 1194,597.9 1197,597.16 1200,596.44 1203,595.49 1206,594.43 1209,593.6 1212,592.78 1215,592.04 1218,591.4 1221,590.48 1224,589.89 1227,589.4 1230,588.85 1233,588.35 1236,587.22 1239,586.53 1242,586.32 1245,585.35 1248,584.54 1251,583.71 1254,582.94 1257,582.42 1260,581.1 1265.7,579.06 1272.1,576.89 1275.7,575.1 1281.7,573.44 1287.9,572.44 1297.6,571.55 1314.6,570.33" fill="none" stroke="#CCCCCC" stroke-width="2" stroke-linejoin="round" stroke-linecap="round"/><polyline points="849.1,676.87 907.9,671.12 928.1,663.88 945.8,659.8 958.2,657.52 967.3,653.78 974.3,650.38 980.1,648.89 983.5,647.5 988.3,644.92 992.5,643.82 995.7,643.82 998.7,643.68 1002,642.9 1005,642.39 1008,642.06 1011,641.35 1014,641.2 1017,640.96 1020,640.13 1023,639.74 1026,639.74 1029,639.74 1032,639.42 1035,639.25 1038,638.57 1041,637.65 1044,637.4 1047,637.06 1050,636.7 1053,636.15 1056,635.13 1059,633.86 1062,632.64 1065,630.91 1068,630.03 1071,629.3 1074,628.15 1077,627.24 1080,626.76 1083,626.29 1086,625.56 1089,624.76 1092,623.77 1095,623.08 1098,622.5 1101,621.49 1104,620.87 1107,619.93 1110,618.98 1113,617.6 1116,616.7 1119,615.24 1122,614.83 1125,614.2 1128,613.38 1131,613.38 1134,613.38 1137,612.95 1140,612.95 1143,612.95 1146,612.95 1149,612.95 1152,612.14 1155,612.14 1158,611.82 1161,611.58 1164,610.47 1167,609.24 1170,607.54 1173,604.58 1176,603.7 1179,602.75 1182,602.15 1185,601.19 1188,600.32 1191,599.5 1194,598.71 1197,598.07 1200,597.27 1203,596.35 1206,595.42 1209,594.53 1212,593.76 1215,592.99 1218,592.05 1221,590.96 1224,590.54 1227,590.04 1230,589.58 1233,589.15 1236,588.55 1239,587.84 1242,587.26 1245,586.69 1248,585.91 1251,584.67 1254,583.69 1257,582.92 1260,581.91 1265.7,579.97 1272.1,577.05 1275.7,575.65 1281.7,573.98 1287.9,571.84 1297.6,569.75 1314.6,568.46" fill="none" stroke="#CCCCCC" stroke-width="2" stroke-linejoin="round" stroke-linecap="round"/><polyline points="849.1,686.67 907.9,678.04 928.1,669.46 945.8,663.9 958.2,658.73 967.3,655.15 974.3,652.19 980.1,650.74 983.5,649.09 988.3,646.09 992.5,645.15 995.7,645.15 998.7,645.15 1002,645.15 1005,644.94 1008,644.74 1011,644.5 1014,644.11 1017,643.63 1020,643.18 1023,643.18 1026,642.97 1029,642.39 1032,641.78 1035,641.29 1038,640.9 1041,640.06 1044,638.99 1047,638.66 1050,637.64 1053,637.19 1056,636.03 1059,635.15 1062,634.06 1065,631.89 1068,630.89 1071,629.79 1074,628.77 1077,627.97 1080,626.95 1083,626.22 1086,625.44 1089,624.77 1092,623.93 1095,623.21 1098,622.35 1101,621.53 1104,620.45 1107,619.36 1110,618.62 1113,617.57 1116,616.62 1119,615.33 1122,614.91 1125,613.93 1128,613.86 1131,613.53 1134,612.8 1137,612.8 1140,612.62 1143,612.62 1146,612.62 1149,612.38 1152,611.92 1155,611.77 1158,611.31 1161,611.12 1164,610.18 1167,608.52 1170,607 1173,604.32 1176,603.51 1179,602.87 1182,601.87 1185,601.1 1188,600.06 1191,599.17 1194,598.35 1197,597.41 1200,596.28 1203,595.34 1206,594.4 1209,593.43 1212,592.38 1215,591.75 1218,590.81 1221,589.89 1224,589.39 1227,588.8 1230,588.15 1233,587.77 1236,587.22 1239,586.76 1242,586.24 1245,585.43 1248,584.98 1251,584.11 1254,582.98 1257,581.9 1260,581.22 1265.7,579.08 1272.1,576.66 1275.7,575.52 1281.7,573.94 1287.9,571.68 1297.6,570.51 1314.6,569.44" fill="none" stroke="#CCCCCC" stroke-width="2" stroke-linejoin="round" stroke-linecap="round"/><polyline points="849.1,664.28 907.9,661.04 928.1,657.68 945.8,656.04 958.2,652.39 967.3,649.38 974.3,647.4 980.1,646.51 983.5,646.39 988.3,644.51 992.5,643.21 995.7,643.21 998.7,643.21 1002,642.95 1005,642.53 1008,642.49 1011,642.12 1014,641.36 1017,641.02 1020,640.77 1023,640.03 1026,639.39 1029,638.76 1032,638.1 1035,637.76 1038,637.64 1041,637.64 1044,637.64 1047,637.64 1050,637.5 1053,637.39 1056,636.07 1059,635.05 1062,633.65 1065,631.49 1068,630.52 1071,629.55 1074,628.63 1077,627.64 1080,627.02 1083,626.27 1086,625.51 1089,624.79 1092,624.14 1095,623.3 1098,622.56 1101,621.53 1104,620.35 1107,618.78 1110,617.96 1113,616.24 1116,615.17 1119,614.64 1122,613.46 1125,613.36 1128,613.36 1131,613.36 1134,613.36 1137,613.36 1140,613.36 1143,613.36 1146,613.36 1149,612.66 1152,611.88 1155,611.88 1158,611.87 1161,611.63 1164,610.63 1167,609.33 1170,607.82 1173,604.84 1176,603.85 1179,602.86 1182,601.98 1185,601.22 1188,600.66 1191,599.97 1194,599.35 1197,598.67 1200,597.82 1203,596.82 1206,595.96 1209,594.83 1212,593.93 1215,593.3 1218,592.51 1221,591.91 1224,591.11 1227,590.26 1230,589.7 1233,589.14 1236,588.88 1239,588.8 1242,588.18 1245,587.64 1248,587.01 1251,586.03 1254,584.84 1257,583.97 1260,583.16 1265.7,581.49 1272.1,579.13 1275.7,577.95 1281.7,575.83 1287.9,574.6 1297.6,572.9 1314.6,571.38" fill="none" stroke="#CCCCCC" stroke-width="2" stroke-linejoin="round" stroke-linecap="round"/><polyline points="849.1,687.49 907.9,678.01 928.1,667.59 945.8,663.73 958.2,659.52 967.3,656.22 974.3,654.79 980.1,652.67 983.5,651.33 988.3,647.93 992.5,646.88 995.7,646.78 998.7,646.64 1002,646.2 1005,645.9 1008,645.86 1011,644.66 1014,644.11 1017,643.48 1020,642.89 1023,641.75 1026,641.5 1029,640.73 1032,640.19 1035,639.57 1038,638.58 1041,637.99 1044,636.99 1047,636.28 1050,635.66 1053,635.11 1056,634.1 1059,633.02 1062,632.33 1065,630.6 1068,629.54 1071,628.6 1074,627.66 1077,626.86 1080,626.08 1083,625.19 1086,624.65 1089,623.86 1092,623 1095,622.19 1098,621.39 1101,620.9 1104,620.24 1107,619.37 1110,617.41 1113,616.27 1116,615.41 1119,615.08 1122,614.13 1125,612.77 1128,612.66 1131,612.09 1134,611.1 1137,610.55 1140,610.55 1143,610.55 1146,610.55 1149,610.55 1152,610.55 1155,610.55 1158,610.25 1161,609.61 1164,609.43 1167,608.37 1170,607.23 1173,604.55 1176,603.73 1179,602.96 1182,601.93 1185,601.26 1188,600.57 1191,599.73 1194,598.94 1197,598.25 1200,597.55 1203,596.74 1206,595.88 1209,594.96 1212,593.9 1215,592.96 1218,592.11 1221,591.31 1224,590.58 1227,590.05 1230,589.63 1233,589.2 1236,588.83 1239,588.39 1242,587.91 1245,587.55 1248,586.55 1251,585.95 1254,584.76 1257,584.06 1260,583.17 1265.7,581.71 1272.1,579.78 1275.7,578.38 1281.7,577.3 1287.9,575.87 1297.6,574.68 1314.6,573.32" fill="none" stroke="#CCCCCC" stroke-width="2" stroke-linejoin="round" stroke-linecap="round"/><polyline points="849.1,689.62 907.9,681.18 928.1,670 945.8,664.31 958.2,659.97 967.3,657.59 974.3,655.2 980.1,653.06 983.5,652 988.3,648.39 992.5,646.91 995.7,646.71 998.7,646.01 1002,645.95 1005,645.71 1008,645.19 1011,644.3 1014,643.87 1017,643.85 1020,643.16 1023,642.32 1026,641.98 1029,640.97 1032,639.78 1035,639.2 1038,638.53 1041,638 1044,637.42 1047,637.12 1050,636.54 1053,635.82 1056,634.61 1059,633.71 1062,632.65 1065,630.93 1068,630.2 1071,628.79 1074,627.79 1077,626.97 1080,626.31 1083,625.31 1086,624.75 1089,624 1092,623.11 1095,622.38 1098,621.57 1101,620.67 1104,620.02 1107,618.75 1110,617.17 1113,615.72 1116,614.42 1119,612.96 1122,612.33 1125,611.17 1128,611.17 1131,611.17 1134,610.9 1137,610.63 1140,610.63 1143,610.63 1146,610.24 1149,610.03 1152,610.03 1155,609.69 1158,609.63 1161,609.5 1164,608.92 1167,607.71 1170,606.38 1173,604.17 1176,603.45 1179,602.54 1182,601.96 1185,601.03 1188,600.32 1191,599.56 1194,598.9 1197,598.22 1200,597.47 1203,596.6 1206,595.86 1209,595.05 1212,594.5 1215,593.57 1218,592.93 1221,592.24 1224,591.53 1227,590.84 1230,590.48 1233,589.79 1236,589.09 1239,588.78 1242,588 1245,587.86 1248,587.22 1251,586.39 1254,585.52 1257,584.73 1260,583.78 1265.7,582.02 1272.1,580.11 1275.7,579.42 1281.7,578.43 1287.9,577.48 1297.6,576.46 1314.6,575" fill="none" stroke="#CCCCCC" stroke-width="2" stroke-linejoin="round" stroke-linecap="round"/><polyline points="849.1,682.51 907.9,676.22 928.1,667.44 945.8,663.09 958.2,659.53 967.3,656.16 974.3,654.12 980.1,652.32 983.5,649.93 988.3,646.72 992.5,645.33 995.7,645.27 998.7,644.78 1002,644.28 1005,643.56 1008,643.1 1011,642.6 1014,642.42 1017,642.21 1020,641.79 1023,641.4 1026,640.96 1029,640.52 1032,640.52 1035,639.33 1038,638.83 1041,638.5 1044,638.45 1047,637.7 1050,637.32 1053,637.09 1056,635.79 1059,634.1 1062,632.68 1065,630.58 1068,629.85 1071,628.87 1074,628.31 1077,627.55 1080,626.74 1083,625.92 1086,624.97 1089,624.25 1092,623.73 1095,622.96 1098,622.41 1101,621.52 1104,620.86 1107,620.36 1110,619 1113,618.34 1116,617.76 1119,616.27 1122,614.86 1125,613.83 1128,613.83 1131,613.35 1134,612.94 1137,612.86 1140,612.74 1143,612.74 1146,612.61 1149,612.61 1152,612.16 1155,612.16 1158,612.03 1161,611.55 1164,610.97 1167,609.73 1170,607.79 1173,604.92 1176,603.91 1179,603.01 1182,602.31 1185,601.41 1188,600.66 1191,599.82 1194,599.23 1197,598.49 1200,597.52 1203,596.53 1206,595.55 1209,594.7 1212,593.84 1215,593.12 1218,592.3 1221,591.56 1224,590.87 1227,590.22 1230,589.79 1233,589.46 1236,589.14 1239,588.58 1242,587.74 1245,587.08 1248,586.54 1251,585.07 1254,584.08 1257,583.29 1260,582.27 1265.7,580.1 1272.1,578.42 1275.7,577.7 1281.7,576.11 1287.9,575.06 1297.6,574.3 1314.6,572.46" fill="none" stroke="#CCCCCC" stroke-width="2" stroke-linejoin="round" stroke-linecap="round"/><polyline points="849.1,704.21 907.9,692.29 928.1,678.13 945.8,670.83 958.2,665.01 967.3,661.98 974.3,660.21 980.1,657.7 983.5,655.48 988.3,651.62 992.5,649.47 995.7,649.47 998.7,649.13 1002,648.87 1005,648.57 1008,648.24 1011,647.73 1014,646.97 1017,646.3 1020,645.96 1023,645.43 1026,644.56 1029,643.84 1032,643.13 1035,642.64 1038,642.23 1041,641.78 1044,641.15 1047,640.73 1050,639.83 1053,638.4 1056,637.1 1059,635.37 1062,633.64 1065,631.29 1068,630.53 1071,629.45 1074,628.62 1077,627.75 1080,626.86 1083,625.87 1086,625.16 1089,624.44 1092,623.79 1095,623.38 1098,622.72 1101,622.06 1104,621.33 1107,620.38 1110,619.29 1113,618.02 1116,617.65 1119,616.14 1122,615.34 1125,614.84 1128,614.52 1131,613.78 1134,613.34 1137,612.79 1140,612.22 1143,612.22 1146,611.91 1149,611.41 1152,611.35 1155,610.68 1158,610.53 1161,610.14 1164,609.64 1167,608.44 1170,607.14 1173,604.34 1176,603.42 1179,602.53 1182,601.77 1185,601.07 1188,600.41 1191,599.56 1194,598.78 1197,597.9 1200,596.76 1203,595.74 1206,594.73 1209,593.59 1212,592.42 1215,591.56 1218,590.5 1221,589.46 1224,589.06 1227,588.39 1230,587.71 1233,587.2 1236,586.44 1239,586.13 1242,585.18 1245,584.26 1248,583.5 1251,582.42 1254,581.84 1257,580.56 1260,579.48 1265.7,577.25 1272.1,574.66 1275.7,573.45 1281.7,571.83 1287.9,570.86 1297.6,569.2 1314.6,567.81" fill="none" stroke="#CCCCCC" stroke-width="2" stroke-linejoin="round" stroke-linecap="round"/><polyline points="849.1,697.84 907.9,687.07 928.1,674.9 945.8,667.87 958.2,662.43 967.3,658.84 974.3,655.31 980.1,653.36 983.5,650.88 988.3,648.31 992.5,647.36 995.7,647.36 998.7,647.08 1002,646.52 1005,646.51 1008,646.13 1011,645.78 1014,645.01 1017,644.84 1020,644.06 1023,643.58 1026,642.5 1029,641.76 1032,641.43 1035,640.79 1038,640.16 1041,639.92 1044,639.45 1047,639.4 1050,638.12 1053,637.75 1056,636.65 1059,634.96 1062,633.17 1065,631.3 1068,630.23 1071,629.24 1074,628.46 1077,627.6 1080,626.97 1083,626.08 1086,625.34 1089,624.72 1092,623.99 1095,622.86 1098,622.23 1101,621.49 1104,620.57 1107,619.78 1110,618.23 1113,617.62 1116,616.32 1119,615.89 1122,614.93 1125,613.71 1128,613.36 1131,613.1 1134,612.91 1137,612.9 1140,612.37 1143,612.37 1146,612.37 1149,612.2 1152,611.53 1155,610.87 1158,610.8 1161,610.8 1164,609.88 1167,608.28 1170,607.21 1173,604.3 1176,603.5 1179,602.6 1182,601.59 1185,600.82 1188,600.02 1191,599.4 1194,598.84 1197,598.1 1200,597.31 1203,596.54 1206,595.6 1209,594.6 1212,593.93 1215,593.01 1218,592.14 1221,591.31 1224,590.53 1227,589.78 1230,589.38 1233,589.08 1236,588.5 1239,587.7 1242,587.18 1245,586.31 1248,585.5 1251,584.87 1254,584.49 1257,583.66 1260,582.5 1265.7,580.83 1272.1,578 1275.7,576.5 1281.7,575.44 1287.9,574.09 1297.6,572.2 1314.6,570.1" fill="none" stroke="#CCCCCC" stroke-width="2" stroke-linejoin="round" stroke-linecap="round"/><polyline points="849.1,698.4 907.9,687.15 928.1,675.63 945.8,668.46 958.2,662.52 967.3,659.7 974.3,656.73 980.1,653.89 983.5,651.47 988.3,648.09 992.5,646.37 995.7,646.28 998.7,645.93 1002,645.88 1005,645.34 1008,644.66 1011,643.46 1014,642.56 1017,642.28 1020,642.28 1023,641.83 1026,640.97 1029,640.57 1032,640.23 1035,639.53 1038,639.07 1041,638.08 1044,637.54 1047,637.38 1050,637.37 1053,636.76 1056,635.5 1059,634.45 1062,633.3 1065,631.33 1068,630.31 1071,629.48 1074,628.74 1077,627.82 1080,626.91 1083,626.23 1086,625.5 1089,624.88 1092,624.11 1095,623.25 1098,622.44 1101,621.51 1104,620.57 1107,619.34 1110,618.05 1113,617.2 1116,615.66 1119,614.62 1122,613.36 1125,613.19 1128,612.91 1131,612.39 1134,612.32 1137,611.96 1140,611.58 1143,611.58 1146,611.58 1149,611.58 1152,611.58 1155,611.58 1158,611.58 1161,611.57 1164,610.97 1167,609.6 1170,608.26 1173,605.15 1176,604.21 1179,603.26 1182,602.53 1185,601.86 1188,601 1191,600.22 1194,599.54 1197,598.71 1200,597.83 1203,596.85 1206,596.13 1209,595.31 1212,594.41 1215,593.33 1218,592.45 1221,591.82 1224,591.02 1227,590.32 1230,589.93 1233,589.23 1236,588.74 1239,588.36 1242,587.7 1245,587.01 1248,586.44 1251,585.5 1254,584.54 1257,583.67 1260,582.81 1265.7,580.74 1272.1,578.39 1275.7,577.31 1281.7,576.16 1287.9,575.08 1297.6,573.45 1314.6,572.44" fill="none" stroke="#CCCCCC" stroke-width="2" stroke-linejoin="round" stroke-linecap="round"/><polyline points="849.1,690.28 907.9,681.89 928.1,672.28 945.8,667.31 958.2,661.98 967.3,659.01 974.3,656.33 980.1,653.96 983.5,652.74 988.3,649.25 992.5,647.33 995.7,646.96 998.7,646.76 1002,645.94 1005,645.81 1008,645.34 1011,644.85 1014,644.43 1017,644.43 1020,644.01 1023,643.38 1026,643.38 1029,642.75 1032,642.09 1035,641.15 1038,641.01 1041,640.61 1044,640.31 1047,639.92 1050,639.38 1053,638.6 1056,637.05 1059,635.88 1062,634.32 1065,632.3 1068,631.25 1071,630.24 1074,629.17 1077,628.56 1080,627.66 1083,627.05 1086,626.52 1089,625.74 1092,625.11 1095,624.04 1098,623.27 1101,622.26 1104,621.58 1107,620.63 1110,619.46 1113,618.74 1116,617.89 1119,616.86 1122,615.8 1125,614.57 1128,614.11 1131,614.11 1134,613.84 1137,613.6 1140,613.2 1143,613.2 1146,613.2 1149,613.08 1152,612.11 1155,611.61 1158,611.61 1161,611.37 1164,610.78 1167,609.29 1170,607.41 1173,604.7 1176,603.91 1179,603.03 1182,602.18 1185,601.41 1188,600.54 1191,599.78 1194,598.95 1197,597.99 1200,597.08 1203,596.11 1206,595.1 1209,594.24 1212,593.28 1215,592.46 1218,591.73 1221,590.97 1224,589.98 1227,589.2 1230,588.79 1233,588.18 1236,587.47 1239,586.88 1242,586.41 1245,585.9 1248,585.38 1251,584.28 1254,583.31 1257,582.35 1260,581.44 1265.7,578.87 1272.1,576.32 1275.7,574.47 1281.7,573.27 1287.9,572.12 1297.6,571.36 1314.6,570.23" fill="none" stroke="#CCCCCC" stroke-width="2" stroke-linejoin="round" stroke-linecap="round"/><polyline points="849.1,690.25 907.9,681.12 928.1,671.59 945.8,665.19 958.2,660.35 967.3,657.2 974.3,655.57 980.1,653.38 983.5,652.75 988.3,649.97 992.5,647.88 995.7,647.58 998.7,647.02 1002,646.61 1005,646.05 1008,645.59 1011,645.37 1014,645.15 1017,644.73 1020,644.22 1023,643.75 1026,643.29 1029,642.96 1032,642.47 1035,642.14 1038,641.24 1041,641 1044,641 1047,640.72 1050,639.79 1053,639.71 1056,638.22 1059,636.02 1062,634.37 1065,632.16 1068,631.31 1071,630.59 1074,629.75 1077,628.94 1080,627.94 1083,627.04 1086,626.31 1089,625.66 1092,624.73 1095,623.91 1098,623.3 1101,622.24 1104,621.15 1107,620.09 1110,619.11 1113,617.93 1116,616.15 1119,615.17 1122,613.7 1125,613.23 1128,612.83 1131,612.56 1134,612.43 1137,611.88 1140,611.88 1143,611.88 1146,611.88 1149,611.88 1152,611.88 1155,611.88 1158,611.78 1161,611.22 1164,610.44 1167,608.99 1170,607.44 1173,604.67 1176,603.99 1179,603.14 1182,602.34 1185,601.36 1188,600.57 1191,599.9 1194,599.17 1197,598.49 1200,597.57 1203,596.6 1206,595.71 1209,594.67 1212,593.62 1215,592.88 1218,591.87 1221,591.37 1224,590.4 1227,589.81 1230,589.1 1233,588.59 1236,587.86 1239,587.33 1242,586.75 1245,586.1 1248,585.56 1251,585 1254,583.96 1257,583.26 1260,582.37 1265.7,580.48 1272.1,578.98 1275.7,577.08 1281.7,575.28 1287.9,572.99 1297.6,571.49 1314.6,569.97" fill="none" stroke="#CCCCCC" stroke-width="2" stroke-linejoin="round" stroke-linecap="round"/><polyline points="849.1,695.91 907.9,684.75 928.1,673.93 945.8,668.59 958.2,664.36 967.3,661 974.3,658.78 980.1,657.16 983.5,655.17 988.3,650.87 992.5,649.24 995.7,648.47 998.7,647.95 1002,647.69 1005,647.5 1008,646.79 1011,646.16 1014,645.6 1017,645.04 1020,644.76 1023,644.29 1026,643.84 1029,642.87 1032,642.03 1035,641.65 1038,640.66 1041,640.27 1044,639.62 1047,638.93 1050,638.63 1053,637.88 1056,636.37 1059,634.96 1062,633.5 1065,631.89 1068,630.62 1071,629.72 1074,628.79 1077,628.13 1080,627.37 1083,626.25 1086,625.68 1089,624.72 1092,623.93 1095,622.94 1098,622 1101,621.16 1104,620.58 1107,619.67 1110,618.41 1113,617.43 1116,616.21 1119,615.27 1122,614.35 1125,613.88 1128,613.27 1131,612.84 1134,612.55 1137,612.21 1140,611.72 1143,611.72 1146,611.72 1149,611.72 1152,611.71 1155,611.71 1158,610.74 1161,610.74 1164,610.39 1167,608.76 1170,607.39 1173,604.94 1176,604.17 1179,603.19 1182,602.32 1185,601.67 1188,600.69 1191,599.87 1194,599.03 1197,598.52 1200,597.63 1203,596.91 1206,595.97 1209,595.01 1212,594.29 1215,593.53 1218,592.43 1221,591.75 1224,591.09 1227,590.36 1230,589.91 1233,589.48 1236,588.9 1239,588.3 1242,587.66 1245,587.1 1248,586.16 1251,585.24 1254,583.99 1257,583.09 1260,582.16 1265.7,579.97 1272.1,577.96 1275.7,577.35 1281.7,576.27 1287.9,574.19 1297.6,573.34 1314.6,571.99" fill="none" stroke="#CCCCCC" stroke-width="2" stroke-linejoin="round" stroke-linecap="round"/><polyline points="849.1,692.64 907.9,683.23 928.1,673.66 945.8,667.63 958.2,662.6 967.3,658.96 974.3,656.1 980.1,654.18 983.5,653.28 988.3,648.99 992.5,647.42 995.7,647.01 998.7,646.51 1002,646.25 1005,646.03 1008,645.12 1011,644.24 1014,644.1 1017,643.69 1020,643.35 1023,642.68 1026,642.04 1029,641.67 1032,641.02 1035,640.18 1038,639.7 1041,639.51 1044,638.74 1047,638.63 1050,638.34 1053,637.53 1056,636.29 1059,635.05 1062,633.72 1065,631.68 1068,630.55 1071,629.44 1074,628.71 1077,627.92 1080,627.28 1083,626.59 1086,626.06 1089,625.1 1092,624.51 1095,623.64 1098,623.06 1101,622.6 1104,621.63 1107,620.78 1110,619.76 1113,618.71 1116,617.76 1119,616.52 1122,615.27 1125,614.84 1128,614.76 1131,614.15 1134,613.22 1137,613.22 1140,613.22 1143,613.22 1146,613.22 1149,612.91 1152,612.65 1155,611.98 1158,611.98 1161,611.98 1164,611.24 1167,609.56 1170,607.86 1173,604.8 1176,604.01 1179,603.16 1182,602.31 1185,601.54 1188,600.75 1191,600.1 1194,599.26 1197,598.43 1200,597.56 1203,596.86 1206,595.93 1209,595.07 1212,594.17 1215,593.37 1218,592.56 1221,591.66 1224,590.87 1227,590.38 1230,590.07 1233,589.77 1236,589.46 1239,588.94 1242,588.4 1245,588.14 1248,587.28 1251,586.36 1254,585.02 1257,584.03 1260,582.96 1265.7,580.83 1272.1,578.89 1275.7,577.46 1281.7,575.79 1287.9,574.09 1297.6,572.47 1314.6,571.58" fill="none" stroke="#CCCCCC" stroke-width="2" stroke-linejoin="round" stroke-linecap="round"/><polyline points="849.1,695.2 907.9,684.74 928.1,673.78 945.8,666.63 958.2,661.68 967.3,658.18 974.3,655.35 980.1,652.89 983.5,651.3 988.3,648.43 992.5,646.89 995.7,646.57 998.7,646.19 1002,646.19 1005,646.19 1008,646.19 1011,646.14 1014,645.38 1017,644.82 1020,644.38 1023,643.9 1026,643.11 1029,642.35 1032,642.02 1035,641.63 1038,640.47 1041,640.02 1044,639.97 1047,639.32 1050,638.9 1053,637.9 1056,636.89 1059,635.3 1062,633.49 1065,631.33 1068,630.85 1071,629.84 1074,628.75 1077,628.01 1080,627.34 1083,626.85 1086,625.89 1089,624.85 1092,624.02 1095,623.34 1098,622.68 1101,622.16 1104,621.16 1107,619.96 1110,618.86 1113,618.03 1116,617.14 1119,616.08 1122,614.79 1125,614.42 1128,614.39 1131,614.39 1134,614.39 1137,614.39 1140,614.05 1143,613.89 1146,613.47 1149,612.96 1152,612.32 1155,611.8 1158,611.45 1161,611.07 1164,610.52 1167,609.17 1170,607.72 1173,605.03 1176,604.23 1179,603.43 1182,602.6 1185,601.79 1188,601.03 1191,600.12 1194,599.41 1197,598.83 1200,598.12 1203,597.23 1206,596.21 1209,595.3 1212,594.48 1215,593.76 1218,592.9 1221,592.09 1224,591.56 1227,590.84 1230,590.56 1233,590.28 1236,589.6 1239,589.21 1242,588.65 1245,587.99 1248,586.97 1251,585.71 1254,584.89 1257,583.9 1260,583.05 1265.7,580.98 1272.1,578.78 1275.7,577.5 1281.7,575.42 1287.9,573.19 1297.6,571.99 1314.6,570.6" fill="none" stroke="#CCCCCC" stroke-width="2" stroke-linejoin="round" stroke-linecap="round"/><polyline points="849.1,687.08 907.9,679.53 928.1,671.39 945.8,665.05 958.2,660.85 967.3,658.65 974.3,656.07 980.1,654.61 983.5,651.56 988.3,648.59 992.5,647.07 995.7,646.21 998.7,646.19 1002,646.13 1005,646.11 1008,646.05 1011,645.51 1014,644.74 1017,644.08 1020,643.55 1023,643.17 1026,642.51 1029,642.01 1032,641.8 1035,641.41 1038,641.41 1041,641.41 1044,641.02 1047,640.4 1050,639.5 1053,638.6 1056,637.45 1059,635.86 1062,634.02 1065,631.74 1068,630.97 1071,630.01 1074,629.04 1077,628.36 1080,627.73 1083,627.07 1086,626.46 1089,625.54 1092,624.82 1095,623.99 1098,623.48 1101,622.94 1104,622.05 1107,621.48 1110,620.33 1113,619.77 1116,618.99 1119,617.92 1122,616.71 1125,615.96 1128,615.53 1131,614.86 1134,614.65 1137,613.74 1140,613.53 1143,613.53 1146,612.71 1149,612.49 1152,611.72 1155,610.53 1158,610.02 1161,609.77 1164,609.43 1167,608.11 1170,607.12 1173,604.66 1176,603.97 1179,603.33 1182,602.55 1185,601.67 1188,600.92 1191,600.21 1194,599.41 1197,598.65 1200,597.63 1203,596.84 1206,596.03 1209,595 1212,594.16 1215,593.4 1218,592.54 1221,591.88 1224,591.24 1227,590.38 1230,589.85 1233,589.45 1236,589.14 1239,588.94 1242,588.08 1245,587.58 1248,587.14 1251,586.51 1254,585.99 1257,584.86 1260,583.87 1265.7,581.91 1272.1,580.24 1275.7,578.73 1281.7,577.67 1287.9,576.51 1297.6,575.46 1314.6,573.19" fill="none" stroke="#CCCCCC" stroke-width="2" stroke-linejoin="round" stroke-linecap="round"/><polyline points="849.1,702.91 907.9,689.88 928.1,677.05 945.8,669.84 958.2,665.25 967.3,662.35 974.3,660.06 980.1,657.18 983.5,655.09 988.3,650.69 992.5,649.14 995.7,648.78 998.7,648.78 1002,647.93 1005,647.93 1008,647.48 1011,647.32 1014,646.83 1017,646.59 1020,646.56 1023,645.87 1026,645.38 1029,644.8 1032,644.36 1035,643.33 1038,642.78 1041,642.19 1044,641.49 1047,640.99 1050,640.01 1053,639.94 1056,638.66 1059,637.74 1062,635.71 1065,632.85 1068,631.95 1071,630.72 1074,629.82 1077,628.87 1080,628.12 1083,627.43 1086,626.69 1089,626.24 1092,625.61 1095,624.7 1098,624.21 1101,623.29 1104,622.63 1107,621.56 1110,620.51 1113,620.02 1116,619.01 1119,618.02 1122,617.02 1125,616.27 1128,616.27 1131,615.52 1134,614.65 1137,614.44 1140,613.66 1143,613.56 1146,613.56 1149,613.44 1152,612.92 1155,612.33 1158,611.68 1161,611.24 1164,610.51 1167,609.5 1170,608.23 1173,605.06 1176,604.12 1179,603.39 1182,602.34 1185,601.48 1188,600.63 1191,599.71 1194,598.8 1197,598.11 1200,597.05 1203,596.04 1206,595.04 1209,594.13 1212,593.04 1215,592.28 1218,591.33 1221,590.5 1224,589.69 1227,588.9 1230,588.15 1233,587.74 1236,587.19 1239,586.57 1242,586.18 1245,585.43 1248,584.88 1251,583.97 1254,582.85 1257,582.1 1260,580.84 1265.7,578.9 1272.1,576.15 1275.7,574.85 1281.7,573.65 1287.9,572.14 1297.6,570.47 1314.6,569" fill="none" stroke="#CCCCCC" stroke-width="2" stroke-linejoin="round" stroke-linecap="round"/><polyline points="849.1,706.1 907.9,692.72 928.1,679.22 945.8,671.86 958.2,665.63 967.3,662.53 974.3,660.35 980.1,657.71 983.5,655.07 988.3,651.07 992.5,648.85 995.7,648.73 998.7,648.73 1002,647.92 1005,647.62 1008,647.29 1011,646.81 1014,646.02 1017,645.39 1020,644.41 1023,643.92 1026,643.56 1029,642.81 1032,642 1035,641.34 1038,640.83 1041,640.34 1044,639.84 1047,639.4 1050,638.47 1053,637.05 1056,636.01 1059,635.17 1062,633.32 1065,631.13 1068,630.29 1071,629.55 1074,628.76 1077,628.13 1080,627.41 1083,626.72 1086,626.01 1089,625.16 1092,624.58 1095,623.95 1098,623.42 1101,622.64 1104,622.13 1107,621.01 1110,620.18 1113,618.49 1116,617.16 1119,616.48 1122,615.39 1125,614.75 1128,613.72 1131,613.72 1134,613.68 1137,613.25 1140,613.17 1143,613.17 1146,613.17 1149,613.17 1152,612.42 1155,611.97 1158,611.97 1161,611.96 1164,610.97 1167,609.72 1170,608.22 1173,605.2 1176,604.14 1179,603.2 1182,602.46 1185,601.61 1188,600.83 1191,600.21 1194,599.35 1197,598.63 1200,597.71 1203,596.77 1206,595.89 1209,594.83 1212,593.67 1215,592.98 1218,592.08 1221,591.46 1224,590.71 1227,590.08 1230,589.67 1233,589.29 1236,588.56 1239,588.27 1242,587.56 1245,587.08 1248,587.01 1251,586.11 1254,585.56 1257,584.56 1260,583.77 1265.7,582.07 1272.1,580.28 1275.7,578.91 1281.7,577.1 1287.9,575.66 1297.6,573.76 1314.6,571.98" fill="none" stroke="#CCCCCC" stroke-width="2" stroke-linejoin="round" stroke-linecap="round"/><polyline points="849.1,710.6 907.9,696.53 928.1,680.99 945.8,672.97 958.2,667.33 967.3,664.48 974.3,661.97 980.1,660.05 983.5,657.44 988.3,651.78 992.5,649.89 995.7,649.56 998.7,649.29 1002,648.42 1005,648.4 1008,647.97 1011,647.41 1014,646.35 1017,645.97 1020,645.41 1023,645.31 1026,644.64 1029,643.71 1032,643.22 1035,642.41 1038,642.03 1041,641.17 1044,640.66 1047,640.13 1050,639.6 1053,638.89 1056,637.3 1059,635.95 1062,634.2 1065,631.94 1068,630.97 1071,629.68 1074,628.77 1077,628.16 1080,627.49 1083,626.83 1086,626.13 1089,625.27 1092,624.27 1095,623.67 1098,623.13 1101,622.52 1104,621.89 1107,621.06 1110,620.12 1113,619.26 1116,618.34 1119,617.6 1122,616.42 1125,615.51 1128,615.29 1131,614.73 1134,613.43 1137,613.06 1140,612.04 1143,612.04 1146,612.04 1149,612.04 1152,612.04 1155,611.31 1158,610.9 1161,610.67 1164,609.74 1167,608.52 1170,607.29 1173,604.63 1176,603.66 1179,602.59 1182,601.79 1185,600.92 1188,600.18 1191,599.56 1194,598.92 1197,598.22 1200,597.45 1203,596.74 1206,595.87 1209,595.03 1212,594.28 1215,593.42 1218,592.49 1221,591.6 1224,590.84 1227,590.09 1230,589.71 1233,589.14 1236,588.9 1239,588.63 1242,587.89 1245,587.62 1248,586.91 1251,586.29 1254,585.48 1257,584.55 1260,583.78 1265.7,581.93 1272.1,580.09 1275.7,579.12 1281.7,577.6 1287.9,576.21 1297.6,574.57 1314.6,573.33" fill="none" stroke="#CCCCCC" stroke-width="2" stroke-linejoin="round" stroke-linecap="round"/><polyline points="849.1,693.35 907.9,684.26 928.1,673.8 945.8,667.07 958.2,663.84 967.3,660.53 974.3,658.06 980.1,655.22 983.5,653.96 988.3,649.71 992.5,648.34 995.7,647.75 998.7,647.56 1002,647.07 1005,646.96 1008,646.44 1011,645.62 1014,645.23 1017,644.33 1020,643.51 1023,643.23 1026,642.13 1029,641.84 1032,641.22 1035,640.45 1038,640.03 1041,639.74 1044,639.11 1047,638.61 1050,638.34 1053,638.03 1056,636.74 1059,635.26 1062,633.53 1065,631.32 1068,630.54 1071,629.73 1074,628.88 1077,628.27 1080,627.52 1083,626.73 1086,625.9 1089,625.42 1092,624.33 1095,623.64 1098,623.01 1101,622.31 1104,622.03 1107,621.41 1110,620.74 1113,619.65 1116,618.94 1119,618.04 1122,617.27 1125,616.72 1128,616.12 1131,615.92 1134,615.92 1137,615.92 1140,615.85 1143,615.26 1146,615.26 1149,615.26 1152,615.01 1155,614.48 1158,614.32 1161,613.73 1164,612.91 1167,611.03 1170,609.18 1173,605.72 1176,604.68 1179,603.84 1182,603.06 1185,602.07 1188,601.34 1191,600.44 1194,599.66 1197,598.94 1200,598.07 1203,597.18 1206,596.15 1209,595.22 1212,594.27 1215,593.65 1218,592.96 1221,592 1224,591.36 1227,590.77 1230,590.26 1233,589.88 1236,589.57 1239,589.02 1242,588.52 1245,588.1 1248,587.3 1251,586.43 1254,585.51 1257,584.46 1260,583.37 1265.7,581.71 1272.1,580.01 1275.7,579.03 1281.7,577.3 1287.9,576.05 1297.6,574.86 1314.6,573.66" fill="none" stroke="#CCCCCC" stroke-width="2" stroke-linejoin="round" stroke-linecap="round"/><polyline points="849.1,698.19 907.9,687.56 928.1,675.19 945.8,668.01 958.2,664.17 967.3,661.54 974.3,658.08 980.1,655.87 983.5,653.68 988.3,650.07 992.5,648.4 995.7,648.06 998.7,647.84 1002,647.59 1005,647.24 1008,646.76 1011,646.19 1014,645.84 1017,644.98 1020,644.48 1023,643.94 1026,643.29 1029,643.01 1032,642.13 1035,641.53 1038,640.8 1041,640.48 1044,639.91 1047,639.49 1050,639.11 1053,638.11 1056,636.97 1059,635.5 1062,633.91 1065,631.69 1068,630.92 1071,630.13 1074,629.48 1077,628.69 1080,627.92 1083,627.12 1086,626.46 1089,625.96 1092,625.28 1095,624.49 1098,623.86 1101,623.24 1104,622.58 1107,621.63 1110,620.18 1113,619.13 1116,618.55 1119,617.82 1122,616.26 1125,615.62 1128,614.56 1131,614.56 1134,614.54 1137,613.73 1140,613.73 1143,613.59 1146,613.59 1149,613.29 1152,612.56 1155,612.45 1158,611.69 1161,611.69 1164,611.06 1167,609.43 1170,607.57 1173,604.95 1176,604.3 1179,603.33 1182,602.7 1185,601.9 1188,601.05 1191,600.22 1194,599.37 1197,598.77 1200,597.95 1203,596.92 1206,596.3 1209,595.57 1212,594.61 1215,593.73 1218,592.78 1221,592.02 1224,591.33 1227,590.74 1230,590.19 1233,589.6 1236,589.28 1239,588.8 1242,588.79 1245,588.18 1248,587.77 1251,586.88 1254,585.81 1257,585.21 1260,584.33 1265.7,582.5 1272.1,580.6 1275.7,579.9 1281.7,578.08 1287.9,577.09 1297.6,576.13 1314.6,574.62" fill="none" stroke="#CCCCCC" stroke-width="2" stroke-linejoin="round" stroke-linecap="round"/><polyline points="849.1,694.87 907.9,685.68 928.1,674.45 945.8,668.96 958.2,664.76 967.3,661.19 974.3,658.59 980.1,656 983.5,653.86 988.3,649.31 992.5,647.98 995.7,647.72 998.7,647.49 1002,647.49 1005,647.01 1008,646.58 1011,646.14 1014,645.49 1017,644.95 1020,644.69 1023,644.18 1026,644.09 1029,643.35 1032,642.92 1035,642 1038,641.48 1041,640.79 1044,640.76 1047,640.54 1050,640.22 1053,640.22 1056,639.25 1059,637.97 1062,635.97 1065,633.01 1068,632.06 1071,631.05 1074,630 1077,629.12 1080,628.18 1083,627.68 1086,626.77 1089,625.93 1092,625.27 1095,624.31 1098,623.79 1101,623.29 1104,622.56 1107,621.54 1110,620.58 1113,619.22 1116,618.75 1119,617.98 1122,616.95 1125,615.99 1128,615.8 1131,615.8 1134,615.06 1137,614.45 1140,613.66 1143,613.66 1146,613.66 1149,613.66 1152,613.66 1155,613.38 1158,612.8 1161,612.8 1164,611.41 1167,610.16 1170,608.67 1173,605.34 1176,604.38 1179,603.69 1182,603.07 1185,602.18 1188,601.4 1191,600.74 1194,599.83 1197,599.07 1200,598.13 1203,597.29 1206,596.45 1209,595.57 1212,594.65 1215,593.61 1218,592.58 1221,591.67 1224,591.01 1227,590.31 1230,589.69 1233,589.31 1236,588.92 1239,588.3 1242,587.68 1245,587.32 1248,586.79 1251,585.7 1254,584.85 1257,583.95 1260,583.29 1265.7,581.32 1272.1,579.56 1275.7,578.58 1281.7,576.77 1287.9,575.6 1297.6,574.67 1314.6,572.76" fill="none" stroke="#CCCCCC" stroke-width="2" stroke-linejoin="round" stroke-linecap="round"/><polyline points="849.1,694.92 907.9,684.11 928.1,672.98 945.8,667.25 958.2,662.79 967.3,659.51 974.3,657.73 980.1,655.55 983.5,654.28 988.3,651.11 992.5,649.35 995.7,648.28 998.7,647.88 1002,647.19 1005,646.85 1008,646.47 1011,645.55 1014,644.67 1017,644.09 1020,643.52 1023,642.2 1026,642 1029,641.51 1032,641.03 1035,640.65 1038,639.86 1041,639.37 1044,639.26 1047,639.16 1050,638.8 1053,638.19 1056,636.68 1059,635.78 1062,634.33 1065,631.95 1068,630.68 1071,629.65 1074,628.46 1077,627.85 1080,627.18 1083,626.33 1086,625.51 1089,625.15 1092,624.59 1095,623.64 1098,622.91 1101,621.97 1104,620.92 1107,619.92 1110,619.47 1113,618.93 1116,618.01 1119,617.05 1122,616.28 1125,616.03 1128,615.08 1131,614 1134,614 1137,613.99 1140,613.99 1143,613.99 1146,613.99 1149,613.99 1152,613.99 1155,613.99 1158,613.99 1161,613.82 1164,613.03 1167,611.23 1170,609.24 1173,605.83 1176,605.16 1179,604.41 1182,603.39 1185,602.64 1188,601.86 1191,600.95 1194,599.84 1197,599.2 1200,598.49 1203,597.74 1206,596.73 1209,595.73 1212,595.05 1215,594.36 1218,593.63 1221,592.84 1224,592.15 1227,591.47 1230,591.02 1233,590.46 1236,590.1 1239,589.6 1242,589.38 1245,589.14 1248,588.4 1251,587.93 1254,586.76 1257,585.97 1260,585.31 1265.7,584.18 1272.1,581.99 1275.7,581.42 1281.7,580.53 1287.9,579.72 1297.6,577.75 1314.6,576.08" fill="none" stroke="#CCCCCC" stroke-width="2" stroke-linejoin="round" stroke-linecap="round"/><polyline points="849.1,688.77 907.9,681.69 928.1,670.99 945.8,666.02 958.2,661.7 967.3,657.56 974.3,654.32 980.1,652.04 983.5,650.53 988.3,647.67 992.5,646.21 995.7,646.21 998.7,645.5 1002,644.16 1005,643.61 1008,643.29 1011,642.62 1014,641.76 1017,641.41 1020,641.41 1023,641.01 1026,640.27 1029,639.49 1032,639.49 1035,639.19 1038,638.93 1041,638.86 1044,638.77 1047,638.05 1050,637.84 1053,637.59 1056,636.5 1059,635.54 1062,633.87 1065,631.66 1068,630.68 1071,629.91 1074,628.91 1077,628.16 1080,627.29 1083,626.53 1086,625.71 1089,624.91 1092,624.16 1095,623.4 1098,622.64 1101,621.53 1104,621.01 1107,619.85 1110,618.7 1113,617.37 1116,616.6 1119,615.34 1122,614.57 1125,614.33 1128,614.33 1131,614.33 1134,614.33 1137,613.64 1140,613.64 1143,613.64 1146,613.64 1149,613.64 1152,613.64 1155,613.63 1158,613.63 1161,613.63 1164,612.42 1167,611.1 1170,609.51 1173,606.04 1176,605.21 1179,604.5 1182,603.76 1185,603 1188,601.97 1191,601.19 1194,600.33 1197,599.46 1200,598.76 1203,597.82 1206,597.14 1209,596.57 1212,595.74 1215,595.1 1218,594.4 1221,593.75 1224,592.8 1227,592.33 1230,592.02 1233,591.81 1236,591.49 1239,591.38 1242,591.13 1245,590.92 1248,590.43 1251,589.53 1254,588.63 1257,587.72 1260,586.82 1265.7,585.56 1272.1,584.3 1275.7,583.6 1281.7,582.38 1287.9,581.13 1297.6,580.08 1314.6,578.69" fill="none" stroke="#CCCCCC" stroke-width="2" stroke-linejoin="round" stroke-linecap="round"/><polyline points="849.1,702.46 907.9,690.61 928.1,676.42 945.8,669.58 958.2,664.25 967.3,662.22 974.3,659.77 980.1,657.19 983.5,654.83 988.3,650.65 992.5,648.72 995.7,648.16 998.7,647.89 1002,647.29 1005,647.29 1008,646.57 1011,646.04 1014,645.31 1017,644.37 1020,644.37 1023,643.25 1026,643.23 1029,642.28 1032,641.83 1035,641.83 1038,640.94 1041,640.05 1044,640.03 1047,639.66 1050,639.01 1053,638.5 1056,636.93 1059,635.69 1062,634.5 1065,632.09 1068,631.2 1071,630.49 1074,629.88 1077,628.96 1080,628.31 1083,627.51 1086,626.68 1089,625.87 1092,625.03 1095,624.03 1098,622.99 1101,622.15 1104,621.48 1107,620.8 1110,619.73 1113,618.74 1116,618.01 1119,617.44 1122,616.6 1125,615.96 1128,615.96 1131,615.74 1134,615.16 1137,614.19 1140,614.16 1143,614.14 1146,614.14 1149,614.14 1152,614.14 1155,614.14 1158,614.14 1161,613.6 1164,613.04 1167,611.42 1170,609.72 1173,606.01 1176,605.1 1179,604.2 1182,603.07 1185,602.3 1188,601.46 1191,600.52 1194,599.68 1197,599.17 1200,598.41 1203,597.56 1206,596.96 1209,596.07 1212,595.26 1215,594.39 1218,593.56 1221,592.92 1224,592.26 1227,591.56 1230,591.15 1233,590.78 1236,590.32 1239,589.92 1242,589.38 1245,588.82 1248,588.27 1251,587.14 1254,586.34 1257,585.41 1260,584.3 1265.7,582.54 1272.1,580.6 1275.7,579.54 1281.7,578.16 1287.9,576.63 1297.6,575.08 1314.6,574.23" fill="none" stroke="#CCCCCC" stroke-width="2" stroke-linejoin="round" stroke-linecap="round"/><polyline points="849.1,675.89 907.9,670.97 928.1,664.29 945.8,660.02 958.2,656.14 967.3,653.92 974.3,651.7 980.1,650.5 983.5,648.92 988.3,646.33 992.5,645.8 995.7,645.68 998.7,645.68 1002,645.68 1005,645.6 1008,645.6 1011,645.22 1014,644.87 1017,644.18 1020,644.18 1023,644.14 1026,643.68 1029,643.63 1032,642.99 1035,642.51 1038,641.79 1041,641.32 1044,640.76 1047,640.51 1050,640 1053,639.31 1056,637.87 1059,636.5 1062,634.73 1065,632.49 1068,631.68 1071,630.77 1074,629.66 1077,628.91 1080,628.02 1083,627.33 1086,626.6 1089,625.76 1092,624.88 1095,624.06 1098,623.74 1101,623.02 1104,622.31 1107,621.7 1110,621 1113,620.51 1116,619.37 1119,618.28 1122,618.28 1125,618.17 1128,617.63 1131,617.26 1134,617.18 1137,616.33 1140,616.25 1143,616.25 1146,616.25 1149,616.12 1152,615.56 1155,614.9 1158,613.72 1161,613.72 1164,612.29 1167,610.66 1170,609.43 1173,605.82 1176,605.04 1179,604.17 1182,603.4 1185,602.56 1188,601.65 1191,600.94 1194,600.06 1197,599.18 1200,598.35 1203,597.6 1206,596.66 1209,595.95 1212,595.25 1215,594.75 1218,593.88 1221,593.23 1224,592.24 1227,591.59 1230,591.22 1233,590.9 1236,590.51 1239,590.11 1242,589.6 1245,589.12 1248,588.64 1251,587.87 1254,587.12 1257,586.44 1260,585.81 1265.7,583.96 1272.1,582.27 1275.7,581.34 1281.7,579.8 1287.9,578.8 1297.6,577.95 1314.6,576.52" fill="none" stroke="#CCCCCC" stroke-width="2" stroke-linejoin="round" stroke-linecap="round"/><polyline points="849.1,686.88 907.9,678.34 928.1,668.96 945.8,664.26 958.2,660.1 967.3,657.47 974.3,655.04 980.1,653.33 983.5,651.4 988.3,647.65 992.5,646.26 995.7,645.2 998.7,645.1 1002,645.01 1005,644.62 1008,644.11 1011,643.92 1014,643.39 1017,643.21 1020,643.21 1023,643.15 1026,642.95 1029,642.61 1032,642.21 1035,641.82 1038,641.37 1041,641.23 1044,640.31 1047,639.8 1050,639.52 1053,638.76 1056,637.42 1059,635.93 1062,634.45 1065,632.27 1068,631.59 1071,630.74 1074,629.7 1077,628.91 1080,628.3 1083,627.8 1086,626.74 1089,626.06 1092,625.03 1095,624.45 1098,623.86 1101,623.29 1104,622.8 1107,622.13 1110,621.22 1113,620.56 1116,620.19 1119,619.49 1122,618.84 1125,617.84 1128,617.83 1131,617.22 1134,616.52 1137,615.94 1140,615.47 1143,615.47 1146,615.47 1149,615.47 1152,615.47 1155,615.47 1158,615.24 1161,615.04 1164,614.28 1167,613.07 1170,610.89 1173,606.57 1176,605.76 1179,604.84 1182,603.85 1185,603.02 1188,602.06 1191,600.96 1194,600.1 1197,599.37 1200,598.64 1203,597.96 1206,597.2 1209,596.39 1212,595.52 1215,594.52 1218,593.67 1221,593.06 1224,592.41 1227,592.13 1230,591.76 1233,591.1 1236,590.88 1239,590.72 1242,590.14 1245,589.43 1248,588.93 1251,588.19 1254,587.04 1257,586.07 1260,585 1265.7,583.19 1272.1,581.12 1275.7,580.19 1281.7,578.68 1287.9,577.01 1297.6,574.83 1314.6,574.08" fill="none" stroke="#CCCCCC" stroke-width="2" stroke-linejoin="round" stroke-linecap="round"/><polyline points="849.1,697.55 907.9,686 928.1,674.84 945.8,667.37 958.2,662.67 967.3,659.34 974.3,657.3 980.1,654.41 983.5,652.32 988.3,648.58 992.5,647.71 995.7,647 998.7,646.83 1002,646.27 1005,645.98 1008,645.76 1011,645.28 1014,644.84 1017,644.44 1020,643.75 1023,643.19 1026,642.17 1029,641.56 1032,640.84 1035,640.3 1038,640.06 1041,639.7 1044,639.41 1047,639.32 1050,638.1 1053,637.71 1056,636.47 1059,635.2 1062,633.41 1065,631.43 1068,630.73 1071,630 1074,629.09 1077,628.37 1080,627.81 1083,627.35 1086,626.8 1089,626.08 1092,625.36 1095,624.7 1098,624.08 1101,623.33 1104,622.81 1107,621.9 1110,620.92 1113,620.21 1116,619.24 1119,618.42 1122,616.93 1125,616.61 1128,616.19 1131,615.73 1134,615.48 1137,615.13 1140,614.7 1143,614.7 1146,614.7 1149,614.7 1152,614.7 1155,614.7 1158,614.46 1161,613.88 1164,613.12 1167,611.39 1170,609.47 1173,606.07 1176,605.32 1179,604.35 1182,603.63 1185,602.79 1188,602.22 1191,601.51 1194,600.57 1197,599.79 1200,598.94 1203,598.18 1206,597.42 1209,596.74 1212,595.99 1215,595.03 1218,594.15 1221,593.6 1224,593.02 1227,592.43 1230,592.08 1233,591.72 1236,591.39 1239,590.73 1242,590.56 1245,590.07 1248,589.59 1251,588.12 1254,587.27 1257,586.67 1260,585.27 1265.7,584.18 1272.1,582.81 1275.7,581.74 1281.7,579.89 1287.9,578.92 1297.6,577.89 1314.6,576.71" fill="none" stroke="#CCCCCC" stroke-width="2" stroke-linejoin="round" stroke-linecap="round"/><polyline points="849.1,706.85 907.9,695.55 928.1,680.51 945.8,673.09 958.2,666.83 967.3,663.41 974.3,660.19 980.1,658.21 983.5,655.23 988.3,650.46 992.5,648.92 995.7,648.7 998.7,648.7 1002,648.7 1005,648.7 1008,648.7 1011,647.9 1014,647.12 1017,646.51 1020,645.95 1023,645.01 1026,644.21 1029,643.44 1032,643.28 1035,642.92 1038,642.33 1041,641.76 1044,641.4 1047,640.75 1050,640.2 1053,639.16 1056,638 1059,636.89 1062,635.27 1065,632.81 1068,631.93 1071,631.31 1074,630.38 1077,629.33 1080,628.48 1083,627.87 1086,627.3 1089,626.7 1092,626.12 1095,625.49 1098,624.6 1101,623.82 1104,622.83 1107,621.99 1110,620.88 1113,620.09 1116,619.23 1119,617.83 1122,617.31 1125,616.98 1128,616.05 1131,615.69 1134,615.52 1137,615 1140,615 1143,615 1146,615 1149,615 1152,614.73 1155,614.53 1158,614.42 1161,614.17 1164,612.95 1167,611.13 1170,609.39 1173,605.77 1176,604.94 1179,604.11 1182,603.25 1185,602.4 1188,601.57 1191,600.88 1194,600.15 1197,599.34 1200,598.59 1203,597.76 1206,596.95 1209,596.12 1212,595.24 1215,594.25 1218,593.09 1221,592.35 1224,591.77 1227,591.03 1230,590.67 1233,590.18 1236,589.79 1239,589.2 1242,588.71 1245,588.24 1248,587.13 1251,586.27 1254,585.33 1257,583.87 1260,583.11 1265.7,581.31 1272.1,579.35 1275.7,578.32 1281.7,576.69 1287.9,574.75 1297.6,573.27 1314.6,571.67" fill="none" stroke="#CCCCCC" stroke-width="2" stroke-linejoin="round" stroke-linecap="round"/><polyline points="849.1,710.22 907.9,696.76 928.1,681.74 945.8,673.69 958.2,668.49 967.3,665.3 974.3,662.4 980.1,660.51 983.5,658.59 988.3,652.82 992.5,650.24 995.7,649.68 998.7,649.45 1002,649.27 1005,648.83 1008,647.93 1011,647.47 1014,647.14 1017,646.63 1020,645.96 1023,645.63 1026,645.1 1029,644.22 1032,643.75 1035,642.84 1038,642.64 1041,642.28 1044,641.52 1047,641.14 1050,641.05 1053,639.87 1056,638.42 1059,637.45 1062,635.3 1065,632.72 1068,631.54 1071,630.59 1074,629.29 1077,628.22 1080,627.43 1083,626.72 1086,626.01 1089,625.31 1092,624.73 1095,624.14 1098,623.58 1101,622.71 1104,621.98 1107,621.81 1110,621.58 1113,621.08 1116,620.61 1119,620.31 1122,619.53 1125,619.53 1128,619.1 1131,618.59 1134,618.59 1137,617.67 1140,617.6 1143,617.1 1146,616.69 1149,616.26 1152,615.74 1155,615.4 1158,614.75 1161,614.36 1164,612.9 1167,611.18 1170,609.2 1173,605.82 1176,604.78 1179,604.03 1182,603.13 1185,602.25 1188,601.53 1191,600.69 1194,599.65 1197,598.96 1200,597.83 1203,597.01 1206,596.11 1209,595.08 1212,594.24 1215,593.34 1218,592.79 1221,591.95 1224,591.49 1227,591.08 1230,590.55 1233,589.96 1236,589.76 1239,589.3 1242,588.89 1245,588.39 1248,587.53 1251,586.54 1254,585.41 1257,584.15 1260,583.17 1265.7,581.86 1272.1,580.43 1275.7,579.36 1281.7,577.96 1287.9,576.66 1297.6,575.95 1314.6,574.65" fill="none" stroke="#CCCCCC" stroke-width="2" stroke-linejoin="round" stroke-linecap="round"/><polyline points="849.1,708.49 907.9,697.15 928.1,683.46 945.8,674.83 958.2,668.39 967.3,666.03 974.3,663.69 980.1,660.74 983.5,658.69 988.3,653.45 992.5,651.06 995.7,650.12 998.7,649.81 1002,649.1 1005,648.86 1008,648.05 1011,647.41 1014,646.4 1017,645.77 1020,645.11 1023,644.8 1026,644.72 1029,644.15 1032,643.36 1035,643.36 1038,643.1 1041,642.79 1044,642.53 1047,642.53 1050,642.4 1053,642.13 1056,640.76 1059,638.94 1062,636.82 1065,633.88 1068,632.9 1071,631.91 1074,630.97 1077,630.1 1080,629.34 1083,628.38 1086,627.79 1089,627.18 1092,626.31 1095,625.75 1098,625.19 1101,624.58 1104,623.59 1107,622.67 1110,621.83 1113,621.61 1116,620.68 1119,619.91 1122,618.85 1125,618.08 1128,617.76 1131,616.54 1134,615.06 1137,614.87 1140,614.69 1143,614.52 1146,614.52 1149,614.52 1152,613.58 1155,613.17 1158,613.17 1161,612.68 1164,611.66 1167,610.44 1170,608.79 1173,605.31 1176,604.37 1179,603.37 1182,602.62 1185,601.59 1188,600.89 1191,599.9 1194,599.09 1197,598.22 1200,597.31 1203,596.54 1206,595.79 1209,595.09 1212,594.23 1215,593.39 1218,592.58 1221,591.9 1224,591.08 1227,590.62 1230,590.21 1233,589.96 1236,589.6 1239,589.29 1242,588.69 1245,588.15 1248,587.26 1251,586.28 1254,585.33 1257,584.62 1260,583.42 1265.7,582.53 1272.1,580.68 1275.7,580.08 1281.7,579.05 1287.9,576.67 1297.6,575.33 1314.6,574.48" fill="none" stroke="#CCCCCC" stroke-width="2" stroke-linejoin="round" stroke-linecap="round"/><polyline points="849.1,704.72 907.9,691.87 928.1,678.26 945.8,670.97 958.2,664.79 967.3,661.81 974.3,658.95 980.1,656.02 983.5,654.39 988.3,651.48 992.5,649.71 995.7,649.58 998.7,649.27 1002,648.69 1005,648.43 1008,648.43 1011,648.07 1014,647.84 1017,647.26 1020,647.26 1023,646.51 1026,646.19 1029,645.85 1032,645.42 1035,644.54 1038,643.66 1041,643.08 1044,642.65 1047,641.82 1050,641.01 1053,640.68 1056,639.51 1059,637.86 1062,635.86 1065,633.04 1068,632.51 1071,631.61 1074,630.62 1077,629.92 1080,629.57 1083,628.9 1086,628.12 1089,627.4 1092,626.62 1095,625.91 1098,625.06 1101,624.36 1104,623.51 1107,622.93 1110,622.29 1113,621.22 1116,619.97 1119,619.1 1122,618.64 1125,618.24 1128,617.76 1131,616.06 1134,615.44 1137,614.74 1140,614.42 1143,614.02 1146,613.67 1149,613.08 1152,613.08 1155,613.08 1158,613.08 1161,612.85 1164,611.87 1167,610.41 1170,608.74 1173,605.44 1176,604.73 1179,603.99 1182,603.18 1185,602.49 1188,601.66 1191,600.7 1194,599.67 1197,598.85 1200,598.01 1203,597.22 1206,596.52 1209,595.61 1212,594.67 1215,593.96 1218,593.31 1221,592.47 1224,591.77 1227,591.37 1230,591.01 1233,590.59 1236,589.77 1239,589.6 1242,589.32 1245,588.93 1248,588.25 1251,587.05 1254,586.12 1257,585.18 1260,584.52 1265.7,582.61 1272.1,581.26 1275.7,580.29 1281.7,579.31 1287.9,577.52 1297.6,576.45 1314.6,575.51" fill="none" stroke="#CCCCCC" stroke-width="2" stroke-linejoin="round" stroke-linecap="round"/><polyline points="849.1,712 907.9,698.73 928.1,683.46 945.8,674.83 958.2,668.91 967.3,666.25 974.3,663.4 980.1,660.76 983.5,657.74 988.3,652.06 992.5,649.86 995.7,649.86 998.7,649.45 1002,649.1 1005,648.83 1008,648.13 1011,647.96 1014,647.49 1017,647.12 1020,646.05 1023,644.96 1026,643.53 1029,642.95 1032,642.37 1035,642.11 1038,642.1 1041,641.52 1044,640.98 1047,640.67 1050,640.67 1053,639.89 1056,638.67 1059,637.17 1062,635.34 1065,632.92 1068,631.83 1071,630.71 1074,629.87 1077,629.03 1080,628.28 1083,627.53 1086,626.87 1089,626.06 1092,625.45 1095,624.83 1098,624.44 1101,624.03 1104,623.55 1107,622.86 1110,622.23 1113,621.4 1116,621.4 1119,621.01 1122,620.64 1125,620.64 1128,619.63 1131,618.83 1134,618.2 1137,617.36 1140,616.7 1143,616.61 1146,616.61 1149,616.61 1152,616.37 1155,615.98 1158,615 1161,614.87 1164,613.82 1167,611.8 1170,610.11 1173,606.25 1176,605.31 1179,604.31 1182,603.37 1185,602.4 1188,601.6 1191,600.79 1194,599.97 1197,599.2 1200,598.35 1203,597.77 1206,596.74 1209,596.08 1212,595.33 1215,594.54 1218,593.67 1221,592.88 1224,591.94 1227,591.12 1230,590.67 1233,589.94 1236,589.65 1239,589.43 1242,588.26 1245,587.44 1248,586.89 1251,586.03 1254,585.15 1257,584.34 1260,583.6 1265.7,582.11 1272.1,580.78 1275.7,579.77 1281.7,578.66 1287.9,576.6 1297.6,575.3 1314.6,573.4" fill="none" stroke="#CCCCCC" stroke-width="2" stroke-linejoin="round" stroke-linecap="round"/><polyline points="849.1,707.26 907.9,695.52 928.1,680.17 945.8,672.23 958.2,666.92 967.3,664.1 974.3,662.38 980.1,660 983.5,656.36 988.3,652.19 992.5,650.07 995.7,649.58 998.7,649.58 1002,649.3 1005,648.53 1008,647.7 1011,647.2 1014,646.98 1017,646.96 1020,646.39 1023,645.72 1026,645.72 1029,645.08 1032,645.05 1035,644.61 1038,644.17 1041,643.59 1044,643.22 1047,642.63 1050,641.95 1053,641.41 1056,639.69 1059,638.27 1062,636.4 1065,633.53 1068,632.52 1071,631.51 1074,630.81 1077,629.94 1080,629.15 1083,628.39 1086,627.78 1089,627.04 1092,626.3 1095,625.59 1098,624.99 1101,624.43 1104,623.89 1107,622.92 1110,622 1113,620.54 1116,620.04 1119,619.74 1122,619.57 1125,619.08 1128,619.05 1131,618.56 1134,618.04 1137,617.01 1140,616.53 1143,616.41 1146,616.41 1149,616.41 1152,616.21 1155,615.94 1158,615.63 1161,614.99 1164,613.3 1167,611.44 1170,609.41 1173,605.81 1176,604.93 1179,604.06 1182,603.19 1185,602.4 1188,601.44 1191,600.69 1194,599.67 1197,598.94 1200,598.15 1203,597.23 1206,596.21 1209,595.44 1212,594.51 1215,593.79 1218,593.08 1221,592.31 1224,591.55 1227,591.09 1230,590.72 1233,590.13 1236,589.72 1239,589.39 1242,589 1245,588.61 1248,588 1251,587.06 1254,585.94 1257,584.7 1260,584.05 1265.7,582.23 1272.1,580.43 1275.7,578.87 1281.7,577.46 1287.9,575.64 1297.6,575.51 1314.6,573.69" fill="none" stroke="#CCCCCC" stroke-width="2" stroke-linejoin="round" stroke-linecap="round"/><polyline points="849.1,710.85 907.9,698.73 928.1,682.01 945.8,673.86 958.2,668.82 967.3,665.33 974.3,663.41 980.1,660.14 983.5,657.28 988.3,652.25 992.5,650.14 995.7,649.39 998.7,649.39 1002,649.31 1005,648.73 1008,648.62 1011,648.07 1014,647.99 1017,647.39 1020,646.99 1023,646.51 1026,646.05 1029,645.46 1032,644.91 1035,644.91 1038,644.21 1041,643.52 1044,642.95 1047,642.68 1050,642.35 1053,642.15 1056,640.17 1059,638.7 1062,636.71 1065,633.76 1068,632.8 1071,631.49 1074,630.56 1077,629.72 1080,628.8 1083,628.07 1086,627.59 1089,626.81 1092,626.18 1095,625.48 1098,624.69 1101,623.87 1104,623.14 1107,622.73 1110,622.27 1113,621.41 1116,621.06 1119,620.41 1122,619.53 1125,619.15 1128,618.33 1131,617.28 1134,617.28 1137,616.19 1140,616.18 1143,615.72 1146,615.53 1149,615.08 1152,614.55 1155,613.42 1158,613.02 1161,612.72 1164,611.53 1167,610.06 1170,608.74 1173,605.35 1176,604.53 1179,603.55 1182,602.77 1185,602.02 1188,601.46 1191,600.71 1194,599.91 1197,599.3 1200,598.39 1203,597.7 1206,596.84 1209,595.95 1212,595.29 1215,594.52 1218,593.92 1221,592.95 1224,592.24 1227,591.56 1230,591.12 1233,590.38 1236,590.13 1239,589.76 1242,589.14 1245,588.42 1248,587.64 1251,587.05 1254,586.13 1257,585.14 1260,584.35 1265.7,582.74 1272.1,581.04 1275.7,580.3 1281.7,579.02 1287.9,577.91 1297.6,576.27 1314.6,574.88" fill="none" stroke="#CCCCCC" stroke-width="2" stroke-linejoin="round" stroke-linecap="round"/><polyline points="849.1,692.37 907.9,683 928.1,671.94 945.8,665.8 958.2,661.7 967.3,658.07 974.3,654.71 980.1,652.95 983.5,651.75 988.3,648.13 992.5,646.71 995.7,646.18 998.7,645.87 1002,645.83 1005,645.68 1008,645.29 1011,644.67 1014,643.62 1017,643.22 1020,642.86 1023,642.7 1026,642.7 1029,642.47 1032,642.28 1035,641.45 1038,641.35 1041,641.14 1044,641.12 1047,640.89 1050,640.56 1053,640.53 1056,638.88 1059,637.62 1062,636.07 1065,633.2 1068,632.04 1071,631.16 1074,630.23 1077,629.48 1080,628.88 1083,628.05 1086,627.38 1089,626.84 1092,626.07 1095,625.36 1098,624.52 1101,624.03 1104,623.77 1107,622.86 1110,622.41 1113,622.04 1116,621.28 1119,620.56 1122,619.59 1125,618.76 1128,618.37 1131,618.16 1134,617.75 1137,617.6 1140,617.49 1143,617.21 1146,617.21 1149,617.21 1152,616.94 1155,616.94 1158,616.89 1161,616.52 1164,615.2 1167,613.13 1170,610.9 1173,606.86 1176,605.94 1179,604.94 1182,604.24 1185,603.41 1188,602.38 1191,601.42 1194,600.63 1197,600.03 1200,599.09 1203,598.37 1206,597.57 1209,596.59 1212,595.8 1215,594.81 1218,593.96 1221,593.45 1224,592.78 1227,592.33 1230,592.09 1233,591.83 1236,591.69 1239,591.15 1242,590.75 1245,590.61 1248,589.95 1251,588.96 1254,588.34 1257,587.72 1260,586.76 1265.7,585.29 1272.1,584.17 1275.7,583.56 1281.7,582.12 1287.9,581.08 1297.6,580.08 1314.6,578.69" fill="none" stroke="#CCCCCC" stroke-width="2" stroke-linejoin="round" stroke-linecap="round"/><polyline points="849.1,701.78 907.9,691.5 928.1,679.21 945.8,673.33 958.2,668.49 967.3,665.31 974.3,663.22 980.1,660.31 983.5,657.68 988.3,652.8 992.5,650.87 995.7,650.55 998.7,650.12 1002,650.06 1005,649.26 1008,649.16 1011,648.67 1014,648.26 1017,647.01 1020,647.01 1023,646.01 1026,645.24 1029,644.95 1032,644.27 1035,643.66 1038,642.47 1041,641.86 1044,641.5 1047,641.28 1050,640.74 1053,640.32 1056,639.03 1059,637.41 1062,635.47 1065,633.24 1068,632.14 1071,631.39 1074,630.44 1077,629.82 1080,629.04 1083,628.42 1086,627.76 1089,627.02 1092,626.37 1095,625.59 1098,624.96 1101,624.26 1104,623.79 1107,623.18 1110,622.23 1113,621.48 1116,620.81 1119,619.9 1122,619.76 1125,619.4 1128,619.27 1131,618.53 1134,617.94 1137,617.85 1140,617.17 1143,617.17 1146,617.17 1149,616.77 1152,616.42 1155,615.67 1158,615.37 1161,614.63 1164,613.14 1167,611.86 1170,609.97 1173,605.92 1176,605.19 1179,604.24 1182,602.96 1185,602.13 1188,601.4 1191,600.6 1194,599.94 1197,599.19 1200,598.45 1203,597.54 1206,596.75 1209,596.14 1212,595.42 1215,594.67 1218,593.59 1221,592.79 1224,591.85 1227,591.38 1230,590.86 1233,590.51 1236,589.92 1239,589.88 1242,589.25 1245,588.88 1248,588.88 1251,588.09 1254,587 1257,586.25 1260,585.58 1265.7,584.38 1272.1,582.33 1275.7,581.54 1281.7,579.49 1287.9,578.8 1297.6,577.71 1314.6,576.15" fill="none" stroke="#CCCCCC" stroke-width="2" stroke-linejoin="round" stroke-linecap="round"/><polyline points="849.1,697.87 907.9,686.2 928.1,675.97 945.8,668.98 958.2,663.14 967.3,660.75 974.3,659.18 980.1,657.33 983.5,655.52 988.3,650.77 992.5,649.3 995.7,649.3 998.7,649.3 1002,649.3 1005,649.21 1008,649.18 1011,649 1014,648.02 1017,647 1020,646.28 1023,645.82 1026,645.47 1029,644.91 1032,644.41 1035,643.89 1038,643.43 1041,643.14 1044,642.86 1047,642.42 1050,642.06 1053,641.45 1056,640.18 1059,638.51 1062,637 1065,634.04 1068,633.1 1071,631.99 1074,630.95 1077,630.12 1080,629.44 1083,628.65 1086,627.76 1089,627.07 1092,626.39 1095,625.85 1098,625.47 1101,624.81 1104,623.82 1107,623.2 1110,622.13 1113,621.11 1116,620.77 1119,620.36 1122,619.53 1125,618.77 1128,618.3 1131,617.21 1134,616.97 1137,616.42 1140,616.42 1143,616.42 1146,616.42 1149,616.26 1152,616.26 1155,615.54 1158,615.42 1161,614.93 1164,613.53 1167,611.82 1170,610.2 1173,606.41 1176,605.75 1179,604.98 1182,603.78 1185,602.87 1188,601.78 1191,600.89 1194,600.1 1197,599.22 1200,598.3 1203,597.51 1206,596.67 1209,596.07 1212,595.32 1215,594.61 1218,594.09 1221,593.27 1224,592.54 1227,591.81 1230,591.48 1233,591.31 1236,591.22 1239,590.87 1242,590.39 1245,589.88 1248,589.05 1251,588.19 1254,587.61 1257,586.17 1260,584.78 1265.7,583.62 1272.1,581.53 1275.7,580.72 1281.7,578.93 1287.9,577.81 1297.6,576.96 1314.6,575.65" fill="none" stroke="#CCCCCC" stroke-width="2" stroke-linejoin="round" stroke-linecap="round"/><polyline points="849.1,688.65 907.9,680.79 928.1,672.37 945.8,667.03 958.2,661.99 967.3,658.28 974.3,655.56 980.1,653.31 983.5,651.69 988.3,647.99 992.5,646.78 995.7,646.54 998.7,646.43 1002,646.08 1005,645.9 1008,645.1 1011,645.1 1014,644.72 1017,644.39 1020,644.12 1023,643.99 1026,643.75 1029,643.35 1032,642.82 1035,641.83 1038,641.44 1041,640.88 1044,640.36 1047,640.36 1050,639.67 1053,639.19 1056,638.23 1059,637.13 1062,635.71 1065,632.85 1068,631.75 1071,630.92 1074,629.95 1077,629.38 1080,628.73 1083,628.06 1086,627.42 1089,626.67 1092,625.98 1095,625.21 1098,624.58 1101,623.86 1104,623.28 1107,622.29 1110,621.19 1113,620.57 1116,619.92 1119,618.92 1122,618.16 1125,617.2 1128,617.2 1131,616.59 1134,616.59 1137,616.11 1140,616.11 1143,616.11 1146,615.86 1149,615.86 1152,615.8 1155,615.35 1158,614.68 1161,614.68 1164,614.31 1167,612.58 1170,610.71 1173,606.7 1176,605.84 1179,605.12 1182,604.12 1185,603.25 1188,602.29 1191,601.55 1194,600.79 1197,600.03 1200,599.28 1203,598.54 1206,597.79 1209,597.05 1212,596.3 1215,595.56 1218,594.81 1221,594.07 1224,593.32 1227,592.77 1230,592.46 1233,592.15 1236,591.84 1239,591.53 1242,591.22 1245,590.92 1248,590.43 1251,589.53 1254,588.63 1257,587.72 1260,586.82 1265.7,585.56 1272.1,584.3 1275.7,583.6 1281.7,582.38 1287.9,581.13 1297.6,580.08 1314.6,578.69" fill="none" stroke="#CCCCCC" stroke-width="2" stroke-linejoin="round" stroke-linecap="round"/><polyline points="849.1,695.94 907.9,684.3 928.1,671.98 945.8,666.76 958.2,662.82 967.3,658.77 974.3,655.25 980.1,653.24 983.5,652.13 988.3,648.92 992.5,647.46 995.7,647.43 998.7,647.3 1002,646.79 1005,646.79 1008,646.67 1011,645.81 1014,645.17 1017,644.19 1020,643.73 1023,643.62 1026,642.73 1029,642.63 1032,642.63 1035,642.52 1038,641.7 1041,640.97 1044,640.45 1047,639.64 1050,638.78 1053,638.21 1056,636.91 1059,635.83 1062,633.99 1065,632.12 1068,631.41 1071,630.65 1074,629.63 1077,629.08 1080,628.34 1083,627.93 1086,627.39 1089,626.53 1092,625.74 1095,625.42 1098,624.99 1101,624.35 1104,623.78 1107,623.24 1110,622.47 1113,621.82 1116,621.02 1119,620.29 1122,619.89 1125,619.03 1128,618.88 1131,618.5 1134,618.35 1137,618.23 1140,618.23 1143,618.23 1146,618.23 1149,618.23 1152,617.82 1155,617.4 1158,616.98 1161,616.55 1164,615.2 1167,613.3 1170,611.4 1173,607.07 1176,606.17 1179,605.28 1182,604.38 1185,603.48 1188,602.58 1191,601.69 1194,600.79 1197,600.03 1200,599.23 1203,598.54 1206,597.79 1209,596.99 1212,596.07 1215,595.38 1218,594.81 1221,594.07 1224,593.32 1227,592.77 1230,592.46 1233,592.15 1236,591.84 1239,591.53 1242,591.22 1245,590.92 1248,590.43 1251,589.53 1254,588.63 1257,587.72 1260,586.82 1265.7,585.56 1272.1,584.3 1275.7,583.6 1281.7,582.38 1287.9,581.13 1297.6,580.08 1314.6,578.69" fill="none" stroke="#CCCCCC" stroke-width="2" stroke-linejoin="round" stroke-linecap="round"/><polyline points="849.1,707.97 907.9,696.18 928.1,680.05 945.8,672.5 958.2,666.76 967.3,663.11 974.3,660.11 980.1,658.49 983.5,655.56 988.3,650.91 992.5,649.52 995.7,649.46 998.7,648.67 1002,648.31 1005,647.83 1008,647.4 1011,647.16 1014,646.49 1017,645.91 1020,645.91 1023,644.83 1026,644.24 1029,643.92 1032,643.04 1035,642.38 1038,641.5 1041,641.09 1044,640.48 1047,640.33 1050,640.21 1053,639.75 1056,638.27 1059,636.98 1062,635.3 1065,632.55 1068,631.82 1071,630.93 1074,630.12 1077,629.08 1080,628.54 1083,628.17 1086,627.56 1089,626.62 1092,625.92 1095,625.25 1098,624.67 1101,624 1104,623.48 1107,622.74 1110,622.16 1113,621.32 1116,620.71 1119,620.47 1122,619.72 1125,619.47 1128,618.7 1131,618.13 1134,617.62 1137,617.62 1140,617.21 1143,617.21 1146,617.14 1149,616.72 1152,616.69 1155,616.56 1158,615.84 1161,615.08 1164,614.17 1167,612.09 1170,610.48 1173,606.45 1176,605.58 1179,605.02 1182,604.34 1185,603.48 1188,602.51 1191,601.66 1194,600.78 1197,600.01 1200,599.28 1203,598.5 1206,597.79 1209,597.05 1212,596.25 1215,595.56 1218,594.81 1221,594.07 1224,593.32 1227,592.51 1230,591.95 1233,591.45 1236,591.26 1239,591.13 1242,590.94 1245,590.69 1248,589.7 1251,588.87 1254,587.87 1257,587.26 1260,586.69 1265.7,585.56 1272.1,584.3 1275.7,583.6 1281.7,582.38 1287.9,581.13 1297.6,580.08 1314.6,578.69" fill="none" stroke="#CCCCCC" stroke-width="2" stroke-linejoin="round" stroke-linecap="round"/><polyline points="849.1,703.8 907.9,691.34 928.1,677.97 945.8,670.95 958.2,665.52 967.3,662.67 974.3,659.69 980.1,657.9 983.5,655.47 988.3,651.43 992.5,650.29 995.7,649.23 998.7,648.66 1002,648.27 1005,648.27 1008,647.8 1011,647.44 1014,646.71 1017,646.42 1020,645.53 1023,645.33 1026,643.85 1029,642.74 1032,642.74 1035,642.48 1038,641.72 1041,641.72 1044,641.72 1047,641.72 1050,641.26 1053,640.99 1056,639.68 1059,637.74 1062,636.09 1065,633.33 1068,632.6 1071,631.86 1074,630.78 1077,629.84 1080,629.18 1083,628.59 1086,627.83 1089,627.11 1092,626.52 1095,625.97 1098,625.57 1101,624.97 1104,624.27 1107,623.34 1110,623 1113,622.37 1116,621.72 1119,621.08 1122,619.95 1125,619.29 1128,617.84 1131,617.27 1134,616.51 1137,616.51 1140,616.51 1143,616.51 1146,616.51 1149,616.51 1152,616.02 1155,615.57 1158,615.08 1161,615.08 1164,614.39 1167,612.09 1170,610.53 1173,606.92 1176,605.9 1179,605.28 1182,604.38 1185,603.48 1188,602.58 1191,601.69 1194,600.79 1197,600.01 1200,599.03 1203,598.41 1206,597.52 1209,596.81 1212,596.11 1215,595.27 1218,594.53 1221,593.78 1224,592.96 1227,592.41 1230,592.1 1233,591.59 1236,591 1239,590.48 1242,590.15 1245,590.12 1248,589.97 1251,589.16 1254,588.5 1257,587.64 1260,586.82 1265.7,585.56 1272.1,584.3 1275.7,583.6 1281.7,582.38 1287.9,581.13 1297.6,580.08 1314.6,578.69" fill="none" stroke="#CCCCCC" stroke-width="2" stroke-linejoin="round" stroke-linecap="round"/><polyline points="849.1,712 907.9,698.73 928.1,683.46 945.8,674.83 958.2,669.23 967.3,666.48 974.3,664.23 980.1,661.16 983.5,658.69 988.3,653.45 992.5,651.35 995.7,651.03 998.7,650.74 1002,650.41 1005,650.11 1008,649.75 1011,649.24 1014,648.74 1017,648.23 1020,647.73 1023,647.22 1026,646.71 1029,646.2 1032,645.69 1035,645.19 1038,644.68 1041,644.17 1044,643.07 1047,642.31 1050,642.31 1053,642.28 1056,640.6 1059,638.77 1062,637.07 1065,634.08 1068,633.13 1071,632.17 1074,631.08 1077,630.3 1080,629.32 1083,628.86 1086,627.9 1089,627.1 1092,626.28 1095,625.77 1098,625.3 1101,624.76 1104,624.27 1107,623.84 1110,623.33 1113,622.26 1116,620.92 1119,619.48 1122,618.81 1125,618.17 1128,617.69 1131,617.35 1134,616.83 1137,616.02 1140,615.29 1143,614.65 1146,614.65 1149,614.65 1152,614.11 1155,613.67 1158,613.49 1161,613.49 1164,612.54 1167,611.03 1170,609.67 1173,605.77 1176,604.81 1179,603.97 1182,603.04 1185,602.46 1188,601.72 1191,600.89 1194,599.94 1197,599.29 1200,598.56 1203,597.71 1206,596.86 1209,595.86 1212,595.04 1215,594.37 1218,593.73 1221,593.07 1224,592.46 1227,591.79 1230,591.33 1233,591.18 1236,590.9 1239,590.38 1242,590.12 1245,589.96 1248,589.62 1251,588.75 1254,587.73 1257,586.93 1260,586.44 1265.7,585.18 1272.1,583.64 1275.7,583.01 1281.7,581.31 1287.9,580.1 1297.6,578.9 1314.6,577.91" fill="none" stroke="#CCCCCC" stroke-width="2" stroke-linejoin="round" stroke-linecap="round"/><polyline points="849.1,708.57 907.9,698.7 928.1,683.28 945.8,674.19 958.2,668.92 967.3,666.12 974.3,663.96 980.1,660.59 983.5,658.47 988.3,653.32 992.5,650.53 995.7,650.15 998.7,649.98 1002,649.98 1005,649.54 1008,648.9 1011,648.8 1014,648.09 1017,647.62 1020,647.29 1023,647.04 1026,646.55 1029,645.67 1032,645.51 1035,644.86 1038,644.19 1041,644.17 1044,643.72 1047,643.27 1050,642.82 1053,642.26 1056,640.45 1059,638.35 1062,636.66 1065,633.93 1068,632.99 1071,631.93 1074,630.98 1077,630.22 1080,629.36 1083,628.61 1086,627.81 1089,627.22 1092,626.57 1095,625.69 1098,624.95 1101,624.68 1104,623.86 1107,623.31 1110,622.56 1113,622.34 1116,621.76 1119,621.06 1122,620.05 1125,619.43 1128,619.3 1131,619.1 1134,618.12 1137,618.12 1140,617.97 1143,617.72 1146,617.6 1149,616.97 1152,616.37 1155,615.75 1158,615.33 1161,614.8 1164,613.13 1167,611.62 1170,609.79 1173,606.27 1176,605.47 1179,604.69 1182,603.84 1185,603.13 1188,602.21 1191,601.22 1194,600.38 1197,599.35 1200,598.52 1203,597.74 1206,596.9 1209,596.27 1212,595.58 1215,594.82 1218,593.98 1221,593.4 1224,592.54 1227,591.9 1230,591.66 1233,591.41 1236,591.41 1239,591.08 1242,590.34 1245,590.14 1248,589.93 1251,588.99 1254,588.46 1257,587.72 1260,586.82 1265.7,585.55 1272.1,583.89 1275.7,583.35 1281.7,582.38 1287.9,581.13 1297.6,579.83 1314.6,578.13" fill="none" stroke="#CCCCCC" stroke-width="2" stroke-linejoin="round" stroke-linecap="round"/><polyline points="849.1,712 907.9,698.65 928.1,682.12 945.8,673.7 958.2,668.46 967.3,666.03 974.3,663.75 980.1,660.36 983.5,657.97 988.3,653.12 992.5,650.96 995.7,650.67 998.7,650.28 1002,649.77 1005,649.47 1008,648.73 1011,648.57 1014,647.53 1017,647.19 1020,646.22 1023,646.22 1026,646.02 1029,645.23 1032,644.58 1035,643.7 1038,643.19 1041,642.83 1044,642.83 1047,642.33 1050,642.28 1053,641.6 1056,640.16 1059,638.86 1062,637.04 1065,634.15 1068,633.11 1071,632.11 1074,631.14 1077,630.3 1080,629.53 1083,628.75 1086,627.84 1089,626.97 1092,626.12 1095,625.66 1098,625.44 1101,624.97 1104,624.25 1107,623.74 1110,622.91 1113,622.48 1116,622.32 1119,621.81 1122,621.3 1125,620.81 1128,620.12 1131,618.87 1134,618.36 1137,618.11 1140,618.11 1143,618.11 1146,618.11 1149,617.95 1152,617.82 1155,617.4 1158,616.66 1161,616.55 1164,615.2 1167,613.3 1170,611.33 1173,607.03 1176,605.89 1179,604.74 1182,603.84 1185,602.91 1188,602.11 1191,601.39 1194,600.5 1197,599.93 1200,599.12 1203,598.45 1206,597.54 1209,596.8 1212,595.99 1215,595.2 1218,594.53 1221,593.49 1224,592.76 1227,592.05 1230,591.72 1233,591.43 1236,591 1239,590.57 1242,589.95 1245,589.7 1248,589.01 1251,588.22 1254,586.97 1257,586.4 1260,585.25 1265.7,584.09 1272.1,582.42 1275.7,581.74 1281.7,580.38 1287.9,579.28 1297.6,578.16 1314.6,577.28" fill="none" stroke="#CCCCCC" stroke-width="2" stroke-linejoin="round" stroke-linecap="round"/><polyline points="849.1,710.49 907.9,698.73 928.1,683.39 945.8,674.83 958.2,669.23 967.3,666.37 974.3,664.23 980.1,661.16 983.5,658.69 988.3,653.45 992.5,651.35 995.7,651.03 998.7,650.63 1002,650.41 1005,649.83 1008,649.75 1011,649.24 1014,648.74 1017,648.23 1020,647.73 1023,647.22 1026,646.71 1029,646.2 1032,645.69 1035,645.19 1038,644.4 1041,644.17 1044,643.72 1047,643.14 1050,642.68 1053,641.78 1056,640.1 1059,638.53 1062,636.49 1065,633.61 1068,632.85 1071,631.94 1074,630.73 1077,629.8 1080,629.22 1083,628.42 1086,627.72 1089,627 1092,626.38 1095,625.7 1098,625.05 1101,624.25 1104,623.69 1107,622.86 1110,622.67 1113,622.08 1116,621.41 1119,621.12 1122,620.53 1125,620.06 1128,619.56 1131,618.81 1134,617.99 1137,617.27 1140,617.27 1143,617.27 1146,617.07 1149,616.51 1152,616.37 1155,616.37 1158,615.95 1161,615.75 1164,614.52 1167,612.63 1170,610.92 1173,606.6 1176,605.83 1179,604.98 1182,603.97 1185,603.28 1188,602.49 1191,601.69 1194,600.67 1197,599.89 1200,599.08 1203,598.39 1206,597.79 1209,596.81 1212,596.05 1215,595.27 1218,594.67 1221,593.92 1224,592.97 1227,592.38 1230,591.86 1233,591.37 1236,591.02 1239,590.56 1242,590.26 1245,589.55 1248,589.55 1251,588.97 1254,588.24 1257,587.03 1260,585.61 1265.7,583.95 1272.1,582.33 1275.7,582.23 1281.7,581.42 1287.9,579.91 1297.6,579.3 1314.6,578.4" fill="none" stroke="#CCCCCC" stroke-width="2" stroke-linejoin="round" stroke-linecap="round"/><polyline points="849.1,710.26 907.9,697.72 928.1,682.22 945.8,673.17 958.2,667.68 967.3,665.41 974.3,662.28 980.1,658.53 983.5,656.6 988.3,650.87 992.5,649.67 995.7,649.23 998.7,649.19 1002,649.19 1005,648.64 1008,647.91 1011,647.91 1014,647.54 1017,646.99 1020,646.56 1023,646.42 1026,646.36 1029,645.88 1032,645.27 1035,644.75 1038,644.34 1041,644.17 1044,643.72 1047,643.27 1050,642.83 1053,642.35 1056,640.76 1059,639.17 1062,637.18 1065,634.17 1068,633.17 1071,632.17 1074,631.17 1077,630.3 1080,629.6 1083,628.9 1086,628.2 1089,627.51 1092,626.81 1095,626.18 1098,625.44 1101,624.72 1104,624.36 1107,623.84 1110,623.33 1113,622.82 1116,622.32 1119,621.22 1122,620.66 1125,620.04 1128,620.04 1131,619.03 1134,618.72 1137,618.72 1140,617.83 1143,617.83 1146,617.44 1149,617.23 1152,617.23 1155,616.95 1158,616.64 1161,615.99 1164,614.79 1167,613.24 1170,611.3 1173,606.99 1176,606.15 1179,605.28 1182,604.25 1185,603.37 1188,602.4 1191,601.57 1194,600.78 1197,600.03 1200,599.28 1203,598.54 1206,597.79 1209,596.94 1212,596.19 1215,595.46 1218,594.68 1221,593.74 1224,592.98 1227,592.35 1230,592.11 1233,591.73 1236,591.62 1239,591.35 1242,590.63 1245,590.25 1248,589.4 1251,588.72 1254,588.16 1257,587.26 1260,586.46 1265.7,584.75 1272.1,582.64 1275.7,581.59 1281.7,580.18 1287.9,578.23 1297.6,577.11 1314.6,575.83" fill="none" stroke="#CCCCCC" stroke-width="2" stroke-linejoin="round" stroke-linecap="round"/><polyline points="849.1,691.71 907.9,683.47 928.1,672.48 945.8,666.48 958.2,662.15 967.3,658.26 974.3,656.46 980.1,654.7 983.5,652.76 988.3,648.76 992.5,648.46 995.7,648.45 998.7,648.45 1002,648.45 1005,648.45 1008,648.38 1011,648.11 1014,647.29 1017,647.03 1020,646.01 1023,645.65 1026,645.33 1029,644.3 1032,644.3 1035,643.57 1038,643.42 1041,642.75 1044,642.41 1047,641.76 1050,641.76 1053,641.76 1056,640.76 1059,639.17 1062,637.18 1065,634.17 1068,633.17 1071,632.17 1074,631.17 1077,630.3 1080,629.6 1083,628.9 1086,628.2 1089,627.51 1092,626.81 1095,626.18 1098,625.57 1101,624.9 1104,624.14 1107,623.53 1110,622.91 1113,622.69 1116,621.81 1119,620.54 1122,620.22 1125,619.52 1128,619.02 1131,619.02 1134,619.02 1137,618.86 1140,618.67 1143,618.67 1146,618.66 1149,618.24 1152,617.82 1155,617.4 1158,616.98 1161,616.55 1164,615.2 1167,613.3 1170,611.4 1173,607.07 1176,606.17 1179,605.28 1182,604.38 1185,603.48 1188,602.58 1191,601.69 1194,600.79 1197,600.03 1200,599.28 1203,598.54 1206,597.79 1209,597.05 1212,596.27 1215,595.43 1218,594.81 1221,593.9 1224,593.11 1227,592.26 1230,592.11 1233,591.86 1236,591.6 1239,591.53 1242,591.22 1245,590.92 1248,590.43 1251,589.53 1254,588.63 1257,587.33 1260,586.82 1265.7,585.56 1272.1,584.3 1275.7,583.6 1281.7,582.38 1287.9,581.13 1297.6,580.08 1314.6,578.69" fill="none" stroke="#CCCCCC" stroke-width="2" stroke-linejoin="round" stroke-linecap="round"/><polyline points="849.1,707.92 907.9,696.58 928.1,681.38 945.8,672.98 958.2,667.73 967.3,664.96 974.3,663.35 980.1,660.03 983.5,657.77 988.3,652.88 992.5,650.87 995.7,650.79 998.7,650.43 1002,650.41 1005,649.98 1008,649.15 1011,648.64 1014,648.55 1017,647.88 1020,647.18 1023,646.57 1026,646.13 1029,645.58 1032,645.19 1035,644.13 1038,644.13 1041,643.84 1044,643.12 1047,643.12 1050,642.83 1053,642.35 1056,640.76 1059,639.17 1062,637.18 1065,634.17 1068,633.17 1071,632.17 1074,631.13 1077,630.24 1080,629.24 1083,628.63 1086,627.9 1089,627.15 1092,626.7 1095,626.08 1098,625.35 1101,624.56 1104,623.93 1107,623.61 1110,622.93 1113,622.06 1116,621.8 1119,621.29 1122,620.75 1125,620.75 1128,620.14 1131,619.75 1134,618.6 1137,618.03 1140,618.03 1143,618.03 1146,618.03 1149,617.95 1152,617.82 1155,617.38 1158,616.98 1161,616.55 1164,615.2 1167,613.3 1170,611.4 1173,607.07 1176,606.17 1179,605.28 1182,604.38 1185,603.48 1188,602.58 1191,601.69 1194,600.79 1197,600.03 1200,599.28 1203,598.54 1206,597.79 1209,597.05 1212,596.3 1215,595.44 1218,594.81 1221,594.07 1224,593.32 1227,592.77 1230,592.46 1233,592.04 1236,591.84 1239,591.53 1242,591.22 1245,590.92 1248,590.43 1251,589.26 1254,588.27 1257,587.37 1260,586.47 1265.7,585.32 1272.1,583.48 1275.7,582.19 1281.7,581.21 1287.9,579.74 1297.6,579.14 1314.6,577.88" fill="none" stroke="#CCCCCC" stroke-width="2" stroke-linejoin="round" stroke-linecap="round"/><polyline points="849.1,703.62 907.9,690.92 928.1,678.23 945.8,671.61 958.2,667.55 967.3,664.66 974.3,662.78 980.1,660.05 983.5,658.1 988.3,652.08 992.5,650.03 995.7,649.83 998.7,649.71 1002,649.14 1005,649.1 1008,649.1 1011,648.63 1014,648.06 1017,647.45 1020,647.01 1023,646.91 1026,646.71 1029,646.2 1032,645.47 1035,644.71 1038,644.54 1041,644.12 1044,643.72 1047,643.27 1050,642.83 1053,642.35 1056,640.76 1059,639.02 1062,637.09 1065,634.17 1068,633.12 1071,632.06 1074,631.17 1077,630.3 1080,629.6 1083,628.9 1086,628.12 1089,627.17 1092,626.38 1095,625.59 1098,625.12 1101,624.28 1104,623.58 1107,623.1 1110,622.47 1113,622.02 1116,621.71 1119,620.58 1122,619.84 1125,618.94 1128,618.94 1131,618.53 1134,618.27 1137,618.27 1140,618.14 1143,618.14 1146,618.14 1149,617.83 1152,617.82 1155,617.4 1158,616.98 1161,616.55 1164,615.2 1167,613.3 1170,611.4 1173,607.02 1176,606.17 1179,605.28 1182,604.38 1185,603.48 1188,602.58 1191,601.69 1194,600.79 1197,600.03 1200,599.28 1203,598.54 1206,597.79 1209,597.05 1212,596.3 1215,595.56 1218,594.81 1221,594.07 1224,593.32 1227,592.77 1230,592.46 1233,592.15 1236,591.84 1239,591.53 1242,591.22 1245,590.92 1248,590.43 1251,589.53 1254,588.63 1257,587.72 1260,586.82 1265.7,585.56 1272.1,584.3 1275.7,583.6 1281.7,582.38 1287.9,581.13 1297.6,580.08 1314.6,578.69" fill="none" stroke="#CCCCCC" stroke-width="2" stroke-linejoin="round" stroke-linecap="round"/><polyline points="964.9,667.2 975,664.6 985,661 993,659.3 1000,657.6 1004,652 1012.9,650" fill="none" stroke="#CCCCCC" stroke-width="2"/><polyline points="917.3,689.7 928.6,688.9 943.3,683.7 955.4,678.5 960.6,675 964.1,669" fill="none" stroke="#CCCCCC" stroke-width="2"/><polyline points="919.9,704 928.6,698.4 939,689.7 948.5,682 955.4,670.7" fill="none" stroke="#CCCCCC" stroke-width="2"/><line x1="731.78" y1="712.59" x2="1432.98" y2="539.59" stroke="#DF536B" stroke-width="2.1"/><circle cx="849.1" cy="697.9" r="2.0"/><circle cx="907.9" cy="674.5" r="2.0"/><circle cx="928.1" cy="673.1" r="2.0"/><circle cx="945.8" cy="667.1" r="2.0"/><circle cx="958.2" cy="657.2" r="2.0"/><circle cx="967.3" cy="656.4" r="2.0"/><circle cx="974.3" cy="650.2" r="2.0"/><circle cx="980.1" cy="647.1" r="2.0"/><circle cx="983.5" cy="646.9" r="2.0"/><circle cx="988.3" cy="646.7" r="2.0"/><circle cx="992.3" cy="646.4" r="2.0"/><circle cx="995.7" cy="644.4" r="2.0"/><circle cx="999.1" cy="643.9" r="2.0"/><circle cx="1003.1" cy="643.3" r="2.0"/><circle cx="1006" cy="643" r="2.0"/><circle cx="1008.9" cy="641.9" r="2.0"/><circle cx="1011.1" cy="641.3" r="2.0"/><circle cx="1015.1" cy="641" r="2.0"/><circle cx="1018" cy="640.7" r="2.0"/><circle cx="1020.9" cy="640.1" r="2.0"/><circle cx="1023.7" cy="639.6" r="2.0"/><circle cx="1026.6" cy="639" r="2.0"/><circle cx="1030" cy="638.4" r="2.0"/><circle cx="1032.3" cy="638.1" r="2.0"/><circle cx="1035.1" cy="637.3" r="2.0"/><circle cx="1038" cy="636.1" r="2.0"/><circle cx="1041.4" cy="634.7" r="2.0"/><circle cx="1043.1" cy="634.1" r="2.0"/><circle cx="1272.2" cy="581" r="2.0"/><circle cx="1275.7" cy="581.1" r="2.0"/><circle cx="1281.7" cy="580.7" r="2.0"/><circle cx="1287.9" cy="580.3" r="2.0"/><circle cx="1297.6" cy="573.6" r="2.0"/><circle cx="1314.6" cy="568.9" r="2.0"/><circle cx="1047.7" cy="633.9" r="2.4"/><circle cx="1048.82" cy="633.47" r="2.4"/><circle cx="1049.94" cy="633.04" r="2.4"/><circle cx="1051.06" cy="632.61" r="2.4"/><circle cx="1052.18" cy="632.18" r="2.4"/><circle cx="1053.31" cy="631.79" r="2.4"/><circle cx="1054.48" cy="631.49" r="2.4"/><circle cx="1055.64" cy="631.18" r="2.4"/><circle cx="1056.8" cy="630.87" r="2.4"/><circle cx="1057.96" cy="630.57" r="2.4"/><circle cx="1059.12" cy="630.27" r="2.4"/><circle cx="1060.28" cy="629.99" r="2.4"/><circle cx="1061.45" cy="629.7" r="2.4"/><circle cx="1062.62" cy="629.41" r="2.4"/><circle cx="1063.78" cy="629.13" r="2.4"/><circle cx="1064.94" cy="628.81" r="2.4"/><circle cx="1066.09" cy="628.47" r="2.4"/><circle cx="1067.24" cy="628.12" r="2.4"/><circle cx="1068.39" cy="627.78" r="2.4"/><circle cx="1069.54" cy="627.44" r="2.4"/><circle cx="1070.71" cy="627.18" r="2.4"/><circle cx="1071.89" cy="626.98" r="2.4"/><circle cx="1073.07" cy="626.79" r="2.4"/><circle cx="1074.26" cy="626.59" r="2.4"/><circle cx="1075.44" cy="626.39" r="2.4"/><circle cx="1076.63" cy="626.2" r="2.4"/><circle cx="1077.81" cy="626" r="2.4"/><circle cx="1078.99" cy="625.8" r="2.4"/><circle cx="1080.18" cy="625.6" r="2.4"/><circle cx="1081.36" cy="625.41" r="2.4"/><circle cx="1082.53" cy="625.13" r="2.4"/><circle cx="1083.69" cy="624.84" r="2.4"/><circle cx="1084.86" cy="624.56" r="2.4"/><circle cx="1086.02" cy="624.27" r="2.4"/><circle cx="1087.19" cy="623.99" r="2.4"/><circle cx="1088.36" cy="623.71" r="2.4"/><circle cx="1089.52" cy="623.42" r="2.4"/><circle cx="1090.69" cy="623.14" r="2.4"/><circle cx="1091.85" cy="622.85" r="2.4"/><circle cx="1093.02" cy="622.57" r="2.4"/><circle cx="1094.2" cy="622.33" r="2.4"/><circle cx="1095.37" cy="622.08" r="2.4"/><circle cx="1096.54" cy="621.83" r="2.4"/><circle cx="1097.72" cy="621.59" r="2.4"/><circle cx="1098.89" cy="621.34" r="2.4"/><circle cx="1100.07" cy="621.09" r="2.4"/><circle cx="1101.24" cy="620.84" r="2.4"/><circle cx="1102.42" cy="620.6" r="2.4"/><circle cx="1103.59" cy="620.35" r="2.4"/><circle cx="1104.77" cy="620.13" r="2.4"/><circle cx="1105.96" cy="619.97" r="2.4"/><circle cx="1107.15" cy="619.8" r="2.4"/><circle cx="1108.33" cy="619.63" r="2.4"/><circle cx="1109.52" cy="619.47" r="2.4"/><circle cx="1110.69" cy="619.2" r="2.4"/><circle cx="1111.84" cy="618.86" r="2.4"/><circle cx="1112.99" cy="618.53" r="2.4"/><circle cx="1114.15" cy="618.19" r="2.4"/><circle cx="1115.3" cy="617.86" r="2.4"/><circle cx="1116.45" cy="617.52" r="2.4"/><circle cx="1117.6" cy="617.19" r="2.4"/><circle cx="1118.76" cy="616.86" r="2.4"/><circle cx="1119.92" cy="616.56" r="2.4"/><circle cx="1121.08" cy="616.26" r="2.4"/><circle cx="1122.24" cy="615.96" r="2.4"/><circle cx="1123.4" cy="615.66" r="2.4"/><circle cx="1124.57" cy="615.36" r="2.4"/><circle cx="1125.73" cy="615.06" r="2.4"/><circle cx="1126.89" cy="614.75" r="2.4"/><circle cx="1128.07" cy="614.55" r="2.4"/><circle cx="1129.26" cy="614.37" r="2.4"/><circle cx="1130.44" cy="614.19" r="2.4"/><circle cx="1131.63" cy="614.02" r="2.4"/><circle cx="1132.82" cy="613.84" r="2.4"/><circle cx="1134" cy="613.66" r="2.4"/><circle cx="1135.19" cy="613.48" r="2.4"/><circle cx="1136.35" cy="613.2" r="2.4"/><circle cx="1137.5" cy="612.84" r="2.4"/><circle cx="1138.64" cy="612.48" r="2.4"/><circle cx="1139.79" cy="612.12" r="2.4"/><circle cx="1140.93" cy="611.76" r="2.4"/><circle cx="1142.08" cy="611.4" r="2.4"/><circle cx="1143.22" cy="611.04" r="2.4"/><circle cx="1144.37" cy="610.68" r="2.4"/><circle cx="1145.52" cy="610.34" r="2.4"/><circle cx="1146.67" cy="610" r="2.4"/><circle cx="1147.82" cy="609.66" r="2.4"/><circle cx="1148.97" cy="609.32" r="2.4"/><circle cx="1150.12" cy="608.98" r="2.4"/><circle cx="1151.27" cy="608.64" r="2.4"/><circle cx="1152.39" cy="608.22" r="2.4"/><circle cx="1153.51" cy="607.78" r="2.4"/><circle cx="1154.63" cy="607.35" r="2.4"/><circle cx="1155.75" cy="606.92" r="2.4"/><circle cx="1156.87" cy="606.49" r="2.4"/><circle cx="1158.05" cy="606.34" r="2.4"/><circle cx="1159.25" cy="606.27" r="2.4"/><circle cx="1160.45" cy="606.2" r="2.4"/><circle cx="1161.65" cy="606.13" r="2.4"/><circle cx="1162.82" cy="605.89" r="2.4"/><circle cx="1163.97" cy="605.55" r="2.4"/><circle cx="1165.12" cy="605.21" r="2.4"/><circle cx="1166.27" cy="604.86" r="2.4"/><circle cx="1167.42" cy="604.52" r="2.4"/><circle cx="1168.57" cy="604.18" r="2.4"/><circle cx="1169.72" cy="603.84" r="2.4"/><circle cx="1170.87" cy="603.5" r="2.4"/><circle cx="1172.02" cy="603.16" r="2.4"/><circle cx="1173.17" cy="602.82" r="2.4"/><circle cx="1174.33" cy="602.5" r="2.4"/><circle cx="1175.48" cy="602.17" r="2.4"/><circle cx="1176.64" cy="601.85" r="2.4"/><circle cx="1177.79" cy="601.52" r="2.4"/><circle cx="1178.95" cy="601.2" r="2.4"/><circle cx="1180.1" cy="600.87" r="2.4"/><circle cx="1181.26" cy="600.55" r="2.4"/><circle cx="1182.41" cy="600.22" r="2.4"/><circle cx="1183.57" cy="599.89" r="2.4"/><circle cx="1184.72" cy="599.57" r="2.4"/><circle cx="1185.88" cy="599.24" r="2.4"/><circle cx="1187.03" cy="598.92" r="2.4"/><circle cx="1188.19" cy="598.6" r="2.4"/><circle cx="1189.35" cy="598.29" r="2.4"/><circle cx="1190.51" cy="597.97" r="2.4"/><circle cx="1191.66" cy="597.66" r="2.4"/><circle cx="1192.82" cy="597.34" r="2.4"/><circle cx="1193.98" cy="597.02" r="2.4"/><circle cx="1195.14" cy="596.71" r="2.4"/><circle cx="1196.29" cy="596.39" r="2.4"/><circle cx="1197.45" cy="596.08" r="2.4"/><circle cx="1198.61" cy="595.76" r="2.4"/><circle cx="1199.77" cy="595.45" r="2.4"/><circle cx="1200.93" cy="595.13" r="2.4"/><circle cx="1202.09" cy="594.83" r="2.4"/><circle cx="1203.25" cy="594.53" r="2.4"/><circle cx="1204.41" cy="594.24" r="2.4"/><circle cx="1205.58" cy="593.95" r="2.4"/><circle cx="1206.74" cy="593.66" r="2.4"/><circle cx="1207.91" cy="593.36" r="2.4"/><circle cx="1209.07" cy="593.07" r="2.4"/><circle cx="1210.23" cy="592.78" r="2.4"/><circle cx="1211.4" cy="592.48" r="2.4"/><circle cx="1212.56" cy="592.19" r="2.4"/><circle cx="1213.72" cy="591.9" r="2.4"/><circle cx="1214.89" cy="591.6" r="2.4"/><circle cx="1216.05" cy="591.31" r="2.4"/><circle cx="1217.22" cy="591.03" r="2.4"/><circle cx="1218.38" cy="590.74" r="2.4"/><circle cx="1219.55" cy="590.46" r="2.4"/><circle cx="1220.71" cy="590.17" r="2.4"/><circle cx="1221.88" cy="589.89" r="2.4"/><circle cx="1223.05" cy="589.6" r="2.4"/><circle cx="1224.21" cy="589.32" r="2.4"/><circle cx="1225.38" cy="589.03" r="2.4"/><circle cx="1226.54" cy="588.75" r="2.4"/><circle cx="1227.71" cy="588.46" r="2.4"/><circle cx="1228.87" cy="588.18" r="2.4"/><circle cx="1230.04" cy="587.89" r="2.4"/><circle cx="1231.23" cy="587.71" r="2.4"/><circle cx="1232.41" cy="587.53" r="2.4"/><circle cx="1233.6" cy="587.35" r="2.4"/><circle cx="1234.78" cy="587.16" r="2.4"/><circle cx="1235.97" cy="586.98" r="2.4"/><circle cx="1237.16" cy="586.8" r="2.4"/><circle cx="1238.34" cy="586.62" r="2.4"/><circle cx="1239.53" cy="586.43" r="2.4"/><circle cx="1240.71" cy="586.25" r="2.4"/><circle cx="1241.9" cy="586.07" r="2.4"/><circle cx="1243.09" cy="585.89" r="2.4"/><circle cx="1244.27" cy="585.7" r="2.4"/><circle cx="1245.46" cy="585.55" r="2.4"/><circle cx="1246.65" cy="585.4" r="2.4"/><circle cx="1247.84" cy="585.25" r="2.4"/><circle cx="1249.03" cy="585.09" r="2.4"/><circle cx="1250.22" cy="584.94" r="2.4"/><circle cx="1251.41" cy="584.79" r="2.4"/><circle cx="1252.6" cy="584.64" r="2.4"/><circle cx="1253.79" cy="584.44" r="2.4"/><circle cx="1254.97" cy="584.24" r="2.4"/><circle cx="1256.15" cy="584.03" r="2.4"/><circle cx="1257.33" cy="583.82" r="2.4"/><circle cx="1258.52" cy="583.61" r="2.4"/><circle cx="1259.7" cy="583.4" r="2.4"/><circle cx="1260.88" cy="583.19" r="2.4"/><circle cx="1262.06" cy="582.97" r="2.4"/><circle cx="1263.24" cy="582.76" r="2.4"/><circle cx="1264.42" cy="582.55" r="2.4"/><circle cx="1265.6" cy="582.34" r="2.4"/><circle cx="1266.78" cy="582.12" r="2.4"/><circle cx="1267.96" cy="581.91" r="2.4"/></g>
</svg></body></html>
